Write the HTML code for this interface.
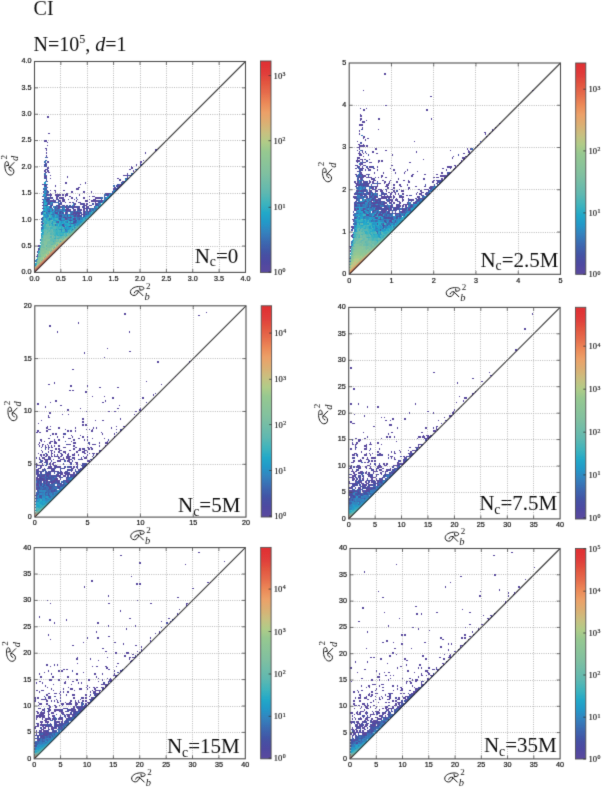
<!DOCTYPE html><html><head><meta charset="utf-8"><style>html,body{margin:0;padding:0;background:#fff;}svg{display:block}</style></head><body>
<svg width="602" height="787" viewBox="0 0 602 787">
<defs><filter id="bl" x="0" y="0" width="602" height="787" filterUnits="userSpaceOnUse"><feConvolveMatrix order="3" kernelMatrix="0.0113 0.0838 0.0113 0.0838 0.6196 0.0838 0.0113 0.0838 0.0113" edgeMode="none" preserveAlpha="false"/></filter><linearGradient id="cm" x1="0" y1="1" x2="0" y2="0"><stop offset="0.0" stop-color="#5b4a9f"/><stop offset="0.04" stop-color="#5048a0"/><stop offset="0.09" stop-color="#4452a4"/><stop offset="0.14" stop-color="#3c68b0"/><stop offset="0.19" stop-color="#3482be"/><stop offset="0.235" stop-color="#2498c8"/><stop offset="0.28" stop-color="#22a8c8"/><stop offset="0.33" stop-color="#40b4bc"/><stop offset="0.38" stop-color="#60b8b0"/><stop offset="0.47" stop-color="#80c0a0"/><stop offset="0.57" stop-color="#96c890"/><stop offset="0.614" stop-color="#b0cc88"/><stop offset="0.66" stop-color="#c8c080"/><stop offset="0.71" stop-color="#dcae72"/><stop offset="0.756" stop-color="#eca068"/><stop offset="0.8" stop-color="#ec8a58"/><stop offset="0.85" stop-color="#e66c4c"/><stop offset="0.9" stop-color="#e2543f"/><stop offset="0.945" stop-color="#e03c3a"/><stop offset="1.0" stop-color="#e02e32"/></linearGradient></defs>
<rect width="602" height="787" fill="#fff"/><g filter="url(#bl)">
<text x="33.6" y="14.6" font-family="Liberation Serif" font-size="20" fill="#111">CI</text>
<text x="33.6" y="50.6" font-family="Liberation Serif" font-size="20" fill="#111">N=10<tspan font-size="12" dy="-8">5</tspan><tspan dy="8">, </tspan><tspan font-style="italic">d</tspan>=1</text>
<path d="M60.50 61.50V272.40M34.50 246.50H245.50M87.50 61.50V272.40M34.50 219.50H245.50M113.50 61.50V272.40M34.50 193.50H245.50M140.50 61.50V272.40M34.50 166.50H245.50M166.50 61.50V272.40M34.50 140.50H245.50M192.50 61.50V272.40M34.50 114.50H245.50M219.50 61.50V272.40M34.50 87.50H245.50" stroke="#bcbcbc" stroke-width="1" stroke-dasharray="1 1.25" fill="none"/>
<defs><clipPath id="cq0"><polygon points="34.50,61.50 34.50,272.80 245.90,61.50"/></clipPath></defs><g clip-path="url(#cq0)"><g transform="translate(34.50,272.40) scale(1.5)" fill="none" stroke-width="1" shape-rendering="crispEdges"><path d="M0 -0.5h1M21 -22.5h1M21.5 -23.5h1M15 -24.5h1M23 -24.5h1M14 -26.5h1M17 -26.5h2M25 -26.5h1M4.5 -27.5h1M27.5 -27.5h1M18 -28.5h1M23 -28.5h1M24.5 -29.5h1M9.5 -31.5h1M22.5 -31.5h1M14 -32.5h1M18 -32.5h1M13.5 -33.5h1M24.5 -33.5h1M20 -34.5h1M8.5 -35.5h1M11.5 -35.5h1M32.5 -35.5h1M6 -36.5h1M10.5 -39.5h1M6.5 -43.5h1M6.5 -45.5h1" stroke="#2eaec6"/><path d="M1 -0.5h1M0.5 -3.5h1M2.5 -3.5h1M2.5 -5.5h1M3 -6.5h1M6.5 -7.5h1M6.5 -9.5h1M3 -10.5h1M14 -14.5h1M14.5 -15.5h1M5 -18.5h1M12.5 -19.5h1M14 -20.5h1M12 -22.5h1M7.5 -31.5h1" stroke="#6abaaa"/><path d="M0.5 -1.5h1M2 -2.5h1M1.5 -9.5h1M3 -16.5h1M13 -16.5h1M15 -22.5h1M13.5 -23.5h1M20.5 -23.5h1M16 -24.5h1M5.5 -25.5h1M13.5 -25.5h1M17.5 -25.5h1M24.5 -25.5h2M16.5 -27.5h1M25.5 -27.5h1M12 -28.5h1M6.5 -29.5h1M11.5 -29.5h1M14.5 -29.5h1M16.5 -29.5h1M12 -30.5h1M14 -30.5h1M20 -30.5h1M5.5 -31.5h1M9 -32.5h1M7 -34.5h1M10 -34.5h1M34 -36.5h1M37.5 -39.5h1" stroke="#42b6ba"/><path d="M1.5 -1.5h1M7 -10.5h1M15.5 -15.5h1M15 -20.5h1M5.5 -23.5h1M12 -24.5h1M7.5 -27.5h1" stroke="#6ebeaa"/><path d="M0 -2.5h1M11 -14.5h1M12.5 -15.5h1M16.5 -17.5h1M10.5 -21.5h1M23.5 -23.5h1M11.5 -25.5h1M19.5 -25.5h1M10 -26.5h1M22 -26.5h1M6 -28.5h2M9 -28.5h1M9.5 -29.5h1M11 -34.5h1" stroke="#62bab2"/><path d="M1 -2.5h1M10 -12.5h1M13.5 -15.5h1M15 -16.5h1M15 -18.5h1M4 -20.5h1M19 -20.5h1M21.5 -21.5h1M16 -22.5h1M16.5 -23.5h1M10.5 -25.5h1M12.5 -25.5h1M9.5 -27.5h1M8 -28.5h1M7.5 -29.5h1M25.5 -29.5h1M7 -30.5h1M11 -30.5h1M13 -30.5h1" stroke="#52b6b6"/><path d="M3 -2.5h1M3.5 -5.5h2M1 -6.5h1M2.5 -11.5h1M8 -16.5h1M6.5 -21.5h1M7 -22.5h1M8.5 -23.5h1" stroke="#7abea2"/><path d="M1.5 -3.5h1M4 -6.5h1M4.5 -7.5h1M8.5 -11.5h1M9 -12.5h1M11 -12.5h1M13.5 -13.5h1M7.5 -15.5h1M6 -16.5h1M8 -18.5h1M12 -18.5h1M4.5 -19.5h1M9.5 -19.5h3M18.5 -19.5h1M9 -20.5h2M5 -22.5h1M9 -22.5h1M9.5 -23.5h1M8.5 -25.5h2M6 -26.5h2M9 -26.5h1" stroke="#72bea6"/><path d="M3.5 -3.5h1M1 -4.5h1M9 -10.5h1M3 -14.5h1M3.5 -15.5h1M5 -16.5h1M16 -16.5h2M9.5 -17.5h1M10 -18.5h1M8.5 -19.5h1M13.5 -19.5h1M19.5 -19.5h1M5 -20.5h1M5.5 -21.5h1M10 -22.5h1M6 -24.5h3M10 -24.5h1M21.5 -25.5h1" stroke="#76bea6"/><path d="M0 -4.5h1M0.5 -7.5h1M3.5 -21.5h1M4 -24.5h1M20.5 -27.5h1M26.5 -27.5h1M17 -28.5h1M26.5 -29.5h1M26.5 -31.5h1M23 -32.5h1M27 -32.5h1M32 -32.5h1M23.5 -33.5h1M33.5 -33.5h1M18 -34.5h2M25 -34.5h1M29 -34.5h1M17.5 -35.5h1M22.5 -35.5h1M30.5 -35.5h2M12 -36.5h1M18 -36.5h1M27 -36.5h1M30 -36.5h2M37 -36.5h1M8.5 -37.5h1M12.5 -37.5h1M15.5 -37.5h1M18.5 -37.5h1M20.5 -37.5h1M33.5 -37.5h1M36.5 -37.5h2M6 -38.5h1M8 -38.5h1M19 -38.5h1M9.5 -39.5h1M12.5 -39.5h1M23.5 -39.5h1M10 -40.5h1M34 -40.5h1M8.5 -41.5h1M16.5 -41.5h2M19.5 -41.5h1M8 -42.5h1M11 -42.5h1M5.5 -43.5h1M7.5 -43.5h1M12.5 -43.5h1M25 -44.5h1M10.5 -45.5h1M25.5 -45.5h1M8 -46.5h1M5.5 -47.5h1M47 -48.5h1M7.5 -49.5h1M48 -50.5h1M7 -54.5h1M53 -54.5h2M55.5 -55.5h1M7 -60.5h1M61 -60.5h1" stroke="#3682be"/><path d="M2 -4.5h1M7.5 -9.5h1M11.5 -13.5h1M14 -16.5h1M7.5 -17.5h1M16.5 -19.5h1M11.5 -21.5h2M14 -22.5h1M19 -22.5h1M5 -24.5h1M12 -26.5h1M6.5 -27.5h1M8.5 -27.5h1M8.5 -31.5h1M13 -32.5h1" stroke="#62baae"/><path d="M3 -4.5h1M6 -8.5h1M13 -14.5h1M4 -18.5h1M17.5 -19.5h1M18 -20.5h1M10.5 -23.5h1M17.5 -23.5h1M14 -24.5h1M24 -24.5h1M22.5 -25.5h1M26 -26.5h1M8.5 -29.5h1M12.5 -29.5h2M27 -30.5h1M10 -32.5h1M12 -32.5h1M5.5 -33.5h1M6.5 -35.5h1M9.5 -37.5h1M38 -40.5h1" stroke="#56b6b6"/><path d="M4 -4.5h1M8 -8.5h1M11.5 -11.5h1M4.5 -17.5h1M8.5 -17.5h1M5.5 -19.5h1M14.5 -21.5h1M11.5 -23.5h1M9 -24.5h1" stroke="#7abea6"/><path d="M5 -4.5h1M6 -6.5h1M9 -8.5h1M3 -12.5h1M5 -12.5h1M4 -14.5h1M6.5 -15.5h1M6 -18.5h1M13 -18.5h1M7 -20.5h1M7.5 -21.5h3M18 -22.5h1" stroke="#82c29e"/><path d="M0.5 -5.5h1M17 -24.5h1M21 -24.5h1M23.5 -25.5h1M19 -26.5h1M21 -26.5h1M23 -26.5h1M24.5 -27.5h1M5 -28.5h1M26 -28.5h1M17.5 -29.5h1M21.5 -29.5h1M23.5 -29.5h1M16 -30.5h1M25 -30.5h1M21.5 -31.5h1M27.5 -31.5h1M30.5 -31.5h1M7 -32.5h1M21 -32.5h2M30 -32.5h1M16.5 -33.5h1M31 -34.5h1M35 -34.5h1M5.5 -35.5h1M12.5 -35.5h1M11 -36.5h1M9 -38.5h2M12 -40.5h1M6.5 -41.5h1M8.5 -43.5h1M7.5 -45.5h1M43.5 -45.5h1M48.5 -49.5h1M6 -50.5h1M50 -50.5h1M51.5 -51.5h1" stroke="#22aaca"/><path d="M1.5 -5.5h1M4.5 -9.5h1M6.5 -11.5h1M14 -18.5h1" stroke="#96ca92"/><path d="M5.5 -5.5h1M7 -6.5h1M7.5 -7.5h1M2 -8.5h1M6 -14.5h1M8 -14.5h2M4.5 -15.5h1M8.5 -15.5h2M7 -18.5h1M16.5 -21.5h1M6 -22.5h1" stroke="#86c29e"/><path d="M2 -6.5h1" stroke="#92c692"/><path d="M5 -6.5h1M7 -8.5h1M10 -10.5h2M3.5 -13.5h1M4 -16.5h1M6.5 -17.5h1M6.5 -19.5h1M6 -20.5h1" stroke="#82c2a2"/><path d="M1.5 -7.5h1M5 -8.5h1M9.5 -9.5h1M8 -10.5h1M3.5 -11.5h1M13 -12.5h1M12.5 -13.5h1M15 -14.5h1M9 -16.5h2M5.5 -17.5h1M10.5 -17.5h1M8 -20.5h1M8 -22.5h1M6.5 -23.5h2M19.5 -23.5h1" stroke="#7ebea2"/><path d="M2.5 -7.5h1M5 -10.5h1M10.5 -15.5h1" stroke="#92c696"/><path d="M3.5 -7.5h1" stroke="#b2ca86"/><path d="M5.5 -7.5h1M17.5 -17.5h1M17 -18.5h1M13 -20.5h1M21 -20.5h1M18.5 -21.5h1M11 -22.5h1M20 -24.5h1M7.5 -25.5h1M11 -28.5h1" stroke="#66baae"/><path d="M1 -8.5h1M17.5 -27.5h1M21 -28.5h2M19.5 -29.5h1M22 -30.5h1M31 -30.5h1M19.5 -31.5h1M23.5 -31.5h1M28.5 -31.5h1M31 -32.5h1M33 -32.5h1M17.5 -33.5h1M20.5 -33.5h1M28.5 -33.5h1M30.5 -33.5h1M5 -34.5h1M33 -34.5h1M10.5 -35.5h1M15.5 -35.5h1M19.5 -35.5h1M24.5 -35.5h1M27.5 -35.5h1M7 -36.5h1M14 -36.5h2M35 -36.5h1M11.5 -37.5h1M24.5 -37.5h1M34.5 -37.5h2M14 -38.5h1M18 -38.5h1M22 -38.5h1M36 -38.5h1M8.5 -39.5h1M11.5 -39.5h1M36.5 -39.5h1M8 -40.5h1M11 -40.5h1M14 -40.5h1M41 -40.5h1M37.5 -41.5h1M6 -42.5h1M9 -42.5h2M40.5 -43.5h1M6 -44.5h1M11 -46.5h1M45.5 -47.5h1M6 -48.5h1M47.5 -49.5h1M49 -50.5h1M51 -52.5h1M52.5 -53.5h1M7 -56.5h1M8 -58.5h1M60 -60.5h1" stroke="#2a8ec6"/><path d="M3 -8.5h1M3.5 -9.5h1M4.5 -11.5h2M7 -12.5h1M5.5 -13.5h1M7.5 -13.5h1M12.5 -17.5h1M14.5 -19.5h1M16 -20.5h1M17.5 -21.5h1" stroke="#8ec696"/><path d="M4 -8.5h1M10 -14.5h1M15.5 -19.5h1" stroke="#a2ca8e"/><path d="M2.5 -9.5h1M6.5 -13.5h1M5 -14.5h1M5.5 -15.5h1M7.5 -19.5h1" stroke="#86c29a"/><path d="M5.5 -9.5h1M9.5 -13.5h1" stroke="#bec686"/><path d="M8.5 -9.5h1M4 -10.5h1M6 -12.5h1M4.5 -13.5h1M7 -16.5h1M11 -16.5h1M11.5 -17.5h1" stroke="#8ac29a"/><path d="M1 -10.5h1M1.5 -13.5h1M2 -14.5h1M2.5 -17.5h1M19 -30.5h1M29.5 -31.5h1M5 -32.5h1M15.5 -33.5h1M20.5 -35.5h1M26.5 -35.5h1M35.5 -35.5h1M19 -36.5h1M22 -36.5h3M36 -36.5h1M26.5 -37.5h1M28.5 -37.5h1M4 -38.5h1M24 -38.5h2M29 -38.5h1M31 -38.5h1M33 -38.5h1M39 -38.5h1M14.5 -39.5h1M20.5 -39.5h1M25.5 -39.5h2M28.5 -39.5h2M32.5 -39.5h1M21 -40.5h1M26 -40.5h1M33 -40.5h1M35 -40.5h1M39 -40.5h1M11.5 -41.5h1M13.5 -41.5h1M21.5 -41.5h3M25.5 -41.5h2M30.5 -41.5h1M32.5 -41.5h1M36.5 -41.5h1M40.5 -41.5h1M5 -42.5h1M15 -42.5h1M21 -42.5h2M28 -42.5h2M32 -42.5h3M36 -42.5h1M43 -42.5h1M15.5 -43.5h2M20.5 -43.5h1M25.5 -43.5h2M29.5 -43.5h1M31.5 -43.5h1M34.5 -43.5h2M42.5 -43.5h1M5 -44.5h1M15 -44.5h2M18 -44.5h2M26 -44.5h1M32 -44.5h3M37 -44.5h1M44 -44.5h1M9.5 -45.5h1M17.5 -45.5h1M26.5 -45.5h1M30.5 -45.5h1M32.5 -45.5h1M34.5 -45.5h1M40.5 -45.5h1M5 -46.5h1M9 -46.5h1M20 -46.5h1M23 -46.5h1M25 -46.5h1M29 -46.5h2M36 -46.5h1M40 -46.5h1M42 -46.5h1M46 -46.5h1M10.5 -47.5h3M16.5 -47.5h1M18.5 -47.5h2M27.5 -47.5h1M33.5 -47.5h2M37.5 -47.5h5M44.5 -47.5h1M47.5 -47.5h1M8 -48.5h2M14 -48.5h1M19 -48.5h1M22 -48.5h1M26 -48.5h1M28 -48.5h1M36 -48.5h1M39 -48.5h2M44 -48.5h1M10.5 -49.5h1M14.5 -49.5h1M16.5 -49.5h3M24.5 -49.5h1M32.5 -49.5h1M40.5 -49.5h3M5 -50.5h1M14 -50.5h1M20 -50.5h1M23 -50.5h1M36 -50.5h1M38 -50.5h2M46 -50.5h1M7.5 -51.5h2M10.5 -51.5h1M13.5 -51.5h4M18.5 -51.5h1M20.5 -51.5h2M29.5 -51.5h1M48.5 -51.5h1M10 -52.5h1M21 -52.5h1M47 -52.5h3M5.5 -53.5h1M13.5 -53.5h1M24.5 -53.5h1M32.5 -53.5h1M37.5 -53.5h1M51.5 -53.5h1M8 -54.5h1M10 -54.5h1M13 -54.5h1M19 -54.5h1M27.5 -55.5h2M52.5 -55.5h1M8 -56.5h1M29 -56.5h1M53 -56.5h1M7.5 -57.5h1M13.5 -57.5h1M55.5 -57.5h2M5 -58.5h1M30 -58.5h1M57 -58.5h1M20.5 -59.5h1M33.5 -59.5h1M8 -60.5h1M58 -60.5h2M56.5 -61.5h1M61.5 -61.5h1M10 -62.5h1M55 -62.5h1M62 -62.5h1M6.5 -63.5h2M21.5 -63.5h1M6 -64.5h1M10 -64.5h1M59 -64.5h3M61.5 -65.5h1M7 -66.5h1M9 -66.5h1M66 -66.5h1M6.5 -67.5h1M8.5 -67.5h1M65.5 -67.5h1M67.5 -67.5h1M7 -68.5h1M63 -68.5h1M68 -68.5h2M8.5 -69.5h1M64.5 -69.5h1M69.5 -69.5h1M64 -70.5h1M7.5 -71.5h1M67.5 -71.5h1M71.5 -71.5h1M70 -72.5h1M8.5 -73.5h1M70.5 -73.5h1M72 -74.5h1M74 -74.5h2M8 -76.5h1M76 -76.5h1M7.5 -77.5h1M7.5 -79.5h1M73.5 -79.5h1M7.5 -81.5h1M80.5 -81.5h1M7 -82.5h1M82 -82.5h1M8 -84.5h1M8 -86.5h1M6.5 -87.5h2M9 -92.5h1M8.5 -103.5h1" stroke="#5a4a9e"/><path d="M2 -10.5h1M12 -14.5h1M15.5 -17.5h1M19 -18.5h1M20 -20.5h1M20.5 -21.5h1M22 -22.5h1M19 -24.5h1M25 -24.5h1M15.5 -25.5h1M20.5 -25.5h1M13 -26.5h1M5.5 -27.5h1M12.5 -27.5h1M15.5 -27.5h1M18.5 -27.5h1M10 -28.5h1M10.5 -31.5h1M15.5 -31.5h1M8 -32.5h1M8.5 -33.5h1M10.5 -33.5h1M5.5 -37.5h1M41.5 -43.5h1M49.5 -49.5h1" stroke="#4ab6ba"/><path d="M6 -10.5h1M8 -12.5h1" stroke="#aaca8a"/><path d="M1.5 -11.5h1M2.5 -15.5h1M20 -28.5h1M23 -30.5h1M28 -30.5h1M18.5 -31.5h1M24 -32.5h2M25.5 -33.5h2M23 -34.5h2M27 -34.5h1M4.5 -35.5h1M16.5 -35.5h1M25.5 -35.5h1M29.5 -35.5h1M33.5 -35.5h1M20 -36.5h1M16.5 -37.5h2M21.5 -37.5h1M29.5 -37.5h2M32.5 -37.5h1M20 -38.5h1M27 -38.5h1M32 -38.5h1M34 -38.5h1M37 -38.5h1M4.5 -39.5h1M13.5 -39.5h1M16.5 -39.5h1M18.5 -39.5h1M27.5 -39.5h1M30.5 -39.5h1M35.5 -39.5h1M38.5 -39.5h2M6 -40.5h1M9 -40.5h1M17 -40.5h1M23 -40.5h1M28 -40.5h1M32 -40.5h1M36 -40.5h1M20.5 -41.5h1M28.5 -41.5h2M34.5 -41.5h1M16 -42.5h1M18 -42.5h1M25 -42.5h1M35 -42.5h1M38 -42.5h1M41 -42.5h1M10.5 -43.5h1M13.5 -43.5h1M22.5 -43.5h3M27.5 -43.5h2M32.5 -43.5h1M39.5 -43.5h1M7 -44.5h2M10 -44.5h2M14 -44.5h1M21 -44.5h1M23 -44.5h1M36 -44.5h1M40 -44.5h3M45 -44.5h1M8.5 -45.5h1M11.5 -45.5h1M16.5 -45.5h1M31.5 -45.5h1M38.5 -45.5h1M41.5 -45.5h1M13 -46.5h1M17 -46.5h1M43 -46.5h2M7.5 -47.5h2M13.5 -47.5h1M15.5 -47.5h1M42.5 -47.5h2M5 -48.5h1M7 -48.5h1M12 -48.5h1M15 -48.5h1M18 -48.5h1M8.5 -49.5h1M11.5 -49.5h1M27.5 -49.5h1M43.5 -49.5h1M10 -50.5h1M15 -50.5h1M47.5 -51.5h1M8.5 -53.5h1M55 -54.5h1M7.5 -55.5h1M53.5 -55.5h2M55 -56.5h1M57 -56.5h1M6.5 -57.5h1M54.5 -57.5h1M57.5 -57.5h1M6 -58.5h2M55 -58.5h1M58 -58.5h2M57.5 -59.5h1M7.5 -61.5h1M7 -62.5h1M61 -62.5h1M61.5 -63.5h1M62 -64.5h4M67 -66.5h1M8 -68.5h1M6 -70.5h2M6.5 -71.5h1M70.5 -71.5h1M7 -72.5h1" stroke="#4252a6"/><path d="M7.5 -11.5h1" stroke="#c2c682"/><path d="M9.5 -11.5h1M10.5 -13.5h1M16 -18.5h1M18 -18.5h1M15.5 -21.5h1M19.5 -21.5h1M17 -22.5h1M20 -22.5h1M12.5 -23.5h1M14.5 -23.5h1M18.5 -23.5h1M11.5 -27.5h1M10 -30.5h1" stroke="#6abaae"/><path d="M10.5 -11.5h1M12 -12.5h1M9 -18.5h1" stroke="#7ec2a2"/><path d="M2 -12.5h1M4.5 -25.5h1M14 -28.5h1M27.5 -29.5h1M18 -30.5h1M11.5 -31.5h1M14.5 -31.5h1M16.5 -31.5h1M20.5 -31.5h1M25.5 -31.5h1M15 -32.5h1M17 -32.5h1M28 -32.5h1M18.5 -33.5h1M9 -34.5h1M12 -34.5h1M14 -34.5h1M16 -34.5h1M21 -34.5h1M7.5 -35.5h1M18.5 -35.5h1M13 -36.5h1M25 -36.5h1M5 -38.5h1M7 -38.5h1M5.5 -39.5h1M15.5 -39.5h1M19 -40.5h1M5.5 -41.5h1M7 -42.5h1M6 -46.5h1M6.5 -47.5h1M5.5 -51.5h1M52 -52.5h1M56 -56.5h1M6.5 -59.5h1" stroke="#22a2ca"/><path d="M4 -12.5h1M7 -14.5h1" stroke="#8ac69a"/><path d="M2.5 -13.5h1M3.5 -17.5h1M3.5 -19.5h1M13 -22.5h1M4.5 -23.5h1M18 -24.5h1M22 -24.5h1M14.5 -25.5h1M20 -26.5h1M24 -26.5h1M15.5 -29.5h1M15 -30.5h1M17 -30.5h1M30 -30.5h1M24.5 -31.5h1M16 -32.5h1M20 -32.5h1M6.5 -33.5h2M19.5 -33.5h1M22.5 -33.5h1M8 -34.5h1M15 -34.5h1M32 -34.5h1M10.5 -37.5h1M13.5 -37.5h1" stroke="#36aec2"/><path d="M8.5 -13.5h1" stroke="#96c692"/><path d="M11.5 -15.5h1" stroke="#b6ca86"/><path d="M12 -16.5h1" stroke="#9aca8e"/><path d="M13.5 -17.5h1" stroke="#b2ce8a"/><path d="M14.5 -17.5h1M12 -20.5h1M13 -24.5h1M16.5 -25.5h1M18.5 -25.5h1M8 -26.5h1M15 -26.5h2M13.5 -27.5h2M19.5 -27.5h1M22.5 -27.5h1M13 -28.5h1M15 -28.5h1M19 -28.5h1M24 -28.5h1M10.5 -29.5h1M18.5 -29.5h1M28.5 -29.5h2M6 -30.5h1M6.5 -31.5h1M12.5 -31.5h1M9.5 -33.5h1M12.5 -33.5h1M6 -34.5h1M13.5 -35.5h2M9 -36.5h2M6.5 -39.5h1" stroke="#3eb2be"/><path d="M11 -18.5h1M4.5 -21.5h1M13.5 -21.5h1M4 -22.5h1M23 -22.5h1M15.5 -23.5h1M22.5 -23.5h1M11 -26.5h1M10.5 -27.5h1M23.5 -27.5h1M6 -32.5h1" stroke="#5eb6b2"/><path d="M11 -20.5h1M11 -24.5h1M6.5 -25.5h1M8 -30.5h2" stroke="#6ebaaa"/><path d="M17 -20.5h1M5 -26.5h1M27 -26.5h1M21.5 -27.5h1M16 -28.5h1M28 -28.5h2M5.5 -29.5h1M20.5 -29.5h1M22.5 -29.5h1M5 -30.5h1M21 -30.5h1M24 -30.5h1M26 -30.5h1M29 -30.5h1M17.5 -31.5h1M11 -32.5h1M19 -32.5h1M29 -32.5h1M11.5 -33.5h1M29.5 -33.5h1M31.5 -33.5h2M13 -34.5h1M22 -34.5h1M28 -34.5h1M30 -34.5h1M8 -36.5h1M33 -36.5h1M6.5 -37.5h2M14.5 -37.5h1M22.5 -37.5h1M13 -38.5h1M38 -38.5h1M7 -40.5h1M7.5 -41.5h1M10.5 -41.5h1M12.5 -41.5h1M39.5 -41.5h1M19 -42.5h1M43 -44.5h1M7 -46.5h1M45 -46.5h1M51 -50.5h1M6.5 -51.5h1M49.5 -51.5h1M6.5 -53.5h1M6 -56.5h1M60.5 -61.5h1" stroke="#269aca"/><path d="M4 -28.5h1M25 -28.5h1M27 -28.5h1M4.5 -29.5h1M4.5 -31.5h1M13.5 -31.5h1M31.5 -31.5h1M26 -32.5h1M4.5 -33.5h1M14.5 -33.5h1M21.5 -33.5h1M27.5 -33.5h1M17 -34.5h1M26 -34.5h1M34 -34.5h1M9.5 -35.5h1M21.5 -35.5h1M23.5 -35.5h1M28.5 -35.5h1M34.5 -35.5h1M5 -36.5h1M16 -36.5h2M21 -36.5h1M26 -36.5h1M28 -36.5h2M32 -36.5h1M19.5 -37.5h1M23.5 -37.5h1M25.5 -37.5h1M27.5 -37.5h1M11 -38.5h2M15 -38.5h3M21 -38.5h1M23 -38.5h1M26 -38.5h1M28 -38.5h1M35 -38.5h1M7.5 -39.5h1M17.5 -39.5h1M21.5 -39.5h1M24.5 -39.5h1M33.5 -39.5h2M5 -40.5h1M13 -40.5h1M15 -40.5h2M18 -40.5h1M20 -40.5h1M22 -40.5h1M24 -40.5h2M27 -40.5h1M29 -40.5h2M37 -40.5h1M40 -40.5h1M9.5 -41.5h1M14.5 -41.5h2M18.5 -41.5h1M38.5 -41.5h1M13 -42.5h2M37 -42.5h1M39 -42.5h2M42 -42.5h1M9.5 -43.5h1M14.5 -43.5h1M17.5 -43.5h3M21.5 -43.5h1M5.5 -45.5h1M15.5 -45.5h1M42.5 -45.5h1M10 -46.5h1M12 -46.5h1M14 -46.5h2M9.5 -47.5h1M46.5 -47.5h1M46 -48.5h1M6.5 -49.5h1M9.5 -49.5h1M44.5 -49.5h1M46.5 -49.5h1M7 -50.5h1M9.5 -51.5h1M46.5 -51.5h1M50.5 -51.5h1M6 -52.5h3M50 -52.5h1M53 -52.5h1M7.5 -53.5h1M53.5 -53.5h1M6 -54.5h1M52 -54.5h1M5.5 -55.5h2M52.5 -57.5h1M56 -58.5h1M58.5 -59.5h2M6 -62.5h1M60 -62.5h1M63 -62.5h1M7 -64.5h1M6.5 -65.5h1M64.5 -65.5h2M67 -68.5h1M72 -72.5h1M6.5 -73.5h1M7 -74.5h1M7 -76.5h1" stroke="#3a6eb2"/></g></g>
<defs><linearGradient id="g0_0" gradientUnits="userSpaceOnUse" x1="34.50" y1="272.40" x2="245.50" y2="61.50"><stop offset="0.000" stop-color="#e02e32" stop-opacity="1.00"/><stop offset="0.025" stop-color="#e02e32" stop-opacity="1.00"/><stop offset="0.050" stop-color="#e02e32" stop-opacity="1.00"/><stop offset="0.075" stop-color="#e02e32" stop-opacity="1.00"/><stop offset="0.100" stop-color="#e03234" stop-opacity="1.00"/><stop offset="0.125" stop-color="#e03938" stop-opacity="1.00"/><stop offset="0.150" stop-color="#e46246" stop-opacity="1.00"/><stop offset="0.175" stop-color="#e7a46b" stop-opacity="1.00"/><stop offset="0.200" stop-color="#c3c382" stop-opacity="1.00"/><stop offset="0.225" stop-color="#93c792" stop-opacity="1.00"/><stop offset="0.250" stop-color="#86c29c" stop-opacity="1.00"/><stop offset="0.275" stop-color="#73bda6" stop-opacity="1.00"/><stop offset="0.300" stop-color="#61b8b0" stop-opacity="1.00"/><stop offset="0.325" stop-color="#3fb4bc" stop-opacity="1.00"/><stop offset="0.350" stop-color="#22a7c8" stop-opacity="0.95"/><stop offset="0.375" stop-color="#2794c6" stop-opacity="0.14"/><stop offset="0.400" stop-color="#367bba" stop-opacity="0.00"/><stop offset="0.425" stop-color="#3e62ad" stop-opacity="0.00"/><stop offset="0.450" stop-color="#484fa3" stop-opacity="0.00"/><stop offset="0.475" stop-color="#5549a0" stop-opacity="0.00"/><stop offset="0.500" stop-color="#5b4a9f" stop-opacity="0.00"/><stop offset="0.525" stop-color="#5b4a9f" stop-opacity="0.00"/><stop offset="0.550" stop-color="#5b4a9f" stop-opacity="0.00"/><stop offset="0.575" stop-color="#5b4a9f" stop-opacity="0.00"/><stop offset="0.600" stop-color="#5b4a9f" stop-opacity="0.00"/><stop offset="0.625" stop-color="#5b4a9f" stop-opacity="0.00"/><stop offset="0.650" stop-color="#5b4a9f" stop-opacity="0.00"/><stop offset="0.675" stop-color="#5b4a9f" stop-opacity="0.00"/><stop offset="0.700" stop-color="#5b4a9f" stop-opacity="0.00"/><stop offset="0.725" stop-color="#5b4a9f" stop-opacity="0.00"/><stop offset="0.750" stop-color="#5b4a9f" stop-opacity="0.00"/><stop offset="0.775" stop-color="#5b4a9f" stop-opacity="0.00"/><stop offset="0.800" stop-color="#5b4a9f" stop-opacity="0.00"/><stop offset="0.825" stop-color="#5b4a9f" stop-opacity="0.00"/><stop offset="0.850" stop-color="#5b4a9f" stop-opacity="0.00"/><stop offset="0.875" stop-color="#5b4a9f" stop-opacity="0.00"/><stop offset="0.900" stop-color="#5b4a9f" stop-opacity="0.00"/><stop offset="0.925" stop-color="#5b4a9f" stop-opacity="0.00"/><stop offset="0.950" stop-color="#5b4a9f" stop-opacity="0.00"/><stop offset="0.975" stop-color="#5b4a9f" stop-opacity="0.00"/><stop offset="1.000" stop-color="#5b4a9f" stop-opacity="0.00"/></linearGradient><linearGradient id="g0_1" gradientUnits="userSpaceOnUse" x1="34.50" y1="272.40" x2="245.50" y2="61.50"><stop offset="0.000" stop-color="#e03a39" stop-opacity="1.00"/><stop offset="0.025" stop-color="#e03c3a" stop-opacity="1.00"/><stop offset="0.050" stop-color="#e03e3a" stop-opacity="1.00"/><stop offset="0.075" stop-color="#e0413b" stop-opacity="1.00"/><stop offset="0.100" stop-color="#e14e3e" stop-opacity="1.00"/><stop offset="0.125" stop-color="#e35b43" stop-opacity="1.00"/><stop offset="0.150" stop-color="#ec8d5a" stop-opacity="1.00"/><stop offset="0.175" stop-color="#c7c080" stop-opacity="1.00"/><stop offset="0.200" stop-color="#95c891" stop-opacity="1.00"/><stop offset="0.225" stop-color="#81c09f" stop-opacity="1.00"/><stop offset="0.250" stop-color="#6ebba9" stop-opacity="1.00"/><stop offset="0.275" stop-color="#54b7b4" stop-opacity="1.00"/><stop offset="0.300" stop-color="#38b1bf" stop-opacity="1.00"/><stop offset="0.325" stop-color="#22a4c8" stop-opacity="0.85"/><stop offset="0.350" stop-color="#2992c5" stop-opacity="0.08"/><stop offset="0.375" stop-color="#377aba" stop-opacity="0.00"/><stop offset="0.400" stop-color="#3e62ad" stop-opacity="0.00"/><stop offset="0.425" stop-color="#474fa3" stop-opacity="0.00"/><stop offset="0.450" stop-color="#5449a0" stop-opacity="0.00"/><stop offset="0.475" stop-color="#5b4a9f" stop-opacity="0.00"/><stop offset="0.500" stop-color="#5b4a9f" stop-opacity="0.00"/><stop offset="0.525" stop-color="#5b4a9f" stop-opacity="0.00"/><stop offset="0.550" stop-color="#5b4a9f" stop-opacity="0.00"/><stop offset="0.575" stop-color="#5b4a9f" stop-opacity="0.00"/><stop offset="0.600" stop-color="#5b4a9f" stop-opacity="0.00"/><stop offset="0.625" stop-color="#5b4a9f" stop-opacity="0.00"/><stop offset="0.650" stop-color="#5b4a9f" stop-opacity="0.00"/><stop offset="0.675" stop-color="#5b4a9f" stop-opacity="0.00"/><stop offset="0.700" stop-color="#5b4a9f" stop-opacity="0.00"/><stop offset="0.725" stop-color="#5b4a9f" stop-opacity="0.00"/><stop offset="0.750" stop-color="#5b4a9f" stop-opacity="0.00"/><stop offset="0.775" stop-color="#5b4a9f" stop-opacity="0.00"/><stop offset="0.800" stop-color="#5b4a9f" stop-opacity="0.00"/><stop offset="0.825" stop-color="#5b4a9f" stop-opacity="0.00"/><stop offset="0.850" stop-color="#5b4a9f" stop-opacity="0.00"/><stop offset="0.875" stop-color="#5b4a9f" stop-opacity="0.00"/><stop offset="0.900" stop-color="#5b4a9f" stop-opacity="0.00"/><stop offset="0.925" stop-color="#5b4a9f" stop-opacity="0.00"/><stop offset="0.950" stop-color="#5b4a9f" stop-opacity="0.00"/><stop offset="0.975" stop-color="#5b4a9f" stop-opacity="0.00"/><stop offset="1.000" stop-color="#5b4a9f" stop-opacity="0.00"/></linearGradient><linearGradient id="g0_2" gradientUnits="userSpaceOnUse" x1="34.50" y1="272.40" x2="245.50" y2="61.50"><stop offset="0.000" stop-color="#e45e44" stop-opacity="1.00"/><stop offset="0.025" stop-color="#e46146" stop-opacity="1.00"/><stop offset="0.050" stop-color="#e56347" stop-opacity="1.00"/><stop offset="0.075" stop-color="#e56649" stop-opacity="1.00"/><stop offset="0.100" stop-color="#e7724f" stop-opacity="1.00"/><stop offset="0.125" stop-color="#ea8255" stop-opacity="1.00"/><stop offset="0.150" stop-color="#deac71" stop-opacity="1.00"/><stop offset="0.175" stop-color="#99c88f" stop-opacity="1.00"/><stop offset="0.200" stop-color="#83c19e" stop-opacity="1.00"/><stop offset="0.225" stop-color="#64b9ae" stop-opacity="1.00"/><stop offset="0.250" stop-color="#47b5b9" stop-opacity="1.00"/><stop offset="0.275" stop-color="#28aac6" stop-opacity="1.00"/><stop offset="0.300" stop-color="#239ec8" stop-opacity="0.55"/><stop offset="0.325" stop-color="#2d8cc3" stop-opacity="0.00"/><stop offset="0.350" stop-color="#3877b8" stop-opacity="0.00"/><stop offset="0.375" stop-color="#3f60ac" stop-opacity="0.00"/><stop offset="0.400" stop-color="#474fa3" stop-opacity="0.00"/><stop offset="0.425" stop-color="#5349a0" stop-opacity="0.00"/><stop offset="0.450" stop-color="#5b4a9f" stop-opacity="0.00"/><stop offset="0.475" stop-color="#5b4a9f" stop-opacity="0.00"/><stop offset="0.500" stop-color="#5b4a9f" stop-opacity="0.00"/><stop offset="0.525" stop-color="#5b4a9f" stop-opacity="0.00"/><stop offset="0.550" stop-color="#5b4a9f" stop-opacity="0.00"/><stop offset="0.575" stop-color="#5b4a9f" stop-opacity="0.00"/><stop offset="0.600" stop-color="#5b4a9f" stop-opacity="0.00"/><stop offset="0.625" stop-color="#5b4a9f" stop-opacity="0.00"/><stop offset="0.650" stop-color="#5b4a9f" stop-opacity="0.00"/><stop offset="0.675" stop-color="#5b4a9f" stop-opacity="0.00"/><stop offset="0.700" stop-color="#5b4a9f" stop-opacity="0.00"/><stop offset="0.725" stop-color="#5b4a9f" stop-opacity="0.00"/><stop offset="0.750" stop-color="#5b4a9f" stop-opacity="0.00"/><stop offset="0.775" stop-color="#5b4a9f" stop-opacity="0.00"/><stop offset="0.800" stop-color="#5b4a9f" stop-opacity="0.00"/><stop offset="0.825" stop-color="#5b4a9f" stop-opacity="0.00"/><stop offset="0.850" stop-color="#5b4a9f" stop-opacity="0.00"/><stop offset="0.875" stop-color="#5b4a9f" stop-opacity="0.00"/><stop offset="0.900" stop-color="#5b4a9f" stop-opacity="0.00"/><stop offset="0.925" stop-color="#5b4a9f" stop-opacity="0.00"/><stop offset="0.950" stop-color="#5b4a9f" stop-opacity="0.00"/><stop offset="0.975" stop-color="#5b4a9f" stop-opacity="0.00"/><stop offset="1.000" stop-color="#5b4a9f" stop-opacity="0.00"/></linearGradient><linearGradient id="g0_3" gradientUnits="userSpaceOnUse" x1="34.50" y1="272.40" x2="245.50" y2="61.50"><stop offset="0.000" stop-color="#eb8656" stop-opacity="1.00"/><stop offset="0.025" stop-color="#ec8958" stop-opacity="1.00"/><stop offset="0.050" stop-color="#ec8c59" stop-opacity="1.00"/><stop offset="0.075" stop-color="#ec8f5c" stop-opacity="1.00"/><stop offset="0.100" stop-color="#ec9b64" stop-opacity="1.00"/><stop offset="0.125" stop-color="#e7a56b" stop-opacity="1.00"/><stop offset="0.150" stop-color="#bdc584" stop-opacity="1.00"/><stop offset="0.175" stop-color="#85c29d" stop-opacity="1.00"/><stop offset="0.200" stop-color="#67baad" stop-opacity="1.00"/><stop offset="0.225" stop-color="#32afc1" stop-opacity="1.00"/><stop offset="0.250" stop-color="#23a2c8" stop-opacity="0.74"/><stop offset="0.275" stop-color="#2a8fc4" stop-opacity="0.00"/><stop offset="0.300" stop-color="#3580bd" stop-opacity="0.00"/><stop offset="0.325" stop-color="#3a6eb3" stop-opacity="0.00"/><stop offset="0.350" stop-color="#405daa" stop-opacity="0.00"/><stop offset="0.375" stop-color="#494ea2" stop-opacity="0.00"/><stop offset="0.400" stop-color="#5449a0" stop-opacity="0.00"/><stop offset="0.425" stop-color="#5b4a9f" stop-opacity="0.00"/><stop offset="0.450" stop-color="#5b4a9f" stop-opacity="0.00"/><stop offset="0.475" stop-color="#5b4a9f" stop-opacity="0.00"/><stop offset="0.500" stop-color="#5b4a9f" stop-opacity="0.00"/><stop offset="0.525" stop-color="#5b4a9f" stop-opacity="0.00"/><stop offset="0.550" stop-color="#5b4a9f" stop-opacity="0.00"/><stop offset="0.575" stop-color="#5b4a9f" stop-opacity="0.00"/><stop offset="0.600" stop-color="#5b4a9f" stop-opacity="0.00"/><stop offset="0.625" stop-color="#5b4a9f" stop-opacity="0.00"/><stop offset="0.650" stop-color="#5b4a9f" stop-opacity="0.00"/><stop offset="0.675" stop-color="#5b4a9f" stop-opacity="0.00"/><stop offset="0.700" stop-color="#5b4a9f" stop-opacity="0.00"/><stop offset="0.725" stop-color="#5b4a9f" stop-opacity="0.00"/><stop offset="0.750" stop-color="#5b4a9f" stop-opacity="0.00"/><stop offset="0.775" stop-color="#5b4a9f" stop-opacity="0.00"/><stop offset="0.800" stop-color="#5b4a9f" stop-opacity="0.00"/><stop offset="0.825" stop-color="#5b4a9f" stop-opacity="0.00"/><stop offset="0.850" stop-color="#5b4a9f" stop-opacity="0.00"/><stop offset="0.875" stop-color="#5b4a9f" stop-opacity="0.00"/><stop offset="0.900" stop-color="#5b4a9f" stop-opacity="0.00"/><stop offset="0.925" stop-color="#5b4a9f" stop-opacity="0.00"/><stop offset="0.950" stop-color="#5b4a9f" stop-opacity="0.00"/><stop offset="0.975" stop-color="#5b4a9f" stop-opacity="0.00"/><stop offset="1.000" stop-color="#5b4a9f" stop-opacity="0.00"/></linearGradient><linearGradient id="g0_4" gradientUnits="userSpaceOnUse" x1="34.50" y1="272.40" x2="245.50" y2="61.50"><stop offset="0.000" stop-color="#e4a76d" stop-opacity="1.00"/><stop offset="0.025" stop-color="#e3a86e" stop-opacity="1.00"/><stop offset="0.050" stop-color="#e1aa6f" stop-opacity="1.00"/><stop offset="0.075" stop-color="#dfac70" stop-opacity="1.00"/><stop offset="0.100" stop-color="#d6b476" stop-opacity="1.00"/><stop offset="0.125" stop-color="#cbbd7e" stop-opacity="1.00"/><stop offset="0.150" stop-color="#94c791" stop-opacity="1.00"/><stop offset="0.175" stop-color="#6abaab" stop-opacity="1.00"/><stop offset="0.200" stop-color="#37b0c0" stop-opacity="1.00"/><stop offset="0.225" stop-color="#2892c5" stop-opacity="0.11"/><stop offset="0.250" stop-color="#3580bd" stop-opacity="0.00"/><stop offset="0.275" stop-color="#3b6ab1" stop-opacity="0.00"/><stop offset="0.300" stop-color="#3f60ac" stop-opacity="0.00"/><stop offset="0.325" stop-color="#4453a5" stop-opacity="0.00"/><stop offset="0.350" stop-color="#4b4ca2" stop-opacity="0.00"/><stop offset="0.375" stop-color="#56499f" stop-opacity="0.00"/><stop offset="0.400" stop-color="#5b4a9f" stop-opacity="0.00"/><stop offset="0.425" stop-color="#5b4a9f" stop-opacity="0.00"/><stop offset="0.450" stop-color="#5b4a9f" stop-opacity="0.00"/><stop offset="0.475" stop-color="#5b4a9f" stop-opacity="0.00"/><stop offset="0.500" stop-color="#5b4a9f" stop-opacity="0.00"/><stop offset="0.525" stop-color="#5b4a9f" stop-opacity="0.00"/><stop offset="0.550" stop-color="#5b4a9f" stop-opacity="0.00"/><stop offset="0.575" stop-color="#5b4a9f" stop-opacity="0.00"/><stop offset="0.600" stop-color="#5b4a9f" stop-opacity="0.00"/><stop offset="0.625" stop-color="#5b4a9f" stop-opacity="0.00"/><stop offset="0.650" stop-color="#5b4a9f" stop-opacity="0.00"/><stop offset="0.675" stop-color="#5b4a9f" stop-opacity="0.00"/><stop offset="0.700" stop-color="#5b4a9f" stop-opacity="0.00"/><stop offset="0.725" stop-color="#5b4a9f" stop-opacity="0.00"/><stop offset="0.750" stop-color="#5b4a9f" stop-opacity="0.00"/><stop offset="0.775" stop-color="#5b4a9f" stop-opacity="0.00"/><stop offset="0.800" stop-color="#5b4a9f" stop-opacity="0.00"/><stop offset="0.825" stop-color="#5b4a9f" stop-opacity="0.00"/><stop offset="0.850" stop-color="#5b4a9f" stop-opacity="0.00"/><stop offset="0.875" stop-color="#5b4a9f" stop-opacity="0.00"/><stop offset="0.900" stop-color="#5b4a9f" stop-opacity="0.00"/><stop offset="0.925" stop-color="#5b4a9f" stop-opacity="0.00"/><stop offset="0.950" stop-color="#5b4a9f" stop-opacity="0.00"/><stop offset="0.975" stop-color="#5b4a9f" stop-opacity="0.00"/><stop offset="1.000" stop-color="#5b4a9f" stop-opacity="0.00"/></linearGradient><clipPath id="cp0"><rect x="34.50" y="61.50" width="211.00" height="210.90"/></clipPath></defs><g clip-path="url(#cp0)" fill="none"><path d="M34.50 272.40L245.50 61.50" stroke="url(#g0_0)" stroke-width="0.75"/><path d="M34.01 271.91L245.01 61.01" stroke="url(#g0_1)" stroke-width="0.75"/><path d="M33.51 271.41L244.51 60.51" stroke="url(#g0_2)" stroke-width="0.75"/><path d="M33.02 270.92L244.02 60.02" stroke="url(#g0_3)" stroke-width="0.75"/><path d="M32.52 270.42L243.52 59.52" stroke="url(#g0_4)" stroke-width="0.75"/></g>
<path d="M34.50 272.40L245.50 61.50" stroke="#1a1a1a" stroke-opacity="0.85" stroke-width="1.1" fill="none"/>
<path d="M60.88 272.40v-3.5M60.88 61.50v3.5M34.50 246.04h3.5M245.50 246.04h-3.5M87.25 272.40v-3.5M87.25 61.50v3.5M34.50 219.67h3.5M245.50 219.67h-3.5M113.62 272.40v-3.5M113.62 61.50v3.5M34.50 193.31h3.5M245.50 193.31h-3.5M140.00 272.40v-3.5M140.00 61.50v3.5M34.50 166.95h3.5M245.50 166.95h-3.5M166.38 272.40v-3.5M166.38 61.50v3.5M34.50 140.59h3.5M245.50 140.59h-3.5M192.75 272.40v-3.5M192.75 61.50v3.5M34.50 114.22h3.5M245.50 114.22h-3.5M219.12 272.40v-3.5M219.12 61.50v3.5M34.50 87.86h3.5M245.50 87.86h-3.5" stroke="#505050" stroke-width="0.8" fill="none"/>
<rect x="34.50" y="61.50" width="211.00" height="210.90" fill="none" stroke="#505050" stroke-width="1.1"/>
<text x="34.50" y="280.60" font-family="Liberation Sans" font-size="7.2" fill="#111" stroke="#111" stroke-width="0.2" text-anchor="middle">0.0</text>
<text x="31.50" y="274.30" font-family="Liberation Sans" font-size="7.2" fill="#111" stroke="#111" stroke-width="0.2" text-anchor="end">0.0</text>
<text x="60.88" y="280.60" font-family="Liberation Sans" font-size="7.2" fill="#111" stroke="#111" stroke-width="0.2" text-anchor="middle">0.5</text>
<text x="31.50" y="247.94" font-family="Liberation Sans" font-size="7.2" fill="#111" stroke="#111" stroke-width="0.2" text-anchor="end">0.5</text>
<text x="87.25" y="280.60" font-family="Liberation Sans" font-size="7.2" fill="#111" stroke="#111" stroke-width="0.2" text-anchor="middle">1.0</text>
<text x="31.50" y="221.57" font-family="Liberation Sans" font-size="7.2" fill="#111" stroke="#111" stroke-width="0.2" text-anchor="end">1.0</text>
<text x="113.62" y="280.60" font-family="Liberation Sans" font-size="7.2" fill="#111" stroke="#111" stroke-width="0.2" text-anchor="middle">1.5</text>
<text x="31.50" y="195.21" font-family="Liberation Sans" font-size="7.2" fill="#111" stroke="#111" stroke-width="0.2" text-anchor="end">1.5</text>
<text x="140.00" y="280.60" font-family="Liberation Sans" font-size="7.2" fill="#111" stroke="#111" stroke-width="0.2" text-anchor="middle">2.0</text>
<text x="31.50" y="168.85" font-family="Liberation Sans" font-size="7.2" fill="#111" stroke="#111" stroke-width="0.2" text-anchor="end">2.0</text>
<text x="166.38" y="280.60" font-family="Liberation Sans" font-size="7.2" fill="#111" stroke="#111" stroke-width="0.2" text-anchor="middle">2.5</text>
<text x="31.50" y="142.49" font-family="Liberation Sans" font-size="7.2" fill="#111" stroke="#111" stroke-width="0.2" text-anchor="end">2.5</text>
<text x="192.75" y="280.60" font-family="Liberation Sans" font-size="7.2" fill="#111" stroke="#111" stroke-width="0.2" text-anchor="middle">3.0</text>
<text x="31.50" y="116.12" font-family="Liberation Sans" font-size="7.2" fill="#111" stroke="#111" stroke-width="0.2" text-anchor="end">3.0</text>
<text x="219.12" y="280.60" font-family="Liberation Sans" font-size="7.2" fill="#111" stroke="#111" stroke-width="0.2" text-anchor="middle">3.5</text>
<text x="31.50" y="89.76" font-family="Liberation Sans" font-size="7.2" fill="#111" stroke="#111" stroke-width="0.2" text-anchor="end">3.5</text>
<text x="245.50" y="280.60" font-family="Liberation Sans" font-size="7.2" fill="#111" stroke="#111" stroke-width="0.2" text-anchor="middle">4.0</text>
<text x="31.50" y="63.40" font-family="Liberation Sans" font-size="7.2" fill="#111" stroke="#111" stroke-width="0.2" text-anchor="end">4.0</text>
<rect x="260.50" y="61.00" width="10.50" height="211.40" fill="url(#cm)" stroke="#505050" stroke-width="0.9"/>
<text x="273.60" y="78.60" font-family="Liberation Serif" font-size="8.6" fill="#111" stroke="#111" stroke-width="0.15">10<tspan font-size="5.8" dx="0.4" dy="-2.7">3</tspan></text>
<text x="273.60" y="143.70" font-family="Liberation Serif" font-size="8.6" fill="#111" stroke="#111" stroke-width="0.15">10<tspan font-size="5.8" dx="0.4" dy="-2.7">2</tspan></text>
<text x="273.60" y="210.30" font-family="Liberation Serif" font-size="8.6" fill="#111" stroke="#111" stroke-width="0.15">10<tspan font-size="5.8" dx="0.4" dy="-2.7">1</tspan></text>
<text x="273.60" y="275.00" font-family="Liberation Serif" font-size="8.6" fill="#111" stroke="#111" stroke-width="0.15">10<tspan font-size="5.8" dx="0.4" dy="-2.7">0</tspan></text>
<path d="M271.00 75.60h-2.5M271.00 140.70h-2.5M271.00 207.30h-2.5M271.00 272.00h-2.5" stroke="#333" stroke-width="0.8" fill="none"/>
<text x="194.70" y="262.90" font-family="Liberation Serif" font-size="21" fill="#111">N<tspan font-size="13.7" dy="3.5">c</tspan><tspan dy="-3.5">=0</tspan></text>
<g transform="translate(129.50,286.20)"><path d="M9.0 5.0C8.5 7.0 6.5 9.4 4.5 9.3C2.0 9.2 0.6 7.4 0.9 5.3C1.3 2.8 4.5 0.6 9.0 0.3C12.0 0.1 14.6 0.6 14.4 2.3C14.2 3.4 12.8 3.9 11.2 3.9M10.2 1.6L10.6 4.1M8.6 4.6L13.5 9.5M4.8 6.6C5.3 5.0 6.8 4.0 8.6 4.6" stroke="#1a1a1a" stroke-width="1.0" fill="none" stroke-linecap="round"/><text x="16.4" y="2.4" font-family="Liberation Serif" font-size="9" fill="#222">2</text><text x="15.0" y="13.4" font-family="Liberation Serif" font-style="italic" font-size="10.5" fill="#222">b</text></g>
<g transform="translate(4.60,175.95) rotate(-90)"><path d="M9.0 5.0C8.5 7.0 6.5 9.4 4.5 9.3C2.0 9.2 0.6 7.4 0.9 5.3C1.3 2.8 4.5 0.6 9.0 0.3C12.0 0.1 14.6 0.6 14.4 2.3C14.2 3.4 12.8 3.9 11.2 3.9M10.2 1.6L10.6 4.1M8.6 4.6L13.5 9.5M4.8 6.6C5.3 5.0 6.8 4.0 8.6 4.6" stroke="#1a1a1a" stroke-width="1.0" fill="none" stroke-linecap="round"/><text x="16.4" y="2.0" font-family="Liberation Serif" font-size="9" fill="#222">2</text><text x="15.0" y="13.4" font-family="Liberation Serif" font-style="italic" font-size="10.5" fill="#222">d</text></g>
<path d="M391.50 63.00V274.30M349.20 232.50H560.50M433.50 63.00V274.30M349.20 189.50H560.50M475.50 63.00V274.30M349.20 147.50H560.50M518.50 63.00V274.30M349.20 105.50H560.50" stroke="#bcbcbc" stroke-width="1" stroke-dasharray="1 1.25" fill="none"/>
<defs><clipPath id="cq1"><polygon points="349.20,63.00 349.20,274.70 560.90,63.00"/></clipPath></defs><g clip-path="url(#cq1)"><g transform="translate(349.20,274.30) scale(1.5)" fill="none" stroke-width="1" shape-rendering="crispEdges"><path d="M0 -0.5h1M7 -8.5h3M1.5 -9.5h1M7 -10.5h1M3 -12.5h1M7 -12.5h1M3.5 -13.5h1M6.5 -13.5h1M5 -14.5h2" stroke="#92c692"/><path d="M1 -0.5h1M2 -2.5h1M4 -4.5h2M4.5 -7.5h1M4 -10.5h3" stroke="#aaca8a"/><path d="M0.5 -1.5h1M0.5 -3.5h1M3 -8.5h1" stroke="#b6ca86"/><path d="M1.5 -1.5h1" stroke="#aeca8a"/><path d="M0 -2.5h1M2.5 -3.5h1" stroke="#b2ce8a"/><path d="M1 -2.5h1M2.5 -5.5h1" stroke="#bec682"/><path d="M3 -2.5h1M3 -4.5h1M3.5 -5.5h1M4.5 -9.5h1" stroke="#b2ca86"/><path d="M1.5 -3.5h1M2 -4.5h1M2 -6.5h1" stroke="#c2c282"/><path d="M3.5 -3.5h1M4 -6.5h1" stroke="#aece8a"/><path d="M0 -4.5h1M8.5 -9.5h2M8 -10.5h3M8.5 -11.5h1M11 -12.5h1M2.5 -13.5h1M7.5 -13.5h2M7 -14.5h1M10 -14.5h1M4.5 -15.5h3M6 -16.5h1" stroke="#8ec696"/><path d="M1 -4.5h1M3 -6.5h1M5.5 -9.5h1" stroke="#bac686"/><path d="M0.5 -5.5h1M4.5 -5.5h2M5 -6.5h1M3 -10.5h1M4.5 -11.5h1" stroke="#a2ca8e"/><path d="M1.5 -5.5h1" stroke="#cac282"/><path d="M0 -6.5h1M19 -20.5h1M3.5 -21.5h1M4 -22.5h1M13.5 -25.5h1M4.5 -27.5h1M5.5 -29.5h1M6 -30.5h1" stroke="#62bab2"/><path d="M1 -6.5h1M1.5 -7.5h1M2 -8.5h1M2.5 -9.5h1M7.5 -11.5h1" stroke="#a6ca8a"/><path d="M6 -6.5h1M5.5 -7.5h1M3.5 -11.5h1M5.5 -11.5h1" stroke="#9eca8e"/><path d="M7 -6.5h1M6 -8.5h1M6.5 -11.5h1M5 -12.5h1" stroke="#9aca8e"/><path d="M0.5 -7.5h1M1.5 -11.5h1M9.5 -11.5h3M9 -12.5h1M8.5 -15.5h1M4 -16.5h1M8 -16.5h1M4.5 -17.5h4M7 -18.5h1" stroke="#8ac29a"/><path d="M2.5 -7.5h1M4 -8.5h1" stroke="#bec686"/><path d="M3.5 -7.5h1" stroke="#cabe82"/><path d="M6.5 -7.5h2M4 -12.5h1M6 -12.5h1M8 -12.5h1" stroke="#96ca92"/><path d="M0 -8.5h1M1.5 -21.5h1M25 -26.5h1M18 -30.5h1M23.5 -31.5h2M30.5 -31.5h2M24 -32.5h1M32 -32.5h1M4.5 -33.5h1M21.5 -33.5h1M24.5 -33.5h1M29.5 -33.5h1M4 -34.5h1M27 -34.5h1M34 -34.5h1M3.5 -35.5h1M15.5 -35.5h1M18.5 -35.5h1M24.5 -35.5h1M34.5 -35.5h1M3 -36.5h1M19 -36.5h1M22 -36.5h3M26 -36.5h1M31 -36.5h1M6.5 -37.5h1M9.5 -37.5h1M29.5 -37.5h2M10 -38.5h1M19 -38.5h1M25 -38.5h1M29 -38.5h1M37 -38.5h1M3.5 -39.5h1M13.5 -39.5h2M25.5 -39.5h1M32.5 -39.5h1M35.5 -39.5h1M7 -40.5h1M11 -40.5h1M15 -40.5h1M23 -40.5h1M29 -40.5h1M34 -40.5h1M36 -40.5h1M12.5 -41.5h1M16.5 -41.5h2M19.5 -41.5h1M11 -42.5h1M15 -42.5h1M18 -42.5h2M4.5 -43.5h1M8.5 -43.5h1M11.5 -43.5h1M13.5 -43.5h3M13 -44.5h1M17 -44.5h1M29 -44.5h1M39 -44.5h1M42 -44.5h1M9.5 -45.5h1M11.5 -45.5h1M20.5 -45.5h2M39.5 -45.5h1M10 -46.5h1M25 -46.5h1M40 -46.5h1M42 -46.5h1M13.5 -47.5h1M39.5 -47.5h1M6 -48.5h1M9 -48.5h1M6.5 -49.5h1M47.5 -49.5h1M5.5 -51.5h2M8.5 -51.5h1M5 -52.5h1M18 -52.5h1M16.5 -53.5h2M8 -54.5h1M55 -54.5h1M6 -56.5h1M8 -56.5h1M55 -56.5h1M57 -56.5h1M6.5 -57.5h1M13.5 -57.5h1M61 -60.5h1M61.5 -61.5h1M6 -62.5h1M5 -64.5h1M65.5 -65.5h1M6.5 -67.5h1M7 -82.5h1M8 -92.5h1" stroke="#367aba"/><path d="M1 -8.5h1M7.5 -9.5h1M4 -14.5h1" stroke="#92c696"/><path d="M5 -8.5h1" stroke="#a6ca8e"/><path d="M0.5 -9.5h1M1.5 -13.5h1M1.5 -15.5h1M2 -18.5h1M15 -18.5h1M18 -18.5h1M14.5 -19.5h1M18.5 -19.5h1M15 -20.5h1M17.5 -21.5h1M12 -22.5h1M9.5 -23.5h1M19.5 -23.5h1M5.5 -25.5h1M9 -26.5h1M13 -26.5h1M8.5 -27.5h1M7.5 -29.5h1" stroke="#66baae"/><path d="M3.5 -9.5h1" stroke="#b2ca8a"/><path d="M6.5 -9.5h1M2 -10.5h1M2.5 -11.5h1M4.5 -13.5h2M9.5 -13.5h1" stroke="#96c692"/><path d="M0 -10.5h1M0.5 -15.5h1M0.5 -17.5h1M0 -18.5h2M1.5 -25.5h1M2 -26.5h1M1.5 -31.5h2M23 -32.5h1M22.5 -33.5h1M2.5 -35.5h1M26.5 -35.5h2M2 -36.5h1M29 -36.5h1M18.5 -37.5h1M25.5 -37.5h2M16 -38.5h1M23 -38.5h1M32 -38.5h1M2.5 -39.5h1M11.5 -39.5h1M19.5 -39.5h3M38.5 -39.5h1M18 -40.5h1M25 -40.5h1M30 -40.5h4M22.5 -41.5h2M34.5 -41.5h2M3 -42.5h2M16 -42.5h1M22 -42.5h3M27 -42.5h1M30 -42.5h1M35 -42.5h1M37 -42.5h1M39 -42.5h1M42 -42.5h1M3.5 -43.5h1M9.5 -43.5h1M17.5 -43.5h1M25.5 -43.5h1M27.5 -43.5h1M30.5 -43.5h1M32.5 -43.5h1M35.5 -43.5h1M39.5 -43.5h1M3 -44.5h1M20 -44.5h2M23 -44.5h1M25 -44.5h1M27 -44.5h1M30 -44.5h2M33 -44.5h1M38 -44.5h1M44 -44.5h1M14.5 -45.5h1M17.5 -45.5h1M24.5 -45.5h1M27.5 -45.5h2M31.5 -45.5h1M33.5 -45.5h1M35.5 -45.5h1M37.5 -45.5h1M41.5 -45.5h1M3 -46.5h2M7 -46.5h1M19 -46.5h1M21 -46.5h1M23 -46.5h1M33 -46.5h1M36 -46.5h4M8.5 -47.5h1M12.5 -47.5h1M15.5 -47.5h1M17.5 -47.5h1M20.5 -47.5h1M23.5 -47.5h2M27.5 -47.5h1M29.5 -47.5h1M33.5 -47.5h1M38.5 -47.5h1M43.5 -47.5h1M4 -48.5h1M11 -48.5h1M13 -48.5h2M21 -48.5h1M26 -48.5h1M28 -48.5h1M33 -48.5h1M35 -48.5h1M39 -48.5h1M10.5 -49.5h1M14.5 -49.5h1M17.5 -49.5h2M24.5 -49.5h1M26.5 -49.5h3M30.5 -49.5h2M35.5 -49.5h1M40.5 -49.5h3M45.5 -49.5h1M3 -50.5h1M7 -50.5h1M11 -50.5h1M13 -50.5h1M17 -50.5h1M20 -50.5h4M26 -50.5h1M31 -50.5h1M35 -50.5h1M39 -50.5h1M44 -50.5h1M46 -50.5h3M2.5 -51.5h2M11.5 -51.5h1M14.5 -51.5h1M16.5 -51.5h2M21.5 -51.5h5M27.5 -51.5h1M29.5 -51.5h1M33.5 -51.5h3M45.5 -51.5h1M7 -52.5h2M10 -52.5h2M13 -52.5h1M15 -52.5h1M17 -52.5h1M21 -52.5h1M27 -52.5h1M29 -52.5h1M33 -52.5h1M38 -52.5h1M48 -52.5h1M51 -52.5h1M3.5 -53.5h1M12.5 -53.5h2M18.5 -53.5h1M22.5 -53.5h1M24.5 -53.5h1M27.5 -53.5h1M30.5 -53.5h1M32.5 -53.5h1M35.5 -53.5h1M44.5 -53.5h1M46.5 -53.5h2M50.5 -53.5h1M53.5 -53.5h1M5 -54.5h1M13 -54.5h1M26 -54.5h1M28 -54.5h1M30 -54.5h1M45 -54.5h1M48 -54.5h2M51 -54.5h1M5.5 -55.5h1M7.5 -55.5h1M10.5 -55.5h1M13.5 -55.5h1M17.5 -55.5h2M20.5 -55.5h2M24.5 -55.5h1M29.5 -55.5h1M34.5 -55.5h2M47.5 -55.5h1M52.5 -55.5h1M9 -56.5h1M13 -56.5h1M15 -56.5h1M17 -56.5h1M19 -56.5h3M28 -56.5h1M33 -56.5h1M39 -56.5h1M46 -56.5h1M50 -56.5h3M15.5 -57.5h1M17.5 -57.5h1M25.5 -57.5h1M29.5 -57.5h1M39.5 -57.5h1M53.5 -57.5h2M57.5 -57.5h1M4 -58.5h1M11 -58.5h1M14 -58.5h2M17 -58.5h2M24 -58.5h2M34 -58.5h1M44 -58.5h1M50 -58.5h1M54 -58.5h2M4.5 -59.5h3M9.5 -59.5h2M12.5 -59.5h1M18.5 -59.5h1M24.5 -59.5h2M29.5 -59.5h1M33.5 -59.5h1M38.5 -59.5h1M4 -60.5h2M7 -60.5h1M9 -60.5h1M11 -60.5h2M15 -60.5h1M20 -60.5h1M23 -60.5h1M26 -60.5h1M58 -60.5h1M3.5 -61.5h1M5.5 -61.5h1M9.5 -61.5h1M13.5 -61.5h1M15.5 -61.5h1M23.5 -61.5h1M26.5 -61.5h1M31.5 -61.5h1M39.5 -61.5h1M55.5 -61.5h1M58.5 -61.5h1M9 -62.5h1M13 -62.5h1M16 -62.5h2M22 -62.5h1M27 -62.5h1M36 -62.5h1M39 -62.5h1M56 -62.5h1M58 -62.5h1M61 -62.5h1M63 -62.5h1M7.5 -63.5h1M14.5 -63.5h2M32.5 -63.5h1M49.5 -63.5h1M61.5 -63.5h1M6 -64.5h4M11 -64.5h4M17 -64.5h1M19 -64.5h1M21 -64.5h1M24 -64.5h1M56 -64.5h1M58 -64.5h2M63 -64.5h1M65 -64.5h1M4.5 -65.5h1M8.5 -65.5h3M21.5 -65.5h1M41.5 -65.5h1M60.5 -65.5h5M4 -66.5h1M8 -66.5h1M11 -66.5h1M13 -66.5h1M42 -66.5h1M50 -66.5h1M58 -66.5h1M65 -66.5h2M7.5 -67.5h1M16.5 -67.5h1M22.5 -67.5h1M30.5 -67.5h1M36.5 -67.5h1M61.5 -67.5h1M67.5 -67.5h1M5 -68.5h1M37 -68.5h1M45 -68.5h1M69 -68.5h1M6.5 -69.5h1M8.5 -69.5h1M10.5 -69.5h1M13.5 -69.5h1M18.5 -69.5h1M29.5 -69.5h1M38.5 -69.5h1M64.5 -69.5h1M4 -70.5h1M7 -70.5h2M12 -70.5h1M16 -70.5h1M27 -70.5h1M62 -70.5h1M67 -70.5h1M70 -70.5h1M6.5 -71.5h1M8.5 -71.5h1M13.5 -71.5h2M18.5 -71.5h1M65.5 -71.5h3M70.5 -71.5h1M4 -72.5h2M7 -72.5h1M10 -72.5h1M28 -72.5h1M70 -72.5h1M72 -72.5h2M7.5 -73.5h2M7 -74.5h1M9 -74.5h2M13 -74.5h2M19 -74.5h1M40 -74.5h1M74 -74.5h1M4.5 -75.5h3M8.5 -75.5h1M19.5 -75.5h1M21.5 -75.5h1M74.5 -75.5h1M5 -76.5h1M7 -76.5h2M10 -76.5h1M13 -76.5h1M49 -76.5h1M76 -76.5h1M5.5 -77.5h2M68.5 -77.5h1M75.5 -77.5h2M9 -78.5h1M69 -78.5h1M77 -78.5h2M6.5 -79.5h2M28.5 -79.5h1M6 -80.5h2M9 -80.5h1M11 -80.5h1M18 -80.5h1M76 -80.5h1M81 -80.5h1M6.5 -81.5h1M8.5 -81.5h1M15.5 -81.5h1M44.5 -81.5h1M79.5 -81.5h1M5 -82.5h1M24 -82.5h1M67 -82.5h1M79 -82.5h1M6.5 -83.5h1M17.5 -83.5h1M78.5 -83.5h1M80.5 -83.5h1M5 -84.5h2M6.5 -85.5h4M11.5 -85.5h1M85.5 -85.5h1M6 -86.5h1M9 -86.5h1M5 -88.5h1M43 -88.5h1M10.5 -89.5h1M9 -90.5h1M12 -90.5h1M9.5 -91.5h1M91.5 -91.5h1M6.5 -93.5h1M90.5 -93.5h1M93.5 -93.5h1M90 -94.5h1M6.5 -95.5h1M95.5 -95.5h1M19 -96.5h1M95 -96.5h1M8.5 -97.5h1M97.5 -97.5h1M6.5 -99.5h3M100 -100.5h1M8.5 -101.5h2M7 -102.5h1M11 -102.5h1M7.5 -103.5h1M19.5 -103.5h1M54.5 -103.5h1M7.5 -105.5h1M7 -106.5h1M9.5 -109.5h1M51.5 -109.5h1M7 -110.5h1M11 -110.5h1M24 -112.5h1M54 -118.5h1M9 -122.5h1M122 -122.5h1M23.5 -133.5h1" stroke="#5a4a9e"/><path d="M1 -10.5h1M15 -16.5h1M12 -18.5h1M15.5 -19.5h1M7 -20.5h1M4.5 -21.5h1" stroke="#7ec2a2"/><path d="M11 -10.5h1M2 -12.5h1M8 -14.5h2M3.5 -15.5h1M7.5 -15.5h1M9.5 -15.5h1M5 -16.5h1M7 -16.5h1M12 -16.5h1M8.5 -17.5h1" stroke="#8ac69a"/><path d="M0.5 -11.5h1M16 -26.5h1M26 -26.5h1M26.5 -27.5h1M14 -28.5h1M23 -28.5h1M4.5 -29.5h1M15.5 -29.5h1M25.5 -29.5h1M7 -30.5h1M10 -30.5h1M4.5 -31.5h1M16.5 -31.5h1M18 -32.5h1M29 -32.5h1M9.5 -33.5h1M11.5 -33.5h1M19.5 -33.5h1M10 -34.5h1M14 -34.5h1M19 -34.5h1M37.5 -39.5h1M6.5 -43.5h1M7 -48.5h1" stroke="#22aaca"/><path d="M1 -12.5h1M11 -16.5h1M5 -20.5h1M6.5 -21.5h1M10 -24.5h1M9.5 -25.5h1" stroke="#72bea6"/><path d="M10 -12.5h1M4 -18.5h1M8 -18.5h1" stroke="#86c29a"/><path d="M12 -12.5h2M12.5 -13.5h1M2 -14.5h1M15 -14.5h1M10.5 -15.5h1M15.5 -15.5h1M10 -16.5h1M3.5 -17.5h1M9.5 -17.5h1M5 -18.5h2" stroke="#86c29e"/><path d="M0.5 -13.5h1M1 -16.5h1M1.5 -19.5h1M20 -24.5h1M22 -24.5h1M25 -24.5h1M19.5 -25.5h1M27.5 -27.5h1M22 -28.5h1M29 -28.5h1M16.5 -29.5h1M27.5 -29.5h1M3 -30.5h1M20 -30.5h1M29 -30.5h3M13.5 -31.5h1M15.5 -31.5h1M26.5 -31.5h1M4 -32.5h1M15 -32.5h1M30 -32.5h1M17.5 -33.5h1M28.5 -33.5h1M7 -34.5h1M9 -34.5h1M11 -34.5h1M16 -34.5h1M22 -34.5h1M9 -36.5h1M16 -36.5h2M37 -36.5h1M5.5 -37.5h1M19.5 -37.5h1M37.5 -37.5h1M8 -38.5h1M15.5 -39.5h1M22.5 -39.5h1M9 -40.5h1M12 -40.5h1M8.5 -41.5h1M6 -42.5h2M10 -42.5h1M14 -42.5h1M41 -42.5h1M12.5 -43.5h1M41.5 -43.5h1M6 -44.5h1M8 -44.5h1M44 -46.5h1M56.5 -57.5h1" stroke="#229eca"/><path d="M10.5 -13.5h2M11 -14.5h1M2.5 -15.5h1M12.5 -15.5h1M14.5 -15.5h1M3 -16.5h1M9 -16.5h1M2.5 -17.5h1M13.5 -17.5h1M9 -18.5h2M3.5 -19.5h3M8.5 -19.5h1M7.5 -23.5h1" stroke="#82c29e"/><path d="M13.5 -13.5h1M14 -14.5h1M12.5 -17.5h1M7.5 -19.5h1M4 -20.5h1M6 -20.5h1M5.5 -21.5h1M13.5 -21.5h1" stroke="#7abea2"/><path d="M1 -14.5h1M3 -24.5h1M22.5 -25.5h1M14 -26.5h1M19.5 -27.5h1M15 -28.5h1M20 -28.5h1M28 -28.5h1M24.5 -29.5h1M16 -30.5h1M26 -30.5h2M7 -32.5h1M16 -32.5h1M21 -32.5h1M28 -32.5h1M10.5 -33.5h1M20.5 -33.5h1M30.5 -33.5h1M5 -34.5h1M13 -34.5h1M15 -34.5h1M20 -34.5h2M7 -36.5h1M13 -36.5h1M18 -38.5h1M10.5 -39.5h1M38 -40.5h1M42.5 -43.5h1M47 -46.5h1M49 -48.5h1" stroke="#2aaac6"/><path d="M3 -14.5h1M11.5 -15.5h1" stroke="#8ec69a"/><path d="M12 -14.5h1" stroke="#82c2a2"/><path d="M13 -14.5h1M13.5 -15.5h1M11.5 -17.5h1M17.5 -17.5h1M13 -18.5h2M17 -18.5h1M19 -18.5h1M19.5 -19.5h1M8 -20.5h1M9.5 -21.5h1M7 -22.5h1M10 -22.5h1M6.5 -23.5h1M9 -24.5h1" stroke="#76bea6"/><path d="M2 -16.5h1M13 -16.5h1M15.5 -17.5h1M3 -18.5h1M10.5 -19.5h1M12.5 -19.5h1M13 -20.5h1M16 -20.5h1M20 -20.5h2M7.5 -21.5h1M5 -22.5h1M9 -22.5h1M3.5 -23.5h2M7 -24.5h2M10.5 -25.5h1M6 -28.5h2" stroke="#6ebaaa"/><path d="M14 -16.5h1M11 -18.5h1M13.5 -19.5h1M12.5 -21.5h1M8.5 -23.5h1M10.5 -23.5h2M5 -24.5h1M6.5 -27.5h1" stroke="#72beaa"/><path d="M16 -16.5h1M14.5 -17.5h1M11.5 -21.5h1M14.5 -21.5h1M3 -22.5h1M13 -22.5h1M8.5 -25.5h1M10 -26.5h1M5.5 -27.5h1" stroke="#6abaaa"/><path d="M17 -16.5h1M14 -20.5h1M7.5 -25.5h1" stroke="#7abea6"/><path d="M1.5 -17.5h1M16 -18.5h1M2.5 -19.5h1M16.5 -19.5h1M10.5 -21.5h1M8 -22.5h1M8 -30.5h1M8.5 -33.5h1" stroke="#5eb6b2"/><path d="M10.5 -17.5h1M6.5 -19.5h1M9 -20.5h1M8.5 -21.5h1M6 -22.5h1" stroke="#7ebea2"/><path d="M16.5 -17.5h1M11.5 -19.5h1M3 -20.5h1M11 -20.5h1M17 -20.5h1M19.5 -21.5h1M21.5 -21.5h1M14 -22.5h1M13.5 -23.5h1M4.5 -25.5h1M11.5 -25.5h1M6 -26.5h1M23 -26.5h1M9.5 -27.5h1" stroke="#62baae"/><path d="M9.5 -19.5h1M10 -20.5h1M15.5 -21.5h1M5.5 -23.5h1M7 -26.5h1M7.5 -27.5h1" stroke="#6ebeaa"/><path d="M17.5 -19.5h1M18 -20.5h1M2.5 -21.5h1M12.5 -23.5h1M14.5 -23.5h1M16.5 -23.5h1M11 -24.5h1M12.5 -25.5h1M22 -26.5h1M14.5 -27.5h1M21.5 -27.5h1M10.5 -29.5h2M7.5 -33.5h1" stroke="#56b6b2"/><path d="M1 -20.5h1M2 -24.5h1M1.5 -29.5h1M20.5 -29.5h1M2 -30.5h1M22.5 -31.5h1M29.5 -31.5h1M22 -32.5h1M25 -32.5h1M27 -32.5h1M18.5 -33.5h1M24 -34.5h1M28 -34.5h1M23.5 -35.5h1M30.5 -35.5h1M20 -36.5h1M28 -36.5h1M3.5 -37.5h1M17.5 -37.5h1M20.5 -37.5h1M23.5 -37.5h2M27.5 -37.5h2M31.5 -37.5h1M22 -38.5h1M31 -38.5h1M33 -38.5h2M12.5 -39.5h1M17.5 -39.5h1M24.5 -39.5h1M30.5 -39.5h1M33.5 -39.5h1M36.5 -39.5h1M5 -40.5h1M13 -40.5h1M20 -40.5h1M22 -40.5h1M26 -40.5h3M37 -40.5h1M41 -40.5h1M2.5 -41.5h1M9.5 -41.5h1M15.5 -41.5h1M18.5 -41.5h1M20.5 -41.5h2M25.5 -41.5h2M28.5 -41.5h1M30.5 -41.5h1M36.5 -41.5h1M40.5 -41.5h2M8 -42.5h2M12 -42.5h1M17 -42.5h1M21 -42.5h1M26 -42.5h1M29 -42.5h1M33 -42.5h1M36 -42.5h1M40 -42.5h1M5.5 -43.5h1M18.5 -43.5h7M29.5 -43.5h1M31.5 -43.5h1M36.5 -43.5h2M43.5 -43.5h1M12 -44.5h1M14 -44.5h1M18 -44.5h2M24 -44.5h1M28 -44.5h1M32 -44.5h1M40 -44.5h2M3.5 -45.5h2M7.5 -45.5h1M12.5 -45.5h1M15.5 -45.5h2M18.5 -45.5h2M23.5 -45.5h1M32.5 -45.5h1M40.5 -45.5h1M16 -46.5h1M22 -46.5h1M31 -46.5h2M41 -46.5h1M3.5 -47.5h1M5.5 -47.5h3M9.5 -47.5h1M14.5 -47.5h1M16.5 -47.5h1M18.5 -47.5h2M22.5 -47.5h1M42.5 -47.5h1M44.5 -47.5h1M10 -48.5h1M17 -48.5h2M20 -48.5h1M22 -48.5h1M25 -48.5h1M32 -48.5h1M44 -48.5h2M4.5 -49.5h1M15.5 -49.5h1M19.5 -49.5h2M39.5 -49.5h1M46.5 -49.5h1M48.5 -49.5h1M4 -50.5h2M15 -50.5h2M19 -50.5h1M24 -50.5h1M29 -50.5h1M49 -50.5h1M4.5 -51.5h1M9.5 -51.5h1M13.5 -51.5h1M18.5 -51.5h1M26.5 -51.5h1M46.5 -51.5h1M23 -52.5h1M25 -52.5h1M40 -52.5h2M49 -52.5h1M4.5 -53.5h4M9.5 -53.5h2M15.5 -53.5h1M21.5 -53.5h1M23.5 -53.5h1M51.5 -53.5h1M9 -54.5h1M11 -54.5h2M14 -54.5h2M17 -54.5h1M21 -54.5h2M52 -54.5h1M4.5 -55.5h1M8.5 -55.5h2M14.5 -55.5h1M31.5 -55.5h1M55.5 -55.5h1M10 -56.5h1M16 -56.5h1M24 -56.5h1M54 -56.5h1M56 -56.5h1M10.5 -57.5h1M14.5 -57.5h1M9 -58.5h1M12 -58.5h2M56 -58.5h1M7.5 -59.5h2M11.5 -59.5h1M50.5 -59.5h1M56.5 -59.5h1M10 -60.5h1M13 -60.5h1M16 -60.5h2M19 -60.5h1M60 -60.5h1M7.5 -61.5h1M10.5 -61.5h2M18.5 -61.5h1M59.5 -61.5h2M5 -62.5h1M59 -62.5h2M5.5 -63.5h1M16.5 -63.5h1M63.5 -63.5h1M6.5 -65.5h1M12.5 -65.5h1M7 -66.5h1M12 -66.5h1M67 -66.5h1M65.5 -67.5h2M6 -68.5h2M7.5 -69.5h1M12.5 -69.5h1M69.5 -69.5h1M9 -70.5h1M5.5 -71.5h1M11.5 -71.5h1M15.5 -71.5h1M9 -72.5h1M73.5 -73.5h1M5 -74.5h1M11.5 -75.5h1M12.5 -79.5h1M72.5 -79.5h1M79.5 -79.5h1M80 -80.5h1M10.5 -81.5h1M8 -82.5h1M84 -84.5h1M7.5 -87.5h1M87 -88.5h1M8 -96.5h1" stroke="#4652a6"/><path d="M2 -20.5h1M20 -22.5h1M21.5 -23.5h1M12 -24.5h2M15 -24.5h1M17 -24.5h1M19 -24.5h1M3.5 -25.5h1M15.5 -25.5h1M20.5 -25.5h1M15.5 -27.5h1M25.5 -27.5h1M13 -28.5h1M21 -28.5h1M12.5 -29.5h1M14.5 -29.5h1M12 -30.5h1M5.5 -31.5h1M11.5 -31.5h1M5 -32.5h1M11 -32.5h1M6.5 -35.5h1M10 -36.5h1M6 -38.5h1M9.5 -39.5h1" stroke="#3eb2be"/><path d="M12 -20.5h1M16.5 -21.5h1M11 -22.5h1M9 -28.5h1" stroke="#6abaae"/><path d="M18.5 -21.5h1M2.5 -23.5h1M22.5 -23.5h1M24 -24.5h1M2.5 -25.5h1M16.5 -25.5h1M18.5 -25.5h1M24.5 -25.5h1M17 -26.5h2M10.5 -27.5h1M23.5 -27.5h2M11 -28.5h1M16 -28.5h1M26 -28.5h1M6.5 -29.5h1M28.5 -29.5h1M4 -30.5h1M28 -30.5h1M10.5 -31.5h1M12.5 -31.5h1M9 -32.5h1M14 -32.5h1M19 -32.5h1M14.5 -33.5h1M23.5 -33.5h1M5.5 -35.5h1M8.5 -35.5h1M10.5 -35.5h1M34 -36.5h1M35.5 -37.5h1" stroke="#32aec2"/><path d="M20.5 -21.5h1M16 -22.5h2M19 -22.5h1M21 -22.5h1M4 -24.5h1M14 -24.5h1M21 -24.5h1M5 -26.5h1M15 -26.5h1M25 -28.5h1M9.5 -29.5h1M26.5 -29.5h1M12 -32.5h1" stroke="#52b6b6"/><path d="M2 -22.5h1M20 -26.5h2M2.5 -27.5h1M4 -28.5h1M19 -28.5h1M27 -28.5h1M22.5 -29.5h1M13 -30.5h2M19 -30.5h1M25 -30.5h1M18.5 -31.5h2M27.5 -31.5h1M8 -32.5h1M12.5 -33.5h1M6 -34.5h1M18 -34.5h1M25 -34.5h1M9.5 -35.5h1M11.5 -35.5h1M19.5 -35.5h1M28.5 -35.5h1M32.5 -35.5h1M14 -36.5h1M7.5 -37.5h2M13.5 -37.5h1M21.5 -37.5h1M34.5 -37.5h1M20 -38.5h1M36 -38.5h1M5.5 -39.5h1M8.5 -39.5h1M18.5 -39.5h1M17 -40.5h1M6.5 -41.5h2M5 -42.5h1M7 -44.5h1M43 -44.5h1M48 -48.5h1M7 -56.5h1" stroke="#22a2ca"/><path d="M15 -22.5h1M22 -22.5h1M15.5 -23.5h1M20.5 -23.5h1M23 -24.5h1M21.5 -25.5h1M16.5 -27.5h1M17 -28.5h1M9 -30.5h1M6.5 -31.5h1M14.5 -31.5h1M6 -32.5h1M10 -32.5h1M5.5 -33.5h1M13.5 -33.5h1M46 -46.5h1" stroke="#42b6ba"/><path d="M18 -22.5h1M23 -22.5h1M16 -24.5h1M18 -24.5h1M14.5 -25.5h1M17.5 -25.5h1M23.5 -25.5h1M3 -26.5h1M27 -26.5h1M11.5 -27.5h1M13.5 -27.5h1M22.5 -27.5h1M10 -28.5h1M24 -28.5h1M13.5 -29.5h1M23 -30.5h1M7.5 -31.5h2M13 -32.5h1M7.5 -35.5h1M12.5 -35.5h1M4 -36.5h2M39 -40.5h1" stroke="#36b2c2"/><path d="M17.5 -23.5h2M6 -24.5h1M6.5 -25.5h1M8 -26.5h1M11 -26.5h2M3.5 -27.5h1M12.5 -27.5h1M17.5 -27.5h1M5 -28.5h1M8 -28.5h1M12 -28.5h1M8.5 -29.5h1M11 -30.5h1M8 -36.5h1" stroke="#4eb6b6"/><path d="M23.5 -23.5h1M4 -26.5h1M24 -26.5h1M5 -30.5h1M15 -30.5h1M9.5 -31.5h1M28.5 -31.5h1M12 -34.5h1" stroke="#4ab6ba"/><path d="M25.5 -25.5h1M18.5 -29.5h2M21.5 -29.5h1M23.5 -29.5h1M21 -30.5h1M21.5 -31.5h1M25.5 -31.5h1M3 -32.5h1M26 -32.5h1M33 -32.5h1M6.5 -33.5h1M15.5 -33.5h2M32.5 -33.5h1M8 -34.5h1M17 -34.5h1M23 -34.5h1M32 -34.5h1M4.5 -35.5h1M13.5 -35.5h1M35.5 -35.5h1M6 -36.5h1M11 -36.5h2M30 -36.5h1M33 -36.5h1M10.5 -37.5h1M14.5 -37.5h2M32.5 -37.5h1M7 -38.5h1M30 -38.5h1M39 -38.5h1M4.5 -39.5h1M7.5 -39.5h1M8 -40.5h1M16 -40.5h1M11.5 -41.5h1M16.5 -43.5h1M4 -44.5h1M44.5 -45.5h1M18 -46.5h1M43 -46.5h1M47.5 -47.5h1M8 -48.5h1M12 -48.5h1M9.5 -49.5h1M9 -50.5h1M51 -50.5h1M51.5 -51.5h1M7 -54.5h1M7 -58.5h1M57 -58.5h1" stroke="#2696c6"/><path d="M19 -26.5h1M20.5 -27.5h1M3.5 -29.5h1M17.5 -29.5h1M29.5 -29.5h1M17 -30.5h1M24 -30.5h1M3.5 -31.5h1M17.5 -31.5h1M20.5 -31.5h1M17 -32.5h1M20 -32.5h1M31 -32.5h1M27.5 -33.5h1M31.5 -33.5h1M3 -34.5h1M29 -34.5h1M31 -34.5h1M33 -34.5h1M16.5 -35.5h1M20.5 -35.5h3M25.5 -35.5h1M29.5 -35.5h1M31.5 -35.5h1M33.5 -35.5h1M18 -36.5h1M25 -36.5h1M32 -36.5h1M35 -36.5h1M11.5 -37.5h2M16.5 -37.5h1M4 -38.5h1M9 -38.5h1M11 -38.5h2M15 -38.5h1M17 -38.5h1M21 -38.5h1M27 -38.5h1M6.5 -39.5h1M28.5 -39.5h1M34.5 -39.5h1M6 -40.5h1M14 -40.5h1M19 -40.5h1M21 -40.5h1M40 -40.5h1M4.5 -41.5h2M10.5 -41.5h1M13.5 -41.5h1M24.5 -41.5h1M38.5 -41.5h2M13 -42.5h1M7.5 -43.5h1M38.5 -43.5h1M5 -44.5h1M9 -44.5h2M15 -44.5h1M6.5 -45.5h1M10.5 -45.5h1M13.5 -45.5h1M26.5 -45.5h1M42.5 -45.5h2M45.5 -45.5h1M5 -46.5h2M9 -46.5h1M11 -46.5h1M10.5 -47.5h2M45.5 -47.5h1M16 -48.5h1M11.5 -49.5h1M13.5 -49.5h1M49.5 -49.5h1M14 -50.5h1M50 -50.5h1M10.5 -51.5h1M50.5 -51.5h1M6 -52.5h1M52 -52.5h1M14.5 -53.5h1M6 -54.5h1M53 -54.5h1M54.5 -55.5h1M7.5 -57.5h1M9.5 -57.5h1M6.5 -61.5h1M7 -62.5h1M6.5 -73.5h1" stroke="#2e8ac2"/><path d="M18.5 -27.5h1M3 -28.5h1M18 -28.5h1M22 -30.5h1M2.5 -33.5h2M25.5 -33.5h2M33.5 -33.5h1M26 -34.5h1M30 -34.5h1M14.5 -35.5h1M17.5 -35.5h1M15 -36.5h1M21 -36.5h1M27 -36.5h1M4.5 -37.5h1M22.5 -37.5h1M33.5 -37.5h1M36.5 -37.5h1M3 -38.5h1M5 -38.5h1M13 -38.5h2M24 -38.5h1M26 -38.5h1M28 -38.5h1M38 -38.5h1M16.5 -39.5h1M23.5 -39.5h1M26.5 -39.5h2M31.5 -39.5h1M39.5 -39.5h1M3 -40.5h2M10 -40.5h1M24 -40.5h1M35 -40.5h1M33.5 -41.5h1M37.5 -41.5h1M28 -42.5h1M31 -42.5h1M38 -42.5h1M43 -42.5h1M10.5 -43.5h1M26.5 -43.5h1M33.5 -43.5h2M40.5 -43.5h1M11 -44.5h1M16 -44.5h1M26 -44.5h1M35 -44.5h1M37 -44.5h1M45 -44.5h1M5.5 -45.5h1M8.5 -45.5h1M22.5 -45.5h1M25.5 -45.5h1M8 -46.5h1M12 -46.5h4M17 -46.5h1M20 -46.5h1M28 -46.5h1M45 -46.5h1M4.5 -47.5h1M21.5 -47.5h1M26.5 -47.5h1M40.5 -47.5h1M46.5 -47.5h1M19 -48.5h1M23 -48.5h1M41 -48.5h1M46 -48.5h2M5.5 -49.5h1M8.5 -49.5h1M12.5 -49.5h1M16.5 -49.5h1M25.5 -49.5h1M44.5 -49.5h1M6 -50.5h1M8 -50.5h1M12 -50.5h1M7.5 -51.5h1M15.5 -51.5h1M48.5 -51.5h2M14 -52.5h1M16 -52.5h1M20 -52.5h1M34 -52.5h1M53 -52.5h1M8.5 -53.5h1M11.5 -53.5h1M52.5 -53.5h1M4 -54.5h1M6.5 -55.5h1M11.5 -55.5h1M53.5 -55.5h1M5 -56.5h1M11 -56.5h1M4.5 -57.5h2M8.5 -57.5h1M55.5 -57.5h1M6 -58.5h1M8 -58.5h1M10 -58.5h1M16 -58.5h1M58 -58.5h2M14.5 -59.5h1M58.5 -59.5h2M6 -60.5h1M8 -60.5h1M18 -60.5h1M8 -62.5h1M62 -62.5h1M8.5 -63.5h1M64 -64.5h1M5.5 -65.5h1M7.5 -65.5h1M6 -66.5h1M6 -70.5h1M8 -74.5h1M81.5 -83.5h1" stroke="#3e6ab2"/></g></g>
<defs><linearGradient id="g1_0" gradientUnits="userSpaceOnUse" x1="349.20" y1="274.30" x2="560.50" y2="63.00"><stop offset="0.000" stop-color="#e02e32" stop-opacity="1.00"/><stop offset="0.025" stop-color="#e02e32" stop-opacity="1.00"/><stop offset="0.050" stop-color="#e02f32" stop-opacity="1.00"/><stop offset="0.075" stop-color="#e03f3b" stop-opacity="1.00"/><stop offset="0.100" stop-color="#e66d4c" stop-opacity="1.00"/><stop offset="0.125" stop-color="#e9a36a" stop-opacity="1.00"/><stop offset="0.150" stop-color="#c0c483" stop-opacity="1.00"/><stop offset="0.175" stop-color="#97c890" stop-opacity="1.00"/><stop offset="0.200" stop-color="#86c29b" stop-opacity="1.00"/><stop offset="0.225" stop-color="#78bea4" stop-opacity="1.00"/><stop offset="0.250" stop-color="#66b9ad" stop-opacity="1.00"/><stop offset="0.275" stop-color="#4ab5b8" stop-opacity="1.00"/><stop offset="0.300" stop-color="#2babc5" stop-opacity="1.00"/><stop offset="0.325" stop-color="#23a0c8" stop-opacity="0.91"/><stop offset="0.350" stop-color="#2991c5" stop-opacity="0.28"/><stop offset="0.375" stop-color="#357fbd" stop-opacity="0.00"/><stop offset="0.400" stop-color="#3b6cb2" stop-opacity="0.00"/><stop offset="0.425" stop-color="#405ca9" stop-opacity="0.00"/><stop offset="0.450" stop-color="#474fa3" stop-opacity="0.00"/><stop offset="0.475" stop-color="#5048a0" stop-opacity="0.00"/><stop offset="0.500" stop-color="#5a4a9f" stop-opacity="0.00"/><stop offset="0.525" stop-color="#5b4a9f" stop-opacity="0.00"/><stop offset="0.550" stop-color="#5b4a9f" stop-opacity="0.00"/><stop offset="0.575" stop-color="#5b4a9f" stop-opacity="0.00"/><stop offset="0.600" stop-color="#5b4a9f" stop-opacity="0.00"/><stop offset="0.625" stop-color="#5b4a9f" stop-opacity="0.00"/><stop offset="0.650" stop-color="#5b4a9f" stop-opacity="0.00"/><stop offset="0.675" stop-color="#5b4a9f" stop-opacity="0.00"/><stop offset="0.700" stop-color="#5b4a9f" stop-opacity="0.00"/><stop offset="0.725" stop-color="#5b4a9f" stop-opacity="0.00"/><stop offset="0.750" stop-color="#5b4a9f" stop-opacity="0.00"/><stop offset="0.775" stop-color="#5b4a9f" stop-opacity="0.00"/><stop offset="0.800" stop-color="#5b4a9f" stop-opacity="0.00"/><stop offset="0.825" stop-color="#5b4a9f" stop-opacity="0.00"/><stop offset="0.850" stop-color="#5b4a9f" stop-opacity="0.00"/><stop offset="0.875" stop-color="#5b4a9f" stop-opacity="0.00"/><stop offset="0.900" stop-color="#5b4a9f" stop-opacity="0.00"/><stop offset="0.925" stop-color="#5b4a9f" stop-opacity="0.00"/><stop offset="0.950" stop-color="#5b4a9f" stop-opacity="0.00"/><stop offset="0.975" stop-color="#5b4a9f" stop-opacity="0.00"/><stop offset="1.000" stop-color="#5b4a9f" stop-opacity="0.00"/></linearGradient><linearGradient id="g1_1" gradientUnits="userSpaceOnUse" x1="349.20" y1="274.30" x2="560.50" y2="63.00"><stop offset="0.000" stop-color="#e1443c" stop-opacity="1.00"/><stop offset="0.025" stop-color="#e14b3d" stop-opacity="1.00"/><stop offset="0.050" stop-color="#e2513e" stop-opacity="1.00"/><stop offset="0.075" stop-color="#e66c4c" stop-opacity="1.00"/><stop offset="0.100" stop-color="#ec9c65" stop-opacity="1.00"/><stop offset="0.125" stop-color="#cbbd7e" stop-opacity="1.00"/><stop offset="0.150" stop-color="#97c890" stop-opacity="1.00"/><stop offset="0.175" stop-color="#87c39b" stop-opacity="1.00"/><stop offset="0.200" stop-color="#73bda6" stop-opacity="1.00"/><stop offset="0.225" stop-color="#62b9af" stop-opacity="1.00"/><stop offset="0.250" stop-color="#46b5ba" stop-opacity="1.00"/><stop offset="0.275" stop-color="#29abc5" stop-opacity="1.00"/><stop offset="0.300" stop-color="#249bc8" stop-opacity="0.66"/><stop offset="0.325" stop-color="#2d8bc2" stop-opacity="0.08"/><stop offset="0.350" stop-color="#367aba" stop-opacity="0.00"/><stop offset="0.375" stop-color="#3c69b0" stop-opacity="0.00"/><stop offset="0.400" stop-color="#415aa8" stop-opacity="0.00"/><stop offset="0.425" stop-color="#494ea2" stop-opacity="0.00"/><stop offset="0.450" stop-color="#5148a0" stop-opacity="0.00"/><stop offset="0.475" stop-color="#5b4a9f" stop-opacity="0.00"/><stop offset="0.500" stop-color="#5b4a9f" stop-opacity="0.00"/><stop offset="0.525" stop-color="#5b4a9f" stop-opacity="0.00"/><stop offset="0.550" stop-color="#5b4a9f" stop-opacity="0.00"/><stop offset="0.575" stop-color="#5b4a9f" stop-opacity="0.00"/><stop offset="0.600" stop-color="#5b4a9f" stop-opacity="0.00"/><stop offset="0.625" stop-color="#5b4a9f" stop-opacity="0.00"/><stop offset="0.650" stop-color="#5b4a9f" stop-opacity="0.00"/><stop offset="0.675" stop-color="#5b4a9f" stop-opacity="0.00"/><stop offset="0.700" stop-color="#5b4a9f" stop-opacity="0.00"/><stop offset="0.725" stop-color="#5b4a9f" stop-opacity="0.00"/><stop offset="0.750" stop-color="#5b4a9f" stop-opacity="0.00"/><stop offset="0.775" stop-color="#5b4a9f" stop-opacity="0.00"/><stop offset="0.800" stop-color="#5b4a9f" stop-opacity="0.00"/><stop offset="0.825" stop-color="#5b4a9f" stop-opacity="0.00"/><stop offset="0.850" stop-color="#5b4a9f" stop-opacity="0.00"/><stop offset="0.875" stop-color="#5b4a9f" stop-opacity="0.00"/><stop offset="0.900" stop-color="#5b4a9f" stop-opacity="0.00"/><stop offset="0.925" stop-color="#5b4a9f" stop-opacity="0.00"/><stop offset="0.950" stop-color="#5b4a9f" stop-opacity="0.00"/><stop offset="0.975" stop-color="#5b4a9f" stop-opacity="0.00"/><stop offset="1.000" stop-color="#5b4a9f" stop-opacity="0.00"/></linearGradient><linearGradient id="g1_2" gradientUnits="userSpaceOnUse" x1="349.20" y1="274.30" x2="560.50" y2="63.00"><stop offset="0.000" stop-color="#e8744f" stop-opacity="1.00"/><stop offset="0.025" stop-color="#e97c52" stop-opacity="1.00"/><stop offset="0.050" stop-color="#eb8355" stop-opacity="1.00"/><stop offset="0.075" stop-color="#ec9e67" stop-opacity="1.00"/><stop offset="0.100" stop-color="#cfba7b" stop-opacity="1.00"/><stop offset="0.125" stop-color="#a1ca8d" stop-opacity="1.00"/><stop offset="0.150" stop-color="#86c29b" stop-opacity="1.00"/><stop offset="0.175" stop-color="#74bda6" stop-opacity="1.00"/><stop offset="0.200" stop-color="#5ab7b2" stop-opacity="1.00"/><stop offset="0.225" stop-color="#3eb3bd" stop-opacity="1.00"/><stop offset="0.250" stop-color="#23a9c7" stop-opacity="1.00"/><stop offset="0.275" stop-color="#2499c8" stop-opacity="0.57"/><stop offset="0.300" stop-color="#3383be" stop-opacity="0.00"/><stop offset="0.325" stop-color="#3973b6" stop-opacity="0.00"/><stop offset="0.350" stop-color="#3e64ae" stop-opacity="0.00"/><stop offset="0.375" stop-color="#4356a6" stop-opacity="0.00"/><stop offset="0.400" stop-color="#4a4da2" stop-opacity="0.00"/><stop offset="0.425" stop-color="#5348a0" stop-opacity="0.00"/><stop offset="0.450" stop-color="#5b4a9f" stop-opacity="0.00"/><stop offset="0.475" stop-color="#5b4a9f" stop-opacity="0.00"/><stop offset="0.500" stop-color="#5b4a9f" stop-opacity="0.00"/><stop offset="0.525" stop-color="#5b4a9f" stop-opacity="0.00"/><stop offset="0.550" stop-color="#5b4a9f" stop-opacity="0.00"/><stop offset="0.575" stop-color="#5b4a9f" stop-opacity="0.00"/><stop offset="0.600" stop-color="#5b4a9f" stop-opacity="0.00"/><stop offset="0.625" stop-color="#5b4a9f" stop-opacity="0.00"/><stop offset="0.650" stop-color="#5b4a9f" stop-opacity="0.00"/><stop offset="0.675" stop-color="#5b4a9f" stop-opacity="0.00"/><stop offset="0.700" stop-color="#5b4a9f" stop-opacity="0.00"/><stop offset="0.725" stop-color="#5b4a9f" stop-opacity="0.00"/><stop offset="0.750" stop-color="#5b4a9f" stop-opacity="0.00"/><stop offset="0.775" stop-color="#5b4a9f" stop-opacity="0.00"/><stop offset="0.800" stop-color="#5b4a9f" stop-opacity="0.00"/><stop offset="0.825" stop-color="#5b4a9f" stop-opacity="0.00"/><stop offset="0.850" stop-color="#5b4a9f" stop-opacity="0.00"/><stop offset="0.875" stop-color="#5b4a9f" stop-opacity="0.00"/><stop offset="0.900" stop-color="#5b4a9f" stop-opacity="0.00"/><stop offset="0.925" stop-color="#5b4a9f" stop-opacity="0.00"/><stop offset="0.950" stop-color="#5b4a9f" stop-opacity="0.00"/><stop offset="0.975" stop-color="#5b4a9f" stop-opacity="0.00"/><stop offset="1.000" stop-color="#5b4a9f" stop-opacity="0.00"/></linearGradient><linearGradient id="g1_3" gradientUnits="userSpaceOnUse" x1="349.20" y1="274.30" x2="560.50" y2="63.00"><stop offset="0.000" stop-color="#e8a46b" stop-opacity="1.00"/><stop offset="0.025" stop-color="#e3a86d" stop-opacity="1.00"/><stop offset="0.050" stop-color="#dfab70" stop-opacity="1.00"/><stop offset="0.075" stop-color="#ccbd7d" stop-opacity="1.00"/><stop offset="0.100" stop-color="#a3ca8c" stop-opacity="1.00"/><stop offset="0.125" stop-color="#89c39a" stop-opacity="1.00"/><stop offset="0.150" stop-color="#70bca8" stop-opacity="1.00"/><stop offset="0.175" stop-color="#57b7b3" stop-opacity="1.00"/><stop offset="0.200" stop-color="#32aec2" stop-opacity="1.00"/><stop offset="0.225" stop-color="#23a3c8" stop-opacity="1.00"/><stop offset="0.250" stop-color="#2793c6" stop-opacity="0.36"/><stop offset="0.275" stop-color="#357fbc" stop-opacity="0.00"/><stop offset="0.300" stop-color="#3c68b0" stop-opacity="0.00"/><stop offset="0.325" stop-color="#405ca9" stop-opacity="0.00"/><stop offset="0.350" stop-color="#4551a4" stop-opacity="0.00"/><stop offset="0.375" stop-color="#4c4ba1" stop-opacity="0.00"/><stop offset="0.400" stop-color="#5449a0" stop-opacity="0.00"/><stop offset="0.425" stop-color="#5b4a9f" stop-opacity="0.00"/><stop offset="0.450" stop-color="#5b4a9f" stop-opacity="0.00"/><stop offset="0.475" stop-color="#5b4a9f" stop-opacity="0.00"/><stop offset="0.500" stop-color="#5b4a9f" stop-opacity="0.00"/><stop offset="0.525" stop-color="#5b4a9f" stop-opacity="0.00"/><stop offset="0.550" stop-color="#5b4a9f" stop-opacity="0.00"/><stop offset="0.575" stop-color="#5b4a9f" stop-opacity="0.00"/><stop offset="0.600" stop-color="#5b4a9f" stop-opacity="0.00"/><stop offset="0.625" stop-color="#5b4a9f" stop-opacity="0.00"/><stop offset="0.650" stop-color="#5b4a9f" stop-opacity="0.00"/><stop offset="0.675" stop-color="#5b4a9f" stop-opacity="0.00"/><stop offset="0.700" stop-color="#5b4a9f" stop-opacity="0.00"/><stop offset="0.725" stop-color="#5b4a9f" stop-opacity="0.00"/><stop offset="0.750" stop-color="#5b4a9f" stop-opacity="0.00"/><stop offset="0.775" stop-color="#5b4a9f" stop-opacity="0.00"/><stop offset="0.800" stop-color="#5b4a9f" stop-opacity="0.00"/><stop offset="0.825" stop-color="#5b4a9f" stop-opacity="0.00"/><stop offset="0.850" stop-color="#5b4a9f" stop-opacity="0.00"/><stop offset="0.875" stop-color="#5b4a9f" stop-opacity="0.00"/><stop offset="0.900" stop-color="#5b4a9f" stop-opacity="0.00"/><stop offset="0.925" stop-color="#5b4a9f" stop-opacity="0.00"/><stop offset="0.950" stop-color="#5b4a9f" stop-opacity="0.00"/><stop offset="0.975" stop-color="#5b4a9f" stop-opacity="0.00"/><stop offset="1.000" stop-color="#5b4a9f" stop-opacity="0.00"/></linearGradient><linearGradient id="g1_4" gradientUnits="userSpaceOnUse" x1="349.20" y1="274.30" x2="560.50" y2="63.00"><stop offset="0.000" stop-color="#c3c382" stop-opacity="1.00"/><stop offset="0.025" stop-color="#bdc684" stop-opacity="1.00"/><stop offset="0.050" stop-color="#b6c986" stop-opacity="1.00"/><stop offset="0.075" stop-color="#9cc98e" stop-opacity="1.00"/><stop offset="0.100" stop-color="#88c39a" stop-opacity="1.00"/><stop offset="0.125" stop-color="#72bda7" stop-opacity="1.00"/><stop offset="0.150" stop-color="#4eb6b7" stop-opacity="1.00"/><stop offset="0.175" stop-color="#2dacc4" stop-opacity="1.00"/><stop offset="0.200" stop-color="#249bc8" stop-opacity="0.66"/><stop offset="0.225" stop-color="#2e8ac2" stop-opacity="0.03"/><stop offset="0.250" stop-color="#3777b8" stop-opacity="0.00"/><stop offset="0.275" stop-color="#3e63ae" stop-opacity="0.00"/><stop offset="0.300" stop-color="#4452a4" stop-opacity="0.00"/><stop offset="0.325" stop-color="#4a4da2" stop-opacity="0.00"/><stop offset="0.350" stop-color="#5048a0" stop-opacity="0.00"/><stop offset="0.375" stop-color="#58499f" stop-opacity="0.00"/><stop offset="0.400" stop-color="#5b4a9f" stop-opacity="0.00"/><stop offset="0.425" stop-color="#5b4a9f" stop-opacity="0.00"/><stop offset="0.450" stop-color="#5b4a9f" stop-opacity="0.00"/><stop offset="0.475" stop-color="#5b4a9f" stop-opacity="0.00"/><stop offset="0.500" stop-color="#5b4a9f" stop-opacity="0.00"/><stop offset="0.525" stop-color="#5b4a9f" stop-opacity="0.00"/><stop offset="0.550" stop-color="#5b4a9f" stop-opacity="0.00"/><stop offset="0.575" stop-color="#5b4a9f" stop-opacity="0.00"/><stop offset="0.600" stop-color="#5b4a9f" stop-opacity="0.00"/><stop offset="0.625" stop-color="#5b4a9f" stop-opacity="0.00"/><stop offset="0.650" stop-color="#5b4a9f" stop-opacity="0.00"/><stop offset="0.675" stop-color="#5b4a9f" stop-opacity="0.00"/><stop offset="0.700" stop-color="#5b4a9f" stop-opacity="0.00"/><stop offset="0.725" stop-color="#5b4a9f" stop-opacity="0.00"/><stop offset="0.750" stop-color="#5b4a9f" stop-opacity="0.00"/><stop offset="0.775" stop-color="#5b4a9f" stop-opacity="0.00"/><stop offset="0.800" stop-color="#5b4a9f" stop-opacity="0.00"/><stop offset="0.825" stop-color="#5b4a9f" stop-opacity="0.00"/><stop offset="0.850" stop-color="#5b4a9f" stop-opacity="0.00"/><stop offset="0.875" stop-color="#5b4a9f" stop-opacity="0.00"/><stop offset="0.900" stop-color="#5b4a9f" stop-opacity="0.00"/><stop offset="0.925" stop-color="#5b4a9f" stop-opacity="0.00"/><stop offset="0.950" stop-color="#5b4a9f" stop-opacity="0.00"/><stop offset="0.975" stop-color="#5b4a9f" stop-opacity="0.00"/><stop offset="1.000" stop-color="#5b4a9f" stop-opacity="0.00"/></linearGradient><clipPath id="cp1"><rect x="349.20" y="63.00" width="211.30" height="211.30"/></clipPath></defs><g clip-path="url(#cp1)" fill="none"><path d="M349.20 274.30L560.50 63.00" stroke="url(#g1_0)" stroke-width="0.75"/><path d="M348.71 273.81L560.01 62.51" stroke="url(#g1_1)" stroke-width="0.75"/><path d="M348.21 273.31L559.51 62.01" stroke="url(#g1_2)" stroke-width="0.75"/><path d="M347.72 272.82L559.02 61.52" stroke="url(#g1_3)" stroke-width="0.75"/><path d="M347.22 272.32L558.52 61.02" stroke="url(#g1_4)" stroke-width="0.75"/></g>
<path d="M349.20 274.30L560.50 63.00" stroke="#1a1a1a" stroke-opacity="0.85" stroke-width="1.1" fill="none"/>
<path d="M391.46 274.30v-3.5M391.46 63.00v3.5M349.20 232.04h3.5M560.50 232.04h-3.5M433.72 274.30v-3.5M433.72 63.00v3.5M349.20 189.78h3.5M560.50 189.78h-3.5M475.98 274.30v-3.5M475.98 63.00v3.5M349.20 147.52h3.5M560.50 147.52h-3.5M518.24 274.30v-3.5M518.24 63.00v3.5M349.20 105.26h3.5M560.50 105.26h-3.5" stroke="#505050" stroke-width="0.8" fill="none"/>
<rect x="349.20" y="63.00" width="211.30" height="211.30" fill="none" stroke="#505050" stroke-width="1.1"/>
<text x="349.20" y="282.50" font-family="Liberation Sans" font-size="7.2" fill="#111" stroke="#111" stroke-width="0.2" text-anchor="middle">0</text>
<text x="346.20" y="276.20" font-family="Liberation Sans" font-size="7.2" fill="#111" stroke="#111" stroke-width="0.2" text-anchor="end">0</text>
<text x="391.46" y="282.50" font-family="Liberation Sans" font-size="7.2" fill="#111" stroke="#111" stroke-width="0.2" text-anchor="middle">1</text>
<text x="346.20" y="233.94" font-family="Liberation Sans" font-size="7.2" fill="#111" stroke="#111" stroke-width="0.2" text-anchor="end">1</text>
<text x="433.72" y="282.50" font-family="Liberation Sans" font-size="7.2" fill="#111" stroke="#111" stroke-width="0.2" text-anchor="middle">2</text>
<text x="346.20" y="191.68" font-family="Liberation Sans" font-size="7.2" fill="#111" stroke="#111" stroke-width="0.2" text-anchor="end">2</text>
<text x="475.98" y="282.50" font-family="Liberation Sans" font-size="7.2" fill="#111" stroke="#111" stroke-width="0.2" text-anchor="middle">3</text>
<text x="346.20" y="149.42" font-family="Liberation Sans" font-size="7.2" fill="#111" stroke="#111" stroke-width="0.2" text-anchor="end">3</text>
<text x="518.24" y="282.50" font-family="Liberation Sans" font-size="7.2" fill="#111" stroke="#111" stroke-width="0.2" text-anchor="middle">4</text>
<text x="346.20" y="107.16" font-family="Liberation Sans" font-size="7.2" fill="#111" stroke="#111" stroke-width="0.2" text-anchor="end">4</text>
<text x="560.50" y="282.50" font-family="Liberation Sans" font-size="7.2" fill="#111" stroke="#111" stroke-width="0.2" text-anchor="middle">5</text>
<text x="346.20" y="64.90" font-family="Liberation Sans" font-size="7.2" fill="#111" stroke="#111" stroke-width="0.2" text-anchor="end">5</text>
<rect x="575.70" y="63.00" width="10.10" height="211.30" fill="url(#cm)" stroke="#505050" stroke-width="0.9"/>
<text x="588.40" y="92.20" font-family="Liberation Serif" font-size="8.6" fill="#111" stroke="#111" stroke-width="0.15">10<tspan font-size="5.8" dx="0.4" dy="-2.7">3</tspan></text>
<text x="588.40" y="153.90" font-family="Liberation Serif" font-size="8.6" fill="#111" stroke="#111" stroke-width="0.15">10<tspan font-size="5.8" dx="0.4" dy="-2.7">2</tspan></text>
<text x="588.40" y="215.90" font-family="Liberation Serif" font-size="8.6" fill="#111" stroke="#111" stroke-width="0.15">10<tspan font-size="5.8" dx="0.4" dy="-2.7">1</tspan></text>
<text x="588.40" y="277.30" font-family="Liberation Serif" font-size="8.6" fill="#111" stroke="#111" stroke-width="0.15">10<tspan font-size="5.8" dx="0.4" dy="-2.7">0</tspan></text>
<path d="M585.80 89.20h-2.5M585.80 150.90h-2.5M585.80 212.90h-2.5M585.80 274.30h-2.5" stroke="#333" stroke-width="0.8" fill="none"/>
<text x="480.40" y="266.50" font-family="Liberation Serif" font-size="21" fill="#111">N<tspan font-size="13.7" dy="3.5">c</tspan><tspan dy="-3.5">=2.5M</tspan></text>
<g transform="translate(445.35,287.30)"><path d="M9.0 5.0C8.5 7.0 6.5 9.4 4.5 9.3C2.0 9.2 0.6 7.4 0.9 5.3C1.3 2.8 4.5 0.6 9.0 0.3C12.0 0.1 14.6 0.6 14.4 2.3C14.2 3.4 12.8 3.9 11.2 3.9M10.2 1.6L10.6 4.1M8.6 4.6L13.5 9.5M4.8 6.6C5.3 5.0 6.8 4.0 8.6 4.6" stroke="#1a1a1a" stroke-width="1.0" fill="none" stroke-linecap="round"/><text x="16.4" y="2.4" font-family="Liberation Serif" font-size="9" fill="#222">2</text><text x="15.0" y="13.4" font-family="Liberation Serif" font-style="italic" font-size="10.5" fill="#222">b</text></g>
<g transform="translate(322.30,182.65) rotate(-90)"><path d="M9.0 5.0C8.5 7.0 6.5 9.4 4.5 9.3C2.0 9.2 0.6 7.4 0.9 5.3C1.3 2.8 4.5 0.6 9.0 0.3C12.0 0.1 14.6 0.6 14.4 2.3C14.2 3.4 12.8 3.9 11.2 3.9M10.2 1.6L10.6 4.1M8.6 4.6L13.5 9.5M4.8 6.6C5.3 5.0 6.8 4.0 8.6 4.6" stroke="#1a1a1a" stroke-width="1.0" fill="none" stroke-linecap="round"/><text x="16.4" y="2.0" font-family="Liberation Serif" font-size="9" fill="#222">2</text><text x="15.0" y="13.4" font-family="Liberation Serif" font-style="italic" font-size="10.5" fill="#222">d</text></g>
<path d="M87.50 305.80V517.10M34.80 464.50H246.00M140.50 305.80V517.10M34.80 411.50H246.00M193.50 305.80V517.10M34.80 358.50H246.00" stroke="#bcbcbc" stroke-width="1" stroke-dasharray="1 1.25" fill="none"/>
<defs><clipPath id="cq2"><polygon points="34.80,305.80 34.80,517.50 246.40,305.80"/></clipPath></defs><g clip-path="url(#cq2)"><g transform="translate(34.80,517.10) scale(1.5)" fill="none" stroke-width="1" shape-rendering="crispEdges"><path d="M0 -0.5h1" stroke="#6abaaa"/><path d="M1 -0.5h1M0.5 -1.5h1" stroke="#66baae"/><path d="M1.5 -1.5h1" stroke="#62bab2"/><path d="M0 -2.5h1M3.5 -5.5h1" stroke="#46b6ba"/><path d="M1 -2.5h1" stroke="#5ebab2"/><path d="M2 -2.5h1" stroke="#52b6b6"/><path d="M3 -2.5h1" stroke="#5ab6b2"/><path d="M0.5 -3.5h1M2 -4.5h1" stroke="#4eb6ba"/><path d="M1.5 -3.5h1" stroke="#4ab6ba"/><path d="M2.5 -3.5h1" stroke="#42b6ba"/><path d="M3.5 -3.5h1M0.5 -5.5h1M1 -6.5h1" stroke="#3ab2be"/><path d="M0 -4.5h2M5.5 -5.5h1" stroke="#32aec2"/><path d="M3 -4.5h1M2.5 -5.5h1" stroke="#42b6be"/><path d="M4 -4.5h1M3.5 -7.5h2" stroke="#36b2c2"/><path d="M5 -4.5h1" stroke="#2aaac6"/><path d="M1.5 -5.5h1" stroke="#56b6b6"/><path d="M4.5 -5.5h1" stroke="#3eb2be"/><path d="M0 -6.5h1M0 -8.5h1M6 -8.5h1M8.5 -9.5h2M0 -12.5h1M12 -12.5h1M5 -14.5h1M4.5 -15.5h1M7.5 -15.5h1M9.5 -15.5h1M10 -16.5h1M22.5 -23.5h1M25.5 -25.5h1M30 -30.5h1" stroke="#367ebe"/><path d="M2 -6.5h1M5 -6.5h1M0.5 -7.5h2M6.5 -7.5h1M1 -8.5h1M7 -8.5h1M2.5 -9.5h1M5 -10.5h1" stroke="#22a6ca"/><path d="M3 -6.5h1M3 -8.5h1M1.5 -9.5h1" stroke="#2eaec2"/><path d="M4 -6.5h1M2.5 -7.5h1M5.5 -7.5h1M4 -8.5h1M5.5 -9.5h1M3 -10.5h1" stroke="#26aac6"/><path d="M6 -6.5h2M3.5 -9.5h1M4 -10.5h1M6 -10.5h2" stroke="#22a2ca"/><path d="M7.5 -7.5h1M5 -8.5h1M9 -8.5h1M0.5 -9.5h1M4.5 -9.5h1M5.5 -11.5h1M5 -12.5h2M2 -14.5h1" stroke="#269aca"/><path d="M2 -8.5h1M3.5 -11.5h1" stroke="#2eaec6"/><path d="M8 -8.5h1M1 -10.5h1M4.5 -11.5h1M6.5 -11.5h1M10.5 -11.5h1M2 -12.5h1M8 -12.5h1M5.5 -13.5h1M12.5 -15.5h1M3.5 -17.5h1M5.5 -17.5h1M20 -22.5h1M24 -24.5h1M23.5 -25.5h1" stroke="#2e8ac2"/><path d="M6.5 -9.5h1M2.5 -11.5h1M6 -14.5h1M15.5 -17.5h1M20.5 -21.5h1M23 -22.5h1M26 -26.5h1" stroke="#2696c6"/><path d="M7.5 -9.5h1M0 -10.5h1M12.5 -13.5h2M7 -14.5h2M11.5 -15.5h1M4 -16.5h1M12 -16.5h1M16 -16.5h1M7.5 -17.5h1M9.5 -17.5h1M4 -18.5h1M14 -18.5h1M3.5 -19.5h1M7.5 -19.5h2M3 -20.5h1M12 -20.5h1M15.5 -21.5h1M19.5 -21.5h1M5 -22.5h1M12 -22.5h1M14 -22.5h1M6.5 -23.5h1M17.5 -23.5h1M19.5 -23.5h1M25 -24.5h1M6.5 -25.5h1M22.5 -25.5h1M25 -26.5h1M26 -28.5h1" stroke="#3a6eb2"/><path d="M2 -10.5h1M8 -10.5h1M7.5 -11.5h1M13 -12.5h1M1.5 -13.5h1M6.5 -13.5h1M8.5 -13.5h1M10.5 -13.5h1M11 -14.5h1M2.5 -15.5h1M5.5 -15.5h1M14 -16.5h1M2.5 -17.5h1M4.5 -17.5h1M6.5 -17.5h1M14.5 -17.5h1M17.5 -19.5h1M19 -20.5h1M21 -20.5h1M4.5 -21.5h1M21 -22.5h1" stroke="#3286be"/><path d="M9 -10.5h1M0.5 -11.5h1M1 -12.5h1M4 -12.5h1M11 -12.5h1M9.5 -13.5h1M1 -14.5h1M12 -14.5h4M1.5 -15.5h1M6.5 -15.5h1M14.5 -15.5h1M3 -16.5h1M9 -16.5h1M11 -16.5h1M15 -16.5h1M8.5 -17.5h1M13.5 -17.5h1M17.5 -17.5h1M2 -18.5h2M7 -18.5h1M11 -18.5h1M5.5 -19.5h1M11.5 -19.5h1M14.5 -19.5h1M1 -20.5h1M8 -20.5h1M14 -20.5h1M9.5 -21.5h4M8 -22.5h1M13 -22.5h1M19 -22.5h1M2.5 -23.5h1M8.5 -23.5h1M10 -24.5h1M11.5 -25.5h1M21.5 -25.5h1M24.5 -25.5h1M5 -26.5h2M8 -26.5h1M22 -26.5h1M24 -26.5h1M9.5 -27.5h1M3 -28.5h1M5 -28.5h1M29 -28.5h1M6.5 -29.5h1M2 -30.5h1M28 -30.5h1M30.5 -31.5h1M35.5 -35.5h1M6 -36.5h1" stroke="#3e66ae"/><path d="M10 -10.5h1M8.5 -11.5h2M11.5 -11.5h1M7 -12.5h1M1 -16.5h1M5 -16.5h1M8 -16.5h1M8 -18.5h1M12 -18.5h1M16 -18.5h1M4.5 -19.5h1M12.5 -19.5h2M16.5 -19.5h1M4 -20.5h1M6 -20.5h2M2.5 -21.5h1M6.5 -21.5h1M0.5 -23.5h1M13 -26.5h1M6.5 -27.5h1M27.5 -27.5h1M28.5 -29.5h1M33.5 -33.5h1" stroke="#3676ba"/><path d="M11 -10.5h1M0.5 -13.5h1M2.5 -13.5h2M3 -14.5h2M9 -14.5h1M8.5 -15.5h1M2 -16.5h1M7 -16.5h1M1.5 -17.5h1M11.5 -17.5h1M5 -18.5h2M9 -18.5h2M19 -18.5h1M1.5 -19.5h1M6.5 -19.5h1M10.5 -19.5h1M10 -20.5h2M13 -20.5h1M17 -20.5h2M5.5 -21.5h1M17.5 -21.5h1M2 -22.5h2M9 -22.5h1M15 -22.5h1M13.5 -23.5h1M1 -24.5h1M4 -24.5h1M11 -24.5h1M19 -24.5h1M23 -24.5h1M8.5 -25.5h2M12.5 -25.5h1M7 -26.5h1M10 -26.5h2M14 -26.5h1M17 -26.5h1M23 -26.5h1M3.5 -27.5h1M11.5 -27.5h1M13.5 -27.5h1M12.5 -29.5h1M14.5 -29.5h1M27.5 -29.5h1M29.5 -29.5h1M4 -30.5h2M7 -30.5h1M14 -30.5h1M29 -30.5h1M5.5 -31.5h1M23.5 -31.5h1M26.5 -31.5h1M8 -32.5h1M13 -32.5h1M17 -32.5h1M21.5 -33.5h1M7 -34.5h1M32 -34.5h1M7.5 -35.5h1M3.5 -37.5h1M19.5 -37.5h1M38.5 -39.5h1M7 -42.5h1M6.5 -45.5h1M49.5 -49.5h1M20 -50.5h1" stroke="#425aa6"/><path d="M1.5 -11.5h1M9 -12.5h1M7.5 -13.5h1M23.5 -23.5h1" stroke="#229eca"/><path d="M3 -12.5h1M4.5 -13.5h1M10 -14.5h1M3.5 -15.5h1M10.5 -15.5h1M6 -16.5h1M13 -16.5h1" stroke="#2a8ec6"/><path d="M10 -12.5h1M0.5 -15.5h1M13.5 -15.5h1M10.5 -17.5h1M12.5 -17.5h1M13 -18.5h1M17 -18.5h1M2.5 -19.5h1M15.5 -19.5h1M5 -20.5h1M20 -20.5h1M0.5 -21.5h1M3.5 -21.5h1M7.5 -21.5h2M14.5 -21.5h1M18.5 -21.5h1M21.5 -21.5h1M4 -22.5h1M16 -22.5h2M1.5 -23.5h1M3.5 -23.5h1M5.5 -23.5h1M10.5 -23.5h1M15.5 -23.5h1M18.5 -23.5h1M2 -24.5h2M14 -24.5h1M21 -24.5h2M3.5 -25.5h2M7.5 -25.5h1M3 -26.5h1M9 -26.5h1M12 -26.5h1M18 -26.5h1M21 -26.5h1M1.5 -27.5h1M7.5 -27.5h1M16.5 -27.5h1M21.5 -27.5h1M23.5 -27.5h1M25.5 -27.5h2M6 -28.5h1M0.5 -29.5h1M3.5 -29.5h1M7.5 -29.5h3M15.5 -29.5h2M21.5 -29.5h1M1 -30.5h1M9 -30.5h2M12 -30.5h1M17 -30.5h1M20 -30.5h2M27 -30.5h1M31 -30.5h1M6.5 -31.5h1M11.5 -31.5h1M16.5 -31.5h1M21.5 -31.5h1M29.5 -31.5h1M31.5 -31.5h1M3 -32.5h1M10 -32.5h1M18 -32.5h2M30 -32.5h1M0.5 -33.5h1M13.5 -33.5h1M19.5 -33.5h1M23.5 -33.5h1M27.5 -33.5h1M31.5 -33.5h2M4 -34.5h1M31 -34.5h1M33 -34.5h2M18.5 -35.5h1M23.5 -35.5h1M31.5 -35.5h3M4 -36.5h1M8 -36.5h1M36 -36.5h2M10.5 -37.5h1M24.5 -37.5h1M9 -38.5h1M29 -38.5h1M37 -38.5h1M8.5 -39.5h1M24.5 -39.5h1M30.5 -39.5h1M14 -40.5h1M32 -40.5h1M38.5 -41.5h1M41.5 -41.5h1M17 -42.5h1M42.5 -43.5h2M32.5 -45.5h1M4 -46.5h1M9 -46.5h1M21 -48.5h1M35.5 -49.5h1M48.5 -51.5h1M10 -54.5h1M19.5 -55.5h1M55.5 -55.5h1M54 -56.5h1M57.5 -57.5h1M57 -58.5h1" stroke="#4a4ea2"/><path d="M11.5 -13.5h1M0 -14.5h1M15.5 -15.5h1M16.5 -17.5h1M1 -18.5h1M18 -18.5h1M0.5 -19.5h1M9.5 -19.5h1M18.5 -19.5h2M2 -20.5h1M9 -20.5h1M15 -20.5h2M1.5 -21.5h1M16.5 -21.5h1M1 -22.5h1M6 -22.5h2M11 -22.5h1M22 -22.5h1M7.5 -23.5h1M9.5 -23.5h1M11.5 -23.5h2M14.5 -23.5h1M20.5 -23.5h2M5 -24.5h4M12 -24.5h2M15 -24.5h2M20 -24.5h1M0.5 -25.5h3M5.5 -25.5h1M10.5 -25.5h1M13.5 -25.5h2M16.5 -25.5h1M20.5 -25.5h1M1 -26.5h1M4 -26.5h1M16 -26.5h1M2.5 -27.5h1M4.5 -27.5h2M8.5 -27.5h1M10.5 -27.5h1M12.5 -27.5h1M14.5 -27.5h2M18.5 -27.5h2M24.5 -27.5h1M1 -28.5h2M4 -28.5h1M7 -28.5h4M14 -28.5h2M17 -28.5h2M20 -28.5h6M27 -28.5h1M1.5 -29.5h1M17.5 -29.5h1M19.5 -29.5h2M22.5 -29.5h1M25.5 -29.5h1M3 -30.5h1M11 -30.5h1M13 -30.5h1M15 -30.5h1M24 -30.5h1M0.5 -31.5h2M4.5 -31.5h1M10.5 -31.5h1M12.5 -31.5h1M22.5 -31.5h1M24.5 -31.5h1M28.5 -31.5h1M2 -32.5h1M6 -32.5h1M9 -32.5h1M11 -32.5h2M24 -32.5h2M28 -32.5h1M31 -32.5h2M3.5 -33.5h1M8.5 -33.5h3M12.5 -33.5h1M14.5 -33.5h3M22.5 -33.5h1M25.5 -33.5h1M1 -34.5h3M5 -34.5h1M10 -34.5h1M12 -34.5h3M28 -34.5h1M35 -34.5h1M0.5 -35.5h1M4.5 -35.5h1M9.5 -35.5h1M11.5 -35.5h1M27.5 -35.5h1M3 -36.5h1M7 -36.5h1M10 -36.5h1M12 -36.5h2M23 -36.5h2M27 -36.5h2M4.5 -37.5h1M6.5 -37.5h2M14.5 -37.5h3M21.5 -37.5h2M34.5 -37.5h2M37.5 -37.5h1M3 -38.5h1M6 -38.5h3M10 -38.5h1M12 -38.5h1M17 -38.5h3M22 -38.5h3M26 -38.5h1M30 -38.5h2M0.5 -39.5h1M2.5 -39.5h1M4.5 -39.5h2M9.5 -39.5h1M15.5 -39.5h1M18.5 -39.5h1M20.5 -39.5h3M25.5 -39.5h1M32.5 -39.5h2M39.5 -39.5h1M4 -40.5h1M7 -40.5h1M9 -40.5h1M11 -40.5h1M13 -40.5h1M15 -40.5h1M17 -40.5h1M21 -40.5h3M34 -40.5h1M38 -40.5h1M40 -40.5h2M3.5 -41.5h1M5.5 -41.5h1M7.5 -41.5h1M10.5 -41.5h1M12.5 -41.5h1M14.5 -41.5h1M17.5 -41.5h1M21.5 -41.5h1M24.5 -41.5h2M28.5 -41.5h1M34.5 -41.5h1M40.5 -41.5h1M2 -42.5h1M11 -42.5h1M20 -42.5h1M22 -42.5h1M26 -42.5h1M33 -42.5h1M36 -42.5h1M38 -42.5h2M41 -42.5h1M4.5 -43.5h1M8.5 -43.5h1M10.5 -43.5h1M12.5 -43.5h1M15.5 -43.5h1M18.5 -43.5h2M27.5 -43.5h1M31.5 -43.5h2M34.5 -43.5h1M4 -44.5h1M10 -44.5h2M16 -44.5h2M23 -44.5h1M29 -44.5h2M33 -44.5h2M43 -44.5h2M8.5 -45.5h1M13.5 -45.5h1M15.5 -45.5h1M25.5 -45.5h1M29.5 -45.5h1M31.5 -45.5h1M35.5 -45.5h1M37.5 -45.5h1M45.5 -45.5h1M7 -46.5h1M11 -46.5h1M19 -46.5h2M27 -46.5h1M35 -46.5h1M37 -46.5h1M46 -46.5h2M2.5 -47.5h1M4.5 -47.5h1M6.5 -47.5h1M8.5 -47.5h1M10.5 -47.5h1M12.5 -47.5h1M15.5 -47.5h1M25.5 -47.5h1M42.5 -47.5h1M46.5 -47.5h1M2 -48.5h1M5 -48.5h1M8 -48.5h1M22 -48.5h2M36 -48.5h1M38 -48.5h3M2.5 -49.5h1M9.5 -49.5h1M12.5 -49.5h2M25.5 -49.5h2M42.5 -49.5h1M46.5 -49.5h2M4 -50.5h1M6 -50.5h1M10 -50.5h2M13 -50.5h1M24 -50.5h1M48 -50.5h1M51 -50.5h1M3.5 -51.5h1M12.5 -51.5h1M15.5 -51.5h1M25.5 -51.5h1M32.5 -51.5h1M34.5 -51.5h1M9 -52.5h1M22 -52.5h2M29 -52.5h1M38 -52.5h1M46 -52.5h1M52 -52.5h1M14.5 -53.5h1M18.5 -53.5h1M24.5 -53.5h1M31.5 -53.5h1M34.5 -53.5h1M52.5 -53.5h1M24 -54.5h1M30 -54.5h1M11.5 -55.5h1M13.5 -55.5h1M18.5 -55.5h1M44.5 -55.5h1M52.5 -55.5h1M1 -56.5h1M3 -56.5h1M44 -56.5h1M1.5 -57.5h1M7.5 -57.5h1M21.5 -57.5h1M23.5 -57.5h1M26.5 -57.5h1M37.5 -57.5h1M56.5 -57.5h1M9 -58.5h2M20 -58.5h1M34 -58.5h1M36 -58.5h1M38 -58.5h1M54 -58.5h1M7.5 -59.5h1M15.5 -59.5h1M26.5 -59.5h1M38.5 -59.5h1M40.5 -59.5h1M50.5 -59.5h1M8 -60.5h1M10 -60.5h1M54 -60.5h1M59 -60.5h1M31.5 -61.5h1M33.5 -61.5h1M2 -62.5h1M31.5 -63.5h1M4 -64.5h1M40 -64.5h1M45 -64.5h1M31.5 -65.5h1M56.5 -65.5h1M9 -66.5h1M66 -66.5h1M8.5 -67.5h1M67.5 -67.5h1M18 -68.5h1M22 -68.5h1M66 -68.5h1M9.5 -69.5h1M34 -70.5h1M49 -70.5h1M53 -70.5h1M67 -70.5h1M21.5 -71.5h1M69.5 -71.5h1M30 -72.5h1M55 -72.5h1M70 -72.5h1M6.5 -73.5h1M17 -74.5h1M56 -74.5h1M1.5 -75.5h1M10 -76.5h1M45 -76.5h1M74 -76.5h1M13.5 -77.5h1M46.5 -77.5h1M51.5 -79.5h1M71.5 -79.5h1M38 -80.5h1M46 -80.5h1M78.5 -81.5h1M80 -82.5h1M33.5 -83.5h1M23 -84.5h1M25 -84.5h1M43 -86.5h1M55 -86.5h1M23.5 -87.5h1M34.5 -87.5h1M9 -88.5h1M84 -88.5h1M12.5 -89.5h1M89.5 -89.5h1M74 -90.5h1M93.5 -93.5h1M25 -98.5h1M81.5 -103.5h1M102.5 -103.5h1M46 -106.5h1M32.5 -109.5h1M63 -110.5h1M48 -112.5h1M14.5 -123.5h1M62.5 -123.5h1M9.5 -127.5h1M28.5 -129.5h1M109 -134.5h1M59.5 -135.5h1M114 -136.5h1" stroke="#5a4a9e"/></g></g>
<defs><linearGradient id="g2_0" gradientUnits="userSpaceOnUse" x1="34.80" y1="517.10" x2="246.00" y2="305.80"><stop offset="0.000" stop-color="#e02e32" stop-opacity="1.00"/><stop offset="0.025" stop-color="#a1ca8d" stop-opacity="1.00"/><stop offset="0.050" stop-color="#7fc0a0" stop-opacity="1.00"/><stop offset="0.075" stop-color="#65b9ad" stop-opacity="1.00"/><stop offset="0.100" stop-color="#44b4bb" stop-opacity="1.00"/><stop offset="0.125" stop-color="#22a7c8" stop-opacity="1.00"/><stop offset="0.150" stop-color="#2a90c4" stop-opacity="1.00"/><stop offset="0.175" stop-color="#3779b9" stop-opacity="0.46"/><stop offset="0.200" stop-color="#3e62ad" stop-opacity="0.00"/><stop offset="0.225" stop-color="#4750a3" stop-opacity="0.00"/><stop offset="0.250" stop-color="#5248a0" stop-opacity="0.00"/><stop offset="0.275" stop-color="#5b4a9f" stop-opacity="0.00"/><stop offset="0.300" stop-color="#5b4a9f" stop-opacity="0.00"/><stop offset="0.325" stop-color="#5b4a9f" stop-opacity="0.00"/><stop offset="0.350" stop-color="#5b4a9f" stop-opacity="0.00"/><stop offset="0.375" stop-color="#5b4a9f" stop-opacity="0.00"/><stop offset="0.400" stop-color="#5b4a9f" stop-opacity="0.00"/><stop offset="0.425" stop-color="#5b4a9f" stop-opacity="0.00"/><stop offset="0.450" stop-color="#5b4a9f" stop-opacity="0.00"/><stop offset="0.475" stop-color="#5b4a9f" stop-opacity="0.00"/><stop offset="0.500" stop-color="#5b4a9f" stop-opacity="0.00"/><stop offset="0.525" stop-color="#5b4a9f" stop-opacity="0.00"/><stop offset="0.550" stop-color="#5b4a9f" stop-opacity="0.00"/><stop offset="0.575" stop-color="#5b4a9f" stop-opacity="0.00"/><stop offset="0.600" stop-color="#5b4a9f" stop-opacity="0.00"/><stop offset="0.625" stop-color="#5b4a9f" stop-opacity="0.00"/><stop offset="0.650" stop-color="#5b4a9f" stop-opacity="0.00"/><stop offset="0.675" stop-color="#5b4a9f" stop-opacity="0.00"/><stop offset="0.700" stop-color="#5b4a9f" stop-opacity="0.00"/><stop offset="0.725" stop-color="#5b4a9f" stop-opacity="0.00"/><stop offset="0.750" stop-color="#5b4a9f" stop-opacity="0.00"/><stop offset="0.775" stop-color="#5b4a9f" stop-opacity="0.00"/><stop offset="0.800" stop-color="#5b4a9f" stop-opacity="0.00"/><stop offset="0.825" stop-color="#5b4a9f" stop-opacity="0.00"/><stop offset="0.850" stop-color="#5b4a9f" stop-opacity="0.00"/><stop offset="0.875" stop-color="#5b4a9f" stop-opacity="0.00"/><stop offset="0.900" stop-color="#5b4a9f" stop-opacity="0.00"/><stop offset="0.925" stop-color="#5b4a9f" stop-opacity="0.00"/><stop offset="0.950" stop-color="#5b4a9f" stop-opacity="0.00"/><stop offset="0.975" stop-color="#5b4a9f" stop-opacity="0.00"/><stop offset="1.000" stop-color="#5b4a9f" stop-opacity="0.00"/></linearGradient><linearGradient id="g2_1" gradientUnits="userSpaceOnUse" x1="34.80" y1="517.10" x2="246.00" y2="305.80"><stop offset="0.000" stop-color="#e1473c" stop-opacity="1.00"/><stop offset="0.025" stop-color="#8bc498" stop-opacity="1.00"/><stop offset="0.050" stop-color="#6cbbaa" stop-opacity="1.00"/><stop offset="0.075" stop-color="#49b5b9" stop-opacity="1.00"/><stop offset="0.100" stop-color="#27aac6" stop-opacity="1.00"/><stop offset="0.125" stop-color="#2597c7" stop-opacity="1.00"/><stop offset="0.150" stop-color="#367aba" stop-opacity="0.53"/><stop offset="0.175" stop-color="#3e64ae" stop-opacity="0.00"/><stop offset="0.200" stop-color="#4551a4" stop-opacity="0.00"/><stop offset="0.225" stop-color="#5048a0" stop-opacity="0.00"/><stop offset="0.250" stop-color="#5b4a9f" stop-opacity="0.00"/><stop offset="0.275" stop-color="#5b4a9f" stop-opacity="0.00"/><stop offset="0.300" stop-color="#5b4a9f" stop-opacity="0.00"/><stop offset="0.325" stop-color="#5b4a9f" stop-opacity="0.00"/><stop offset="0.350" stop-color="#5b4a9f" stop-opacity="0.00"/><stop offset="0.375" stop-color="#5b4a9f" stop-opacity="0.00"/><stop offset="0.400" stop-color="#5b4a9f" stop-opacity="0.00"/><stop offset="0.425" stop-color="#5b4a9f" stop-opacity="0.00"/><stop offset="0.450" stop-color="#5b4a9f" stop-opacity="0.00"/><stop offset="0.475" stop-color="#5b4a9f" stop-opacity="0.00"/><stop offset="0.500" stop-color="#5b4a9f" stop-opacity="0.00"/><stop offset="0.525" stop-color="#5b4a9f" stop-opacity="0.00"/><stop offset="0.550" stop-color="#5b4a9f" stop-opacity="0.00"/><stop offset="0.575" stop-color="#5b4a9f" stop-opacity="0.00"/><stop offset="0.600" stop-color="#5b4a9f" stop-opacity="0.00"/><stop offset="0.625" stop-color="#5b4a9f" stop-opacity="0.00"/><stop offset="0.650" stop-color="#5b4a9f" stop-opacity="0.00"/><stop offset="0.675" stop-color="#5b4a9f" stop-opacity="0.00"/><stop offset="0.700" stop-color="#5b4a9f" stop-opacity="0.00"/><stop offset="0.725" stop-color="#5b4a9f" stop-opacity="0.00"/><stop offset="0.750" stop-color="#5b4a9f" stop-opacity="0.00"/><stop offset="0.775" stop-color="#5b4a9f" stop-opacity="0.00"/><stop offset="0.800" stop-color="#5b4a9f" stop-opacity="0.00"/><stop offset="0.825" stop-color="#5b4a9f" stop-opacity="0.00"/><stop offset="0.850" stop-color="#5b4a9f" stop-opacity="0.00"/><stop offset="0.875" stop-color="#5b4a9f" stop-opacity="0.00"/><stop offset="0.900" stop-color="#5b4a9f" stop-opacity="0.00"/><stop offset="0.925" stop-color="#5b4a9f" stop-opacity="0.00"/><stop offset="0.950" stop-color="#5b4a9f" stop-opacity="0.00"/><stop offset="0.975" stop-color="#5b4a9f" stop-opacity="0.00"/><stop offset="1.000" stop-color="#5b4a9f" stop-opacity="0.00"/></linearGradient><linearGradient id="g2_2" gradientUnits="userSpaceOnUse" x1="34.80" y1="517.10" x2="246.00" y2="305.80"><stop offset="0.000" stop-color="#e66d4c" stop-opacity="1.00"/><stop offset="0.025" stop-color="#7abea3" stop-opacity="1.00"/><stop offset="0.050" stop-color="#52b6b5" stop-opacity="1.00"/><stop offset="0.075" stop-color="#2babc5" stop-opacity="1.00"/><stop offset="0.100" stop-color="#249ac8" stop-opacity="1.00"/><stop offset="0.125" stop-color="#3580bd" stop-opacity="0.79"/><stop offset="0.150" stop-color="#3d64ae" stop-opacity="0.00"/><stop offset="0.175" stop-color="#4552a4" stop-opacity="0.00"/><stop offset="0.200" stop-color="#4f49a0" stop-opacity="0.00"/><stop offset="0.225" stop-color="#5b4a9f" stop-opacity="0.00"/><stop offset="0.250" stop-color="#5b4a9f" stop-opacity="0.00"/><stop offset="0.275" stop-color="#5b4a9f" stop-opacity="0.00"/><stop offset="0.300" stop-color="#5b4a9f" stop-opacity="0.00"/><stop offset="0.325" stop-color="#5b4a9f" stop-opacity="0.00"/><stop offset="0.350" stop-color="#5b4a9f" stop-opacity="0.00"/><stop offset="0.375" stop-color="#5b4a9f" stop-opacity="0.00"/><stop offset="0.400" stop-color="#5b4a9f" stop-opacity="0.00"/><stop offset="0.425" stop-color="#5b4a9f" stop-opacity="0.00"/><stop offset="0.450" stop-color="#5b4a9f" stop-opacity="0.00"/><stop offset="0.475" stop-color="#5b4a9f" stop-opacity="0.00"/><stop offset="0.500" stop-color="#5b4a9f" stop-opacity="0.00"/><stop offset="0.525" stop-color="#5b4a9f" stop-opacity="0.00"/><stop offset="0.550" stop-color="#5b4a9f" stop-opacity="0.00"/><stop offset="0.575" stop-color="#5b4a9f" stop-opacity="0.00"/><stop offset="0.600" stop-color="#5b4a9f" stop-opacity="0.00"/><stop offset="0.625" stop-color="#5b4a9f" stop-opacity="0.00"/><stop offset="0.650" stop-color="#5b4a9f" stop-opacity="0.00"/><stop offset="0.675" stop-color="#5b4a9f" stop-opacity="0.00"/><stop offset="0.700" stop-color="#5b4a9f" stop-opacity="0.00"/><stop offset="0.725" stop-color="#5b4a9f" stop-opacity="0.00"/><stop offset="0.750" stop-color="#5b4a9f" stop-opacity="0.00"/><stop offset="0.775" stop-color="#5b4a9f" stop-opacity="0.00"/><stop offset="0.800" stop-color="#5b4a9f" stop-opacity="0.00"/><stop offset="0.825" stop-color="#5b4a9f" stop-opacity="0.00"/><stop offset="0.850" stop-color="#5b4a9f" stop-opacity="0.00"/><stop offset="0.875" stop-color="#5b4a9f" stop-opacity="0.00"/><stop offset="0.900" stop-color="#5b4a9f" stop-opacity="0.00"/><stop offset="0.925" stop-color="#5b4a9f" stop-opacity="0.00"/><stop offset="0.950" stop-color="#5b4a9f" stop-opacity="0.00"/><stop offset="0.975" stop-color="#5b4a9f" stop-opacity="0.00"/><stop offset="1.000" stop-color="#5b4a9f" stop-opacity="0.00"/></linearGradient><linearGradient id="g2_3" gradientUnits="userSpaceOnUse" x1="34.80" y1="517.10" x2="246.00" y2="305.80"><stop offset="0.000" stop-color="#ec9862" stop-opacity="1.00"/><stop offset="0.025" stop-color="#62b8af" stop-opacity="1.00"/><stop offset="0.050" stop-color="#2fadc3" stop-opacity="1.00"/><stop offset="0.075" stop-color="#249bc8" stop-opacity="1.00"/><stop offset="0.100" stop-color="#3384bf" stop-opacity="0.94"/><stop offset="0.125" stop-color="#3c69b0" stop-opacity="0.00"/><stop offset="0.150" stop-color="#4452a4" stop-opacity="0.00"/><stop offset="0.175" stop-color="#4f49a0" stop-opacity="0.00"/><stop offset="0.200" stop-color="#5a4a9f" stop-opacity="0.00"/><stop offset="0.225" stop-color="#5b4a9f" stop-opacity="0.00"/><stop offset="0.250" stop-color="#5b4a9f" stop-opacity="0.00"/><stop offset="0.275" stop-color="#5b4a9f" stop-opacity="0.00"/><stop offset="0.300" stop-color="#5b4a9f" stop-opacity="0.00"/><stop offset="0.325" stop-color="#5b4a9f" stop-opacity="0.00"/><stop offset="0.350" stop-color="#5b4a9f" stop-opacity="0.00"/><stop offset="0.375" stop-color="#5b4a9f" stop-opacity="0.00"/><stop offset="0.400" stop-color="#5b4a9f" stop-opacity="0.00"/><stop offset="0.425" stop-color="#5b4a9f" stop-opacity="0.00"/><stop offset="0.450" stop-color="#5b4a9f" stop-opacity="0.00"/><stop offset="0.475" stop-color="#5b4a9f" stop-opacity="0.00"/><stop offset="0.500" stop-color="#5b4a9f" stop-opacity="0.00"/><stop offset="0.525" stop-color="#5b4a9f" stop-opacity="0.00"/><stop offset="0.550" stop-color="#5b4a9f" stop-opacity="0.00"/><stop offset="0.575" stop-color="#5b4a9f" stop-opacity="0.00"/><stop offset="0.600" stop-color="#5b4a9f" stop-opacity="0.00"/><stop offset="0.625" stop-color="#5b4a9f" stop-opacity="0.00"/><stop offset="0.650" stop-color="#5b4a9f" stop-opacity="0.00"/><stop offset="0.675" stop-color="#5b4a9f" stop-opacity="0.00"/><stop offset="0.700" stop-color="#5b4a9f" stop-opacity="0.00"/><stop offset="0.725" stop-color="#5b4a9f" stop-opacity="0.00"/><stop offset="0.750" stop-color="#5b4a9f" stop-opacity="0.00"/><stop offset="0.775" stop-color="#5b4a9f" stop-opacity="0.00"/><stop offset="0.800" stop-color="#5b4a9f" stop-opacity="0.00"/><stop offset="0.825" stop-color="#5b4a9f" stop-opacity="0.00"/><stop offset="0.850" stop-color="#5b4a9f" stop-opacity="0.00"/><stop offset="0.875" stop-color="#5b4a9f" stop-opacity="0.00"/><stop offset="0.900" stop-color="#5b4a9f" stop-opacity="0.00"/><stop offset="0.925" stop-color="#5b4a9f" stop-opacity="0.00"/><stop offset="0.950" stop-color="#5b4a9f" stop-opacity="0.00"/><stop offset="0.975" stop-color="#5b4a9f" stop-opacity="0.00"/><stop offset="1.000" stop-color="#5b4a9f" stop-opacity="0.00"/></linearGradient><linearGradient id="g2_4" gradientUnits="userSpaceOnUse" x1="34.80" y1="517.10" x2="246.00" y2="305.80"><stop offset="0.000" stop-color="#d6b376" stop-opacity="1.00"/><stop offset="0.025" stop-color="#38b1bf" stop-opacity="1.00"/><stop offset="0.050" stop-color="#239cc8" stop-opacity="1.00"/><stop offset="0.075" stop-color="#3284bf" stop-opacity="0.97"/><stop offset="0.100" stop-color="#3b6bb2" stop-opacity="0.00"/><stop offset="0.125" stop-color="#4354a5" stop-opacity="0.00"/><stop offset="0.150" stop-color="#4f49a0" stop-opacity="0.00"/><stop offset="0.175" stop-color="#5a4a9f" stop-opacity="0.00"/><stop offset="0.200" stop-color="#5b4a9f" stop-opacity="0.00"/><stop offset="0.225" stop-color="#5b4a9f" stop-opacity="0.00"/><stop offset="0.250" stop-color="#5b4a9f" stop-opacity="0.00"/><stop offset="0.275" stop-color="#5b4a9f" stop-opacity="0.00"/><stop offset="0.300" stop-color="#5b4a9f" stop-opacity="0.00"/><stop offset="0.325" stop-color="#5b4a9f" stop-opacity="0.00"/><stop offset="0.350" stop-color="#5b4a9f" stop-opacity="0.00"/><stop offset="0.375" stop-color="#5b4a9f" stop-opacity="0.00"/><stop offset="0.400" stop-color="#5b4a9f" stop-opacity="0.00"/><stop offset="0.425" stop-color="#5b4a9f" stop-opacity="0.00"/><stop offset="0.450" stop-color="#5b4a9f" stop-opacity="0.00"/><stop offset="0.475" stop-color="#5b4a9f" stop-opacity="0.00"/><stop offset="0.500" stop-color="#5b4a9f" stop-opacity="0.00"/><stop offset="0.525" stop-color="#5b4a9f" stop-opacity="0.00"/><stop offset="0.550" stop-color="#5b4a9f" stop-opacity="0.00"/><stop offset="0.575" stop-color="#5b4a9f" stop-opacity="0.00"/><stop offset="0.600" stop-color="#5b4a9f" stop-opacity="0.00"/><stop offset="0.625" stop-color="#5b4a9f" stop-opacity="0.00"/><stop offset="0.650" stop-color="#5b4a9f" stop-opacity="0.00"/><stop offset="0.675" stop-color="#5b4a9f" stop-opacity="0.00"/><stop offset="0.700" stop-color="#5b4a9f" stop-opacity="0.00"/><stop offset="0.725" stop-color="#5b4a9f" stop-opacity="0.00"/><stop offset="0.750" stop-color="#5b4a9f" stop-opacity="0.00"/><stop offset="0.775" stop-color="#5b4a9f" stop-opacity="0.00"/><stop offset="0.800" stop-color="#5b4a9f" stop-opacity="0.00"/><stop offset="0.825" stop-color="#5b4a9f" stop-opacity="0.00"/><stop offset="0.850" stop-color="#5b4a9f" stop-opacity="0.00"/><stop offset="0.875" stop-color="#5b4a9f" stop-opacity="0.00"/><stop offset="0.900" stop-color="#5b4a9f" stop-opacity="0.00"/><stop offset="0.925" stop-color="#5b4a9f" stop-opacity="0.00"/><stop offset="0.950" stop-color="#5b4a9f" stop-opacity="0.00"/><stop offset="0.975" stop-color="#5b4a9f" stop-opacity="0.00"/><stop offset="1.000" stop-color="#5b4a9f" stop-opacity="0.00"/></linearGradient><clipPath id="cp2"><rect x="34.80" y="305.80" width="211.20" height="211.30"/></clipPath></defs><g clip-path="url(#cp2)" fill="none"><path d="M34.80 517.10L246.00 305.80" stroke="url(#g2_0)" stroke-width="0.75"/><path d="M34.31 516.61L245.51 305.31" stroke="url(#g2_1)" stroke-width="0.75"/><path d="M33.81 516.11L245.01 304.81" stroke="url(#g2_2)" stroke-width="0.75"/><path d="M33.32 515.62L244.52 304.32" stroke="url(#g2_3)" stroke-width="0.75"/><path d="M32.82 515.12L244.02 303.82" stroke="url(#g2_4)" stroke-width="0.75"/></g>
<path d="M34.80 517.10L246.00 305.80" stroke="#1a1a1a" stroke-opacity="0.85" stroke-width="1.1" fill="none"/>
<path d="M87.60 517.10v-3.5M87.60 305.80v3.5M34.80 464.28h3.5M246.00 464.28h-3.5M140.40 517.10v-3.5M140.40 305.80v3.5M34.80 411.45h3.5M246.00 411.45h-3.5M193.20 517.10v-3.5M193.20 305.80v3.5M34.80 358.62h3.5M246.00 358.62h-3.5" stroke="#505050" stroke-width="0.8" fill="none"/>
<rect x="34.80" y="305.80" width="211.20" height="211.30" fill="none" stroke="#505050" stroke-width="1.1"/>
<text x="34.80" y="525.30" font-family="Liberation Sans" font-size="7.2" fill="#111" stroke="#111" stroke-width="0.2" text-anchor="middle">0</text>
<text x="31.80" y="519.00" font-family="Liberation Sans" font-size="7.2" fill="#111" stroke="#111" stroke-width="0.2" text-anchor="end">0</text>
<text x="87.60" y="525.30" font-family="Liberation Sans" font-size="7.2" fill="#111" stroke="#111" stroke-width="0.2" text-anchor="middle">5</text>
<text x="31.80" y="466.18" font-family="Liberation Sans" font-size="7.2" fill="#111" stroke="#111" stroke-width="0.2" text-anchor="end">5</text>
<text x="140.40" y="525.30" font-family="Liberation Sans" font-size="7.2" fill="#111" stroke="#111" stroke-width="0.2" text-anchor="middle">10</text>
<text x="31.80" y="413.35" font-family="Liberation Sans" font-size="7.2" fill="#111" stroke="#111" stroke-width="0.2" text-anchor="end">10</text>
<text x="193.20" y="525.30" font-family="Liberation Sans" font-size="7.2" fill="#111" stroke="#111" stroke-width="0.2" text-anchor="middle">15</text>
<text x="31.80" y="360.52" font-family="Liberation Sans" font-size="7.2" fill="#111" stroke="#111" stroke-width="0.2" text-anchor="end">15</text>
<text x="246.00" y="525.30" font-family="Liberation Sans" font-size="7.2" fill="#111" stroke="#111" stroke-width="0.2" text-anchor="middle">20</text>
<text x="31.80" y="307.70" font-family="Liberation Sans" font-size="7.2" fill="#111" stroke="#111" stroke-width="0.2" text-anchor="end">20</text>
<rect x="261.20" y="305.80" width="10.40" height="211.20" fill="url(#cm)" stroke="#505050" stroke-width="0.9"/>
<text x="274.20" y="336.10" font-family="Liberation Serif" font-size="8.6" fill="#111" stroke="#111" stroke-width="0.15">10<tspan font-size="5.8" dx="0.4" dy="-2.7">4</tspan></text>
<text x="274.20" y="382.30" font-family="Liberation Serif" font-size="8.6" fill="#111" stroke="#111" stroke-width="0.15">10<tspan font-size="5.8" dx="0.4" dy="-2.7">3</tspan></text>
<text x="274.20" y="427.60" font-family="Liberation Serif" font-size="8.6" fill="#111" stroke="#111" stroke-width="0.15">10<tspan font-size="5.8" dx="0.4" dy="-2.7">2</tspan></text>
<text x="274.20" y="473.50" font-family="Liberation Serif" font-size="8.6" fill="#111" stroke="#111" stroke-width="0.15">10<tspan font-size="5.8" dx="0.4" dy="-2.7">1</tspan></text>
<text x="274.20" y="519.00" font-family="Liberation Serif" font-size="8.6" fill="#111" stroke="#111" stroke-width="0.15">10<tspan font-size="5.8" dx="0.4" dy="-2.7">0</tspan></text>
<path d="M271.60 333.10h-2.5M271.60 379.30h-2.5M271.60 424.60h-2.5M271.60 470.50h-2.5M271.60 516.00h-2.5" stroke="#333" stroke-width="0.8" fill="none"/>
<text x="178.10" y="512.10" font-family="Liberation Serif" font-size="21" fill="#111">N<tspan font-size="13.7" dy="3.5">c</tspan><tspan dy="-3.5">=5M</tspan></text>
<g transform="translate(129.90,530.40)"><path d="M9.0 5.0C8.5 7.0 6.5 9.4 4.5 9.3C2.0 9.2 0.6 7.4 0.9 5.3C1.3 2.8 4.5 0.6 9.0 0.3C12.0 0.1 14.6 0.6 14.4 2.3C14.2 3.4 12.8 3.9 11.2 3.9M10.2 1.6L10.6 4.1M8.6 4.6L13.5 9.5M4.8 6.6C5.3 5.0 6.8 4.0 8.6 4.6" stroke="#1a1a1a" stroke-width="1.0" fill="none" stroke-linecap="round"/><text x="16.4" y="2.4" font-family="Liberation Serif" font-size="9" fill="#222">2</text><text x="15.0" y="13.4" font-family="Liberation Serif" font-style="italic" font-size="10.5" fill="#222">b</text></g>
<g transform="translate(7.70,421.55) rotate(-90)"><path d="M9.0 5.0C8.5 7.0 6.5 9.4 4.5 9.3C2.0 9.2 0.6 7.4 0.9 5.3C1.3 2.8 4.5 0.6 9.0 0.3C12.0 0.1 14.6 0.6 14.4 2.3C14.2 3.4 12.8 3.9 11.2 3.9M10.2 1.6L10.6 4.1M8.6 4.6L13.5 9.5M4.8 6.6C5.3 5.0 6.8 4.0 8.6 4.6" stroke="#1a1a1a" stroke-width="1.0" fill="none" stroke-linecap="round"/><text x="16.4" y="2.0" font-family="Liberation Serif" font-size="9" fill="#222">2</text><text x="15.0" y="13.4" font-family="Liberation Serif" font-style="italic" font-size="10.5" fill="#222">d</text></g>
<path d="M375.50 307.40V518.90M348.70 492.50H560.10M401.50 307.40V518.90M348.70 466.50H560.10M427.50 307.40V518.90M348.70 439.50H560.10M454.50 307.40V518.90M348.70 413.50H560.10M480.50 307.40V518.90M348.70 386.50H560.10M507.50 307.40V518.90M348.70 360.50H560.10M533.50 307.40V518.90M348.70 333.50H560.10" stroke="#bcbcbc" stroke-width="1" stroke-dasharray="1 1.25" fill="none"/>
<defs><clipPath id="cq3"><polygon points="348.70,307.40 348.70,519.30 560.50,307.40"/></clipPath></defs><g clip-path="url(#cq3)"><g transform="translate(348.70,518.90) scale(1.5)" fill="none" stroke-width="1" shape-rendering="crispEdges"><path d="M0 -0.5h1" stroke="#62bab2"/><path d="M1 -0.5h1" stroke="#5eb6b2"/><path d="M0.5 -1.5h2M1.5 -5.5h1" stroke="#52b6b6"/><path d="M0 -2.5h1" stroke="#4ab6ba"/><path d="M1 -2.5h1" stroke="#46b6ba"/><path d="M2 -2.5h1" stroke="#56b6b6"/><path d="M3 -2.5h1M1.5 -3.5h1" stroke="#36b2c2"/><path d="M0.5 -3.5h1" stroke="#2eaec2"/><path d="M2.5 -3.5h1" stroke="#2aaac6"/><path d="M3.5 -3.5h1" stroke="#3eb2be"/><path d="M0 -4.5h1M4 -4.5h1M0.5 -5.5h1" stroke="#32aec2"/><path d="M1 -4.5h1M2.5 -5.5h1" stroke="#22aaca"/><path d="M2 -4.5h1" stroke="#42b6be"/><path d="M3 -4.5h1" stroke="#26aac6"/><path d="M5 -4.5h1" stroke="#2aaec6"/><path d="M3.5 -5.5h1" stroke="#36aec2"/><path d="M4.5 -5.5h1M3.5 -7.5h2" stroke="#22a6ca"/><path d="M5.5 -5.5h1M5 -6.5h1M2.5 -7.5h1M6.5 -7.5h1M4 -8.5h2M14.5 -17.5h1" stroke="#2696c6"/><path d="M0 -6.5h1M7 -6.5h1M2.5 -9.5h1M8 -10.5h1M5 -14.5h1" stroke="#2a92c6"/><path d="M1 -6.5h1M9 -8.5h1M1.5 -9.5h1M3.5 -9.5h2M2 -10.5h1M11 -10.5h1M4 -12.5h1M8 -14.5h1M10.5 -15.5h1M18 -20.5h1M23 -24.5h1" stroke="#2e8ac2"/><path d="M2 -6.5h1M7.5 -7.5h1M6 -10.5h1" stroke="#269eca"/><path d="M3 -6.5h1M5.5 -9.5h1" stroke="#269aca"/><path d="M4 -6.5h1" stroke="#22a2ca"/><path d="M6 -6.5h1M3 -8.5h1" stroke="#229eca"/><path d="M0.5 -7.5h1" stroke="#2696ca"/><path d="M1.5 -7.5h1M5.5 -7.5h1M2 -8.5h1M7.5 -11.5h1M9 -12.5h1" stroke="#2e8ec2"/><path d="M0 -8.5h1M7 -8.5h1M8.5 -9.5h1M10 -10.5h1M2.5 -11.5h1M6 -12.5h2M13 -12.5h1M6.5 -13.5h1M9 -14.5h1M11 -14.5h1M11.5 -15.5h1M15 -18.5h1M28.5 -29.5h1" stroke="#367ebe"/><path d="M1 -8.5h1M6 -8.5h1M8 -8.5h1M3 -10.5h3M1.5 -11.5h1M8 -12.5h1M4.5 -13.5h1M3 -16.5h1M19.5 -21.5h1M28 -28.5h1M29.5 -29.5h1" stroke="#3286be"/><path d="M0.5 -9.5h1M7 -10.5h1M9 -10.5h1M6.5 -11.5h1M8.5 -11.5h1M1 -12.5h1M2.5 -13.5h1M8.5 -13.5h1M4.5 -15.5h1M17 -18.5h2M21 -22.5h1M19.5 -23.5h1M25 -26.5h1M26.5 -27.5h1M30 -30.5h1M31 -32.5h1M35 -34.5h1M38 -38.5h1" stroke="#3e6ab2"/><path d="M6.5 -9.5h1M0 -10.5h1M2 -12.5h1M1 -14.5h1M6 -14.5h2M7.5 -15.5h2M2 -16.5h1M5 -16.5h1M7 -16.5h1M11 -16.5h2M14 -16.5h1M5.5 -17.5h1M10.5 -17.5h2M16.5 -17.5h1M3 -18.5h1M5 -18.5h1M6.5 -19.5h1M18.5 -19.5h1M2 -20.5h1M4 -20.5h1M10 -20.5h1M14 -20.5h1M19 -20.5h1M8.5 -21.5h1M12.5 -21.5h1M21.5 -21.5h1M7 -22.5h1M6.5 -23.5h1M21.5 -23.5h1M12.5 -25.5h1M15.5 -25.5h1M20 -26.5h1M22 -26.5h1M24 -26.5h1M25.5 -27.5h1M23 -28.5h1M19.5 -29.5h1M9 -30.5h1M27 -30.5h1M33 -32.5h1M32.5 -33.5h1M5.5 -35.5h1M37.5 -37.5h1M39.5 -41.5h2M41.5 -43.5h1M45 -46.5h1M49 -48.5h1M54 -54.5h2" stroke="#4256a6"/><path d="M7.5 -9.5h1M1 -10.5h1M3.5 -11.5h1M10.5 -11.5h1M2 -14.5h1M4 -14.5h1M15 -14.5h1M3.5 -15.5h1M9 -16.5h1M16 -16.5h1M7.5 -17.5h1M7 -18.5h1M10 -18.5h1M2.5 -19.5h1M8.5 -19.5h1M15.5 -19.5h1M7.5 -21.5h1M16.5 -21.5h1M18.5 -21.5h1M16 -22.5h1M20 -22.5h1M5 -24.5h1M20 -24.5h1M22 -24.5h1M8.5 -25.5h1M22.5 -25.5h2M23.5 -27.5h1M27 -28.5h1M29 -28.5h1M8.5 -29.5h1M26.5 -29.5h1M28.5 -31.5h1M33 -34.5h1M35.5 -35.5h1M8.5 -37.5h1M38.5 -39.5h2M45.5 -45.5h1" stroke="#3e62ae"/><path d="M9.5 -9.5h1M4.5 -11.5h1M11.5 -11.5h1M5 -12.5h1M11 -12.5h1M3.5 -13.5h1M5.5 -13.5h1M11.5 -13.5h1M10 -14.5h1M6.5 -15.5h1M3.5 -17.5h2M12.5 -17.5h1M14 -18.5h1M20 -20.5h1M17.5 -21.5h1M25 -28.5h2M31.5 -31.5h1M34 -34.5h1" stroke="#367aba"/><path d="M0.5 -11.5h1M5.5 -11.5h1M3 -12.5h1M12 -12.5h1M1.5 -13.5h1M7.5 -13.5h1M9.5 -13.5h1M12.5 -13.5h1M12 -14.5h1M9.5 -15.5h1M12.5 -15.5h1M13 -16.5h1M15.5 -17.5h1M16 -18.5h1M5.5 -19.5h1M16.5 -19.5h1M20.5 -23.5h1M24.5 -25.5h1M27.5 -27.5h1" stroke="#3a72b6"/><path d="M9.5 -11.5h1M0 -12.5h1M0.5 -13.5h1M10.5 -13.5h1M13.5 -13.5h1M3 -14.5h1M13 -14.5h1M0.5 -15.5h3M5.5 -15.5h1M1 -16.5h1M6 -16.5h1M10 -16.5h1M15 -16.5h1M1.5 -17.5h2M6.5 -17.5h1M9.5 -17.5h1M13.5 -17.5h1M17.5 -17.5h1M13 -18.5h1M19 -18.5h1M3.5 -19.5h1M14.5 -19.5h1M19.5 -19.5h1M0 -20.5h1M9 -20.5h1M11 -20.5h2M15 -20.5h3M2.5 -21.5h1M20.5 -21.5h1M2 -22.5h4M10 -22.5h1M13 -22.5h1M15 -22.5h1M17 -22.5h1M23 -22.5h1M1.5 -23.5h1M3.5 -23.5h1M9.5 -23.5h1M17.5 -23.5h2M22.5 -23.5h1M6 -24.5h1M13 -24.5h1M16 -24.5h2M21 -24.5h1M24 -24.5h1M2.5 -25.5h1M6.5 -25.5h2M5 -26.5h1M7 -26.5h1M12 -26.5h1M4.5 -27.5h1M7.5 -27.5h1M4 -28.5h1M6 -28.5h2M9 -28.5h1M14 -28.5h2M18 -28.5h1M24 -28.5h1M0.5 -29.5h1M12.5 -29.5h1M14.5 -29.5h2M24.5 -29.5h2M24 -30.5h1M29 -30.5h1M31 -30.5h1M25.5 -31.5h1M29.5 -31.5h1M5 -32.5h1M15 -32.5h1M18 -32.5h1M26 -32.5h1M29 -32.5h2M6.5 -33.5h1M11.5 -33.5h1M18.5 -33.5h1M30.5 -33.5h2M33.5 -33.5h1M3 -34.5h1M29 -34.5h1M1.5 -35.5h1M20.5 -35.5h1M32.5 -35.5h2M17 -36.5h1M34 -36.5h1M36 -36.5h1M13 -38.5h1M33 -38.5h1M37 -38.5h1M36.5 -39.5h2M3 -40.5h1M26 -40.5h1M38 -40.5h1M34.5 -41.5h1M5 -42.5h1M19 -42.5h1M22 -42.5h1M41 -42.5h1M39.5 -43.5h1M42.5 -43.5h1M14 -46.5h1M4.5 -47.5h1M45.5 -47.5h1M48.5 -49.5h1M2 -52.5h1M51 -52.5h1M55.5 -55.5h1" stroke="#4a4ea2"/><path d="M10 -12.5h1M14 -14.5h1M14.5 -15.5h2M0 -16.5h1M4 -16.5h1M8 -16.5h1M0.5 -17.5h1M0 -18.5h3M4 -18.5h1M6 -18.5h1M9 -18.5h1M11 -18.5h2M7.5 -19.5h1M11.5 -19.5h3M17.5 -19.5h1M1 -20.5h1M6 -20.5h2M13 -20.5h1M1.5 -21.5h1M3.5 -21.5h1M9.5 -21.5h2M13.5 -21.5h1M9 -22.5h1M11 -22.5h1M14 -22.5h1M19 -22.5h1M0.5 -23.5h1M2.5 -23.5h1M4.5 -23.5h2M8.5 -23.5h1M11.5 -23.5h2M16.5 -23.5h1M0 -24.5h1M4 -24.5h1M7 -24.5h2M11 -24.5h1M15 -24.5h1M19 -24.5h1M25 -24.5h1M4.5 -25.5h1M9.5 -25.5h1M11.5 -25.5h1M13.5 -25.5h2M16.5 -25.5h1M18.5 -25.5h4M2 -26.5h2M9 -26.5h1M15 -26.5h1M18 -26.5h1M21 -26.5h1M27 -26.5h1M0.5 -27.5h3M6.5 -27.5h1M9.5 -27.5h1M14.5 -27.5h4M22.5 -27.5h1M2 -28.5h2M13 -28.5h1M1.5 -29.5h1M3.5 -29.5h2M13.5 -29.5h1M18.5 -29.5h1M21.5 -29.5h1M23.5 -29.5h1M27.5 -29.5h1M3 -30.5h1M6 -30.5h3M11 -30.5h1M13 -30.5h1M16 -30.5h1M21 -30.5h1M28 -30.5h1M1.5 -31.5h2M4.5 -31.5h1M7.5 -31.5h2M11.5 -31.5h1M16.5 -31.5h3M22.5 -31.5h1M24.5 -31.5h1M30.5 -31.5h1M2 -32.5h1M6 -32.5h1M16 -32.5h1M20 -32.5h2M25 -32.5h1M27 -32.5h1M32 -32.5h1M0.5 -33.5h2M7.5 -33.5h1M13.5 -33.5h2M19.5 -33.5h1M22.5 -33.5h1M27.5 -33.5h1M1 -34.5h1M5 -34.5h3M11 -34.5h1M14 -34.5h1M19 -34.5h3M32 -34.5h1M6.5 -35.5h1M12.5 -35.5h2M17.5 -35.5h1M19.5 -35.5h1M23.5 -35.5h2M29.5 -35.5h3M14 -36.5h1M20 -36.5h1M23 -36.5h1M25 -36.5h1M32 -36.5h2M35 -36.5h1M37 -36.5h1M1.5 -37.5h2M10.5 -37.5h1M12.5 -37.5h1M32.5 -37.5h1M36.5 -37.5h1M3 -38.5h1M6 -38.5h3M15 -38.5h1M17 -38.5h1M34 -38.5h1M36 -38.5h1M39 -38.5h1M7.5 -39.5h1M11.5 -39.5h2M30.5 -39.5h1M2 -40.5h1M9 -40.5h1M12 -40.5h1M15 -40.5h3M28 -40.5h1M30 -40.5h1M37 -40.5h1M41 -40.5h1M5.5 -41.5h1M27.5 -41.5h2M36.5 -41.5h1M38.5 -41.5h1M41.5 -41.5h1M2 -42.5h2M10 -42.5h2M14 -42.5h1M20 -42.5h2M26 -42.5h1M40 -42.5h1M42 -42.5h2M3.5 -43.5h2M11.5 -43.5h1M13.5 -43.5h1M15.5 -43.5h1M20.5 -43.5h1M30.5 -43.5h1M40.5 -43.5h1M43.5 -43.5h1M8 -44.5h1M19 -44.5h1M28 -44.5h1M30 -44.5h1M34 -44.5h1M41 -44.5h1M44 -44.5h1M13.5 -45.5h1M33.5 -45.5h1M39.5 -45.5h1M42.5 -45.5h3M1 -46.5h1M4 -46.5h1M10 -46.5h2M20 -46.5h1M47 -46.5h1M11.5 -47.5h1M40.5 -47.5h1M44.5 -47.5h1M46.5 -47.5h2M4 -48.5h1M10 -48.5h2M46 -48.5h1M48 -48.5h1M2.5 -49.5h1M4.5 -49.5h1M11.5 -49.5h1M13.5 -49.5h2M21.5 -49.5h1M46.5 -49.5h2M49.5 -49.5h1M2 -50.5h1M5 -50.5h1M14 -50.5h1M19 -50.5h1M51 -50.5h1M6.5 -51.5h1M31.5 -51.5h1M51.5 -51.5h1M6 -52.5h2M53 -52.5h1M4.5 -53.5h1M10.5 -53.5h1M21.5 -53.5h1M45.5 -53.5h1M50.5 -53.5h3M12 -54.5h1M25 -54.5h1M27 -54.5h1M30 -54.5h1M46 -54.5h2M49 -54.5h2M52 -54.5h2M49.5 -55.5h1M51.5 -55.5h2M54.5 -55.5h1M26 -56.5h1M9.5 -57.5h1M28.5 -57.5h1M48.5 -57.5h1M56 -58.5h2M59 -58.5h1M58.5 -59.5h2M32 -60.5h1M51 -60.5h1M56 -60.5h1M58 -60.5h1M16.5 -61.5h1M58.5 -61.5h1M27 -62.5h2M2.5 -63.5h2M61.5 -63.5h1M63.5 -63.5h1M1 -64.5h1M24.5 -65.5h1M27.5 -65.5h1M59.5 -65.5h1M64.5 -65.5h1M29 -66.5h1M37 -66.5h1M21.5 -67.5h1M23.5 -67.5h1M63.5 -67.5h1M10 -68.5h1M67 -68.5h2M3.5 -69.5h1M69.5 -69.5h1M40 -70.5h1M56 -70.5h1M69 -70.5h1M52.5 -71.5h1M69.5 -71.5h1M70 -72.5h1M73 -72.5h1M73.5 -73.5h1M12 -74.5h1M19 -74.5h1M75 -74.5h1M1 -76.5h1M6 -76.5h1M44 -76.5h1M71.5 -77.5h1M76 -78.5h1M77 -80.5h2M73.5 -81.5h1M81.5 -81.5h1M82 -82.5h1M82.5 -83.5h1M84 -84.5h1M3 -86.5h1M72 -90.5h1M88.5 -91.5h1M82.5 -93.5h1M94.5 -95.5h1M56.5 -97.5h1M93.5 -97.5h1M1 -100.5h1M111 -112.5h1M117 -126.5h1M122 -136.5h1" stroke="#5a4a9e"/></g></g>
<defs><linearGradient id="g3_0" gradientUnits="userSpaceOnUse" x1="348.70" y1="518.90" x2="560.10" y2="307.40"><stop offset="0.000" stop-color="#e02e32" stop-opacity="1.00"/><stop offset="0.025" stop-color="#90c695" stop-opacity="1.00"/><stop offset="0.050" stop-color="#6ebba9" stop-opacity="1.00"/><stop offset="0.075" stop-color="#50b6b6" stop-opacity="1.00"/><stop offset="0.100" stop-color="#38b1bf" stop-opacity="1.00"/><stop offset="0.125" stop-color="#22a7c8" stop-opacity="1.00"/><stop offset="0.150" stop-color="#249bc8" stop-opacity="1.00"/><stop offset="0.175" stop-color="#2e8bc2" stop-opacity="1.00"/><stop offset="0.200" stop-color="#3779b9" stop-opacity="0.74"/><stop offset="0.225" stop-color="#3c67af" stop-opacity="0.00"/><stop offset="0.250" stop-color="#4258a7" stop-opacity="0.00"/><stop offset="0.275" stop-color="#474fa3" stop-opacity="0.00"/><stop offset="0.300" stop-color="#4d4aa1" stop-opacity="0.00"/><stop offset="0.325" stop-color="#5449a0" stop-opacity="0.00"/><stop offset="0.350" stop-color="#5b4a9f" stop-opacity="0.00"/><stop offset="0.375" stop-color="#5b4a9f" stop-opacity="0.00"/><stop offset="0.400" stop-color="#5b4a9f" stop-opacity="0.00"/><stop offset="0.425" stop-color="#5b4a9f" stop-opacity="0.00"/><stop offset="0.450" stop-color="#5b4a9f" stop-opacity="0.00"/><stop offset="0.475" stop-color="#5b4a9f" stop-opacity="0.00"/><stop offset="0.500" stop-color="#5b4a9f" stop-opacity="0.00"/><stop offset="0.525" stop-color="#5b4a9f" stop-opacity="0.00"/><stop offset="0.550" stop-color="#5b4a9f" stop-opacity="0.00"/><stop offset="0.575" stop-color="#5b4a9f" stop-opacity="0.00"/><stop offset="0.600" stop-color="#5b4a9f" stop-opacity="0.00"/><stop offset="0.625" stop-color="#5b4a9f" stop-opacity="0.00"/><stop offset="0.650" stop-color="#5b4a9f" stop-opacity="0.00"/><stop offset="0.675" stop-color="#5b4a9f" stop-opacity="0.00"/><stop offset="0.700" stop-color="#5b4a9f" stop-opacity="0.00"/><stop offset="0.725" stop-color="#5b4a9f" stop-opacity="0.00"/><stop offset="0.750" stop-color="#5b4a9f" stop-opacity="0.00"/><stop offset="0.775" stop-color="#5b4a9f" stop-opacity="0.00"/><stop offset="0.800" stop-color="#5b4a9f" stop-opacity="0.00"/><stop offset="0.825" stop-color="#5b4a9f" stop-opacity="0.00"/><stop offset="0.850" stop-color="#5b4a9f" stop-opacity="0.00"/><stop offset="0.875" stop-color="#5b4a9f" stop-opacity="0.00"/><stop offset="0.900" stop-color="#5b4a9f" stop-opacity="0.00"/><stop offset="0.925" stop-color="#5b4a9f" stop-opacity="0.00"/><stop offset="0.950" stop-color="#5b4a9f" stop-opacity="0.00"/><stop offset="0.975" stop-color="#5b4a9f" stop-opacity="0.00"/><stop offset="1.000" stop-color="#5b4a9f" stop-opacity="0.00"/></linearGradient><linearGradient id="g3_1" gradientUnits="userSpaceOnUse" x1="348.70" y1="518.90" x2="560.10" y2="307.40"><stop offset="0.000" stop-color="#e1453c" stop-opacity="1.00"/><stop offset="0.025" stop-color="#84c29d" stop-opacity="1.00"/><stop offset="0.050" stop-color="#5cb8b1" stop-opacity="1.00"/><stop offset="0.075" stop-color="#37b0c0" stop-opacity="1.00"/><stop offset="0.100" stop-color="#22a7c8" stop-opacity="1.00"/><stop offset="0.125" stop-color="#249bc8" stop-opacity="1.00"/><stop offset="0.150" stop-color="#2e8ac2" stop-opacity="1.00"/><stop offset="0.175" stop-color="#3779b9" stop-opacity="0.75"/><stop offset="0.200" stop-color="#3c68b0" stop-opacity="0.00"/><stop offset="0.225" stop-color="#4259a8" stop-opacity="0.00"/><stop offset="0.250" stop-color="#484ea3" stop-opacity="0.00"/><stop offset="0.275" stop-color="#4f49a0" stop-opacity="0.00"/><stop offset="0.300" stop-color="#5549a0" stop-opacity="0.00"/><stop offset="0.325" stop-color="#5b4a9f" stop-opacity="0.00"/><stop offset="0.350" stop-color="#5b4a9f" stop-opacity="0.00"/><stop offset="0.375" stop-color="#5b4a9f" stop-opacity="0.00"/><stop offset="0.400" stop-color="#5b4a9f" stop-opacity="0.00"/><stop offset="0.425" stop-color="#5b4a9f" stop-opacity="0.00"/><stop offset="0.450" stop-color="#5b4a9f" stop-opacity="0.00"/><stop offset="0.475" stop-color="#5b4a9f" stop-opacity="0.00"/><stop offset="0.500" stop-color="#5b4a9f" stop-opacity="0.00"/><stop offset="0.525" stop-color="#5b4a9f" stop-opacity="0.00"/><stop offset="0.550" stop-color="#5b4a9f" stop-opacity="0.00"/><stop offset="0.575" stop-color="#5b4a9f" stop-opacity="0.00"/><stop offset="0.600" stop-color="#5b4a9f" stop-opacity="0.00"/><stop offset="0.625" stop-color="#5b4a9f" stop-opacity="0.00"/><stop offset="0.650" stop-color="#5b4a9f" stop-opacity="0.00"/><stop offset="0.675" stop-color="#5b4a9f" stop-opacity="0.00"/><stop offset="0.700" stop-color="#5b4a9f" stop-opacity="0.00"/><stop offset="0.725" stop-color="#5b4a9f" stop-opacity="0.00"/><stop offset="0.750" stop-color="#5b4a9f" stop-opacity="0.00"/><stop offset="0.775" stop-color="#5b4a9f" stop-opacity="0.00"/><stop offset="0.800" stop-color="#5b4a9f" stop-opacity="0.00"/><stop offset="0.825" stop-color="#5b4a9f" stop-opacity="0.00"/><stop offset="0.850" stop-color="#5b4a9f" stop-opacity="0.00"/><stop offset="0.875" stop-color="#5b4a9f" stop-opacity="0.00"/><stop offset="0.900" stop-color="#5b4a9f" stop-opacity="0.00"/><stop offset="0.925" stop-color="#5b4a9f" stop-opacity="0.00"/><stop offset="0.950" stop-color="#5b4a9f" stop-opacity="0.00"/><stop offset="0.975" stop-color="#5b4a9f" stop-opacity="0.00"/><stop offset="1.000" stop-color="#5b4a9f" stop-opacity="0.00"/></linearGradient><linearGradient id="g3_2" gradientUnits="userSpaceOnUse" x1="348.70" y1="518.90" x2="560.10" y2="307.40"><stop offset="0.000" stop-color="#e6694a" stop-opacity="1.00"/><stop offset="0.025" stop-color="#74bda6" stop-opacity="1.00"/><stop offset="0.050" stop-color="#40b4bc" stop-opacity="1.00"/><stop offset="0.075" stop-color="#22a6c8" stop-opacity="1.00"/><stop offset="0.100" stop-color="#249ac8" stop-opacity="1.00"/><stop offset="0.125" stop-color="#2e8ac2" stop-opacity="1.00"/><stop offset="0.150" stop-color="#3779b9" stop-opacity="0.72"/><stop offset="0.175" stop-color="#3c68b0" stop-opacity="0.00"/><stop offset="0.200" stop-color="#4159a8" stop-opacity="0.00"/><stop offset="0.225" stop-color="#484fa3" stop-opacity="0.00"/><stop offset="0.250" stop-color="#5048a0" stop-opacity="0.00"/><stop offset="0.275" stop-color="#57499f" stop-opacity="0.00"/><stop offset="0.300" stop-color="#5b4a9f" stop-opacity="0.00"/><stop offset="0.325" stop-color="#5b4a9f" stop-opacity="0.00"/><stop offset="0.350" stop-color="#5b4a9f" stop-opacity="0.00"/><stop offset="0.375" stop-color="#5b4a9f" stop-opacity="0.00"/><stop offset="0.400" stop-color="#5b4a9f" stop-opacity="0.00"/><stop offset="0.425" stop-color="#5b4a9f" stop-opacity="0.00"/><stop offset="0.450" stop-color="#5b4a9f" stop-opacity="0.00"/><stop offset="0.475" stop-color="#5b4a9f" stop-opacity="0.00"/><stop offset="0.500" stop-color="#5b4a9f" stop-opacity="0.00"/><stop offset="0.525" stop-color="#5b4a9f" stop-opacity="0.00"/><stop offset="0.550" stop-color="#5b4a9f" stop-opacity="0.00"/><stop offset="0.575" stop-color="#5b4a9f" stop-opacity="0.00"/><stop offset="0.600" stop-color="#5b4a9f" stop-opacity="0.00"/><stop offset="0.625" stop-color="#5b4a9f" stop-opacity="0.00"/><stop offset="0.650" stop-color="#5b4a9f" stop-opacity="0.00"/><stop offset="0.675" stop-color="#5b4a9f" stop-opacity="0.00"/><stop offset="0.700" stop-color="#5b4a9f" stop-opacity="0.00"/><stop offset="0.725" stop-color="#5b4a9f" stop-opacity="0.00"/><stop offset="0.750" stop-color="#5b4a9f" stop-opacity="0.00"/><stop offset="0.775" stop-color="#5b4a9f" stop-opacity="0.00"/><stop offset="0.800" stop-color="#5b4a9f" stop-opacity="0.00"/><stop offset="0.825" stop-color="#5b4a9f" stop-opacity="0.00"/><stop offset="0.850" stop-color="#5b4a9f" stop-opacity="0.00"/><stop offset="0.875" stop-color="#5b4a9f" stop-opacity="0.00"/><stop offset="0.900" stop-color="#5b4a9f" stop-opacity="0.00"/><stop offset="0.925" stop-color="#5b4a9f" stop-opacity="0.00"/><stop offset="0.950" stop-color="#5b4a9f" stop-opacity="0.00"/><stop offset="0.975" stop-color="#5b4a9f" stop-opacity="0.00"/><stop offset="1.000" stop-color="#5b4a9f" stop-opacity="0.00"/></linearGradient><linearGradient id="g3_3" gradientUnits="userSpaceOnUse" x1="348.70" y1="518.90" x2="560.10" y2="307.40"><stop offset="0.000" stop-color="#ec925e" stop-opacity="1.00"/><stop offset="0.025" stop-color="#62b8af" stop-opacity="1.00"/><stop offset="0.050" stop-color="#26aac6" stop-opacity="1.00"/><stop offset="0.075" stop-color="#2498c8" stop-opacity="1.00"/><stop offset="0.100" stop-color="#3088c1" stop-opacity="1.00"/><stop offset="0.125" stop-color="#3777b8" stop-opacity="0.66"/><stop offset="0.150" stop-color="#3c67af" stop-opacity="0.00"/><stop offset="0.175" stop-color="#4259a8" stop-opacity="0.00"/><stop offset="0.200" stop-color="#484fa3" stop-opacity="0.00"/><stop offset="0.225" stop-color="#5048a0" stop-opacity="0.00"/><stop offset="0.250" stop-color="#594a9f" stop-opacity="0.00"/><stop offset="0.275" stop-color="#5b4a9f" stop-opacity="0.00"/><stop offset="0.300" stop-color="#5b4a9f" stop-opacity="0.00"/><stop offset="0.325" stop-color="#5b4a9f" stop-opacity="0.00"/><stop offset="0.350" stop-color="#5b4a9f" stop-opacity="0.00"/><stop offset="0.375" stop-color="#5b4a9f" stop-opacity="0.00"/><stop offset="0.400" stop-color="#5b4a9f" stop-opacity="0.00"/><stop offset="0.425" stop-color="#5b4a9f" stop-opacity="0.00"/><stop offset="0.450" stop-color="#5b4a9f" stop-opacity="0.00"/><stop offset="0.475" stop-color="#5b4a9f" stop-opacity="0.00"/><stop offset="0.500" stop-color="#5b4a9f" stop-opacity="0.00"/><stop offset="0.525" stop-color="#5b4a9f" stop-opacity="0.00"/><stop offset="0.550" stop-color="#5b4a9f" stop-opacity="0.00"/><stop offset="0.575" stop-color="#5b4a9f" stop-opacity="0.00"/><stop offset="0.600" stop-color="#5b4a9f" stop-opacity="0.00"/><stop offset="0.625" stop-color="#5b4a9f" stop-opacity="0.00"/><stop offset="0.650" stop-color="#5b4a9f" stop-opacity="0.00"/><stop offset="0.675" stop-color="#5b4a9f" stop-opacity="0.00"/><stop offset="0.700" stop-color="#5b4a9f" stop-opacity="0.00"/><stop offset="0.725" stop-color="#5b4a9f" stop-opacity="0.00"/><stop offset="0.750" stop-color="#5b4a9f" stop-opacity="0.00"/><stop offset="0.775" stop-color="#5b4a9f" stop-opacity="0.00"/><stop offset="0.800" stop-color="#5b4a9f" stop-opacity="0.00"/><stop offset="0.825" stop-color="#5b4a9f" stop-opacity="0.00"/><stop offset="0.850" stop-color="#5b4a9f" stop-opacity="0.00"/><stop offset="0.875" stop-color="#5b4a9f" stop-opacity="0.00"/><stop offset="0.900" stop-color="#5b4a9f" stop-opacity="0.00"/><stop offset="0.925" stop-color="#5b4a9f" stop-opacity="0.00"/><stop offset="0.950" stop-color="#5b4a9f" stop-opacity="0.00"/><stop offset="0.975" stop-color="#5b4a9f" stop-opacity="0.00"/><stop offset="1.000" stop-color="#5b4a9f" stop-opacity="0.00"/></linearGradient><linearGradient id="g3_4" gradientUnits="userSpaceOnUse" x1="348.70" y1="518.90" x2="560.10" y2="307.40"><stop offset="0.000" stop-color="#ddad71" stop-opacity="1.00"/><stop offset="0.025" stop-color="#42b4bb" stop-opacity="1.00"/><stop offset="0.050" stop-color="#249bc8" stop-opacity="1.00"/><stop offset="0.075" stop-color="#3384bf" stop-opacity="1.00"/><stop offset="0.100" stop-color="#3875b7" stop-opacity="0.53"/><stop offset="0.125" stop-color="#3d65ae" stop-opacity="0.00"/><stop offset="0.150" stop-color="#4257a7" stop-opacity="0.00"/><stop offset="0.175" stop-color="#494ea2" stop-opacity="0.00"/><stop offset="0.200" stop-color="#5048a0" stop-opacity="0.00"/><stop offset="0.225" stop-color="#594a9f" stop-opacity="0.00"/><stop offset="0.250" stop-color="#5b4a9f" stop-opacity="0.00"/><stop offset="0.275" stop-color="#5b4a9f" stop-opacity="0.00"/><stop offset="0.300" stop-color="#5b4a9f" stop-opacity="0.00"/><stop offset="0.325" stop-color="#5b4a9f" stop-opacity="0.00"/><stop offset="0.350" stop-color="#5b4a9f" stop-opacity="0.00"/><stop offset="0.375" stop-color="#5b4a9f" stop-opacity="0.00"/><stop offset="0.400" stop-color="#5b4a9f" stop-opacity="0.00"/><stop offset="0.425" stop-color="#5b4a9f" stop-opacity="0.00"/><stop offset="0.450" stop-color="#5b4a9f" stop-opacity="0.00"/><stop offset="0.475" stop-color="#5b4a9f" stop-opacity="0.00"/><stop offset="0.500" stop-color="#5b4a9f" stop-opacity="0.00"/><stop offset="0.525" stop-color="#5b4a9f" stop-opacity="0.00"/><stop offset="0.550" stop-color="#5b4a9f" stop-opacity="0.00"/><stop offset="0.575" stop-color="#5b4a9f" stop-opacity="0.00"/><stop offset="0.600" stop-color="#5b4a9f" stop-opacity="0.00"/><stop offset="0.625" stop-color="#5b4a9f" stop-opacity="0.00"/><stop offset="0.650" stop-color="#5b4a9f" stop-opacity="0.00"/><stop offset="0.675" stop-color="#5b4a9f" stop-opacity="0.00"/><stop offset="0.700" stop-color="#5b4a9f" stop-opacity="0.00"/><stop offset="0.725" stop-color="#5b4a9f" stop-opacity="0.00"/><stop offset="0.750" stop-color="#5b4a9f" stop-opacity="0.00"/><stop offset="0.775" stop-color="#5b4a9f" stop-opacity="0.00"/><stop offset="0.800" stop-color="#5b4a9f" stop-opacity="0.00"/><stop offset="0.825" stop-color="#5b4a9f" stop-opacity="0.00"/><stop offset="0.850" stop-color="#5b4a9f" stop-opacity="0.00"/><stop offset="0.875" stop-color="#5b4a9f" stop-opacity="0.00"/><stop offset="0.900" stop-color="#5b4a9f" stop-opacity="0.00"/><stop offset="0.925" stop-color="#5b4a9f" stop-opacity="0.00"/><stop offset="0.950" stop-color="#5b4a9f" stop-opacity="0.00"/><stop offset="0.975" stop-color="#5b4a9f" stop-opacity="0.00"/><stop offset="1.000" stop-color="#5b4a9f" stop-opacity="0.00"/></linearGradient><clipPath id="cp3"><rect x="348.70" y="307.40" width="211.40" height="211.50"/></clipPath></defs><g clip-path="url(#cp3)" fill="none"><path d="M348.70 518.90L560.10 307.40" stroke="url(#g3_0)" stroke-width="0.75"/><path d="M348.21 518.41L559.61 306.91" stroke="url(#g3_1)" stroke-width="0.75"/><path d="M347.71 517.91L559.11 306.41" stroke="url(#g3_2)" stroke-width="0.75"/><path d="M347.22 517.42L558.62 305.92" stroke="url(#g3_3)" stroke-width="0.75"/><path d="M346.72 516.92L558.12 305.42" stroke="url(#g3_4)" stroke-width="0.75"/></g>
<path d="M348.70 518.90L560.10 307.40" stroke="#1a1a1a" stroke-opacity="0.85" stroke-width="1.1" fill="none"/>
<path d="M375.12 518.90v-3.5M375.12 307.40v3.5M348.70 492.46h3.5M560.10 492.46h-3.5M401.55 518.90v-3.5M401.55 307.40v3.5M348.70 466.02h3.5M560.10 466.02h-3.5M427.98 518.90v-3.5M427.98 307.40v3.5M348.70 439.59h3.5M560.10 439.59h-3.5M454.40 518.90v-3.5M454.40 307.40v3.5M348.70 413.15h3.5M560.10 413.15h-3.5M480.83 518.90v-3.5M480.83 307.40v3.5M348.70 386.71h3.5M560.10 386.71h-3.5M507.25 518.90v-3.5M507.25 307.40v3.5M348.70 360.27h3.5M560.10 360.27h-3.5M533.67 518.90v-3.5M533.67 307.40v3.5M348.70 333.84h3.5M560.10 333.84h-3.5" stroke="#505050" stroke-width="0.8" fill="none"/>
<rect x="348.70" y="307.40" width="211.40" height="211.50" fill="none" stroke="#505050" stroke-width="1.1"/>
<text x="348.70" y="527.10" font-family="Liberation Sans" font-size="7.2" fill="#111" stroke="#111" stroke-width="0.2" text-anchor="middle">0</text>
<text x="345.70" y="520.80" font-family="Liberation Sans" font-size="7.2" fill="#111" stroke="#111" stroke-width="0.2" text-anchor="end">0</text>
<text x="375.12" y="527.10" font-family="Liberation Sans" font-size="7.2" fill="#111" stroke="#111" stroke-width="0.2" text-anchor="middle">5</text>
<text x="345.70" y="494.36" font-family="Liberation Sans" font-size="7.2" fill="#111" stroke="#111" stroke-width="0.2" text-anchor="end">5</text>
<text x="401.55" y="527.10" font-family="Liberation Sans" font-size="7.2" fill="#111" stroke="#111" stroke-width="0.2" text-anchor="middle">10</text>
<text x="345.70" y="467.92" font-family="Liberation Sans" font-size="7.2" fill="#111" stroke="#111" stroke-width="0.2" text-anchor="end">10</text>
<text x="427.98" y="527.10" font-family="Liberation Sans" font-size="7.2" fill="#111" stroke="#111" stroke-width="0.2" text-anchor="middle">15</text>
<text x="345.70" y="441.49" font-family="Liberation Sans" font-size="7.2" fill="#111" stroke="#111" stroke-width="0.2" text-anchor="end">15</text>
<text x="454.40" y="527.10" font-family="Liberation Sans" font-size="7.2" fill="#111" stroke="#111" stroke-width="0.2" text-anchor="middle">20</text>
<text x="345.70" y="415.05" font-family="Liberation Sans" font-size="7.2" fill="#111" stroke="#111" stroke-width="0.2" text-anchor="end">20</text>
<text x="480.83" y="527.10" font-family="Liberation Sans" font-size="7.2" fill="#111" stroke="#111" stroke-width="0.2" text-anchor="middle">25</text>
<text x="345.70" y="388.61" font-family="Liberation Sans" font-size="7.2" fill="#111" stroke="#111" stroke-width="0.2" text-anchor="end">25</text>
<text x="507.25" y="527.10" font-family="Liberation Sans" font-size="7.2" fill="#111" stroke="#111" stroke-width="0.2" text-anchor="middle">30</text>
<text x="345.70" y="362.17" font-family="Liberation Sans" font-size="7.2" fill="#111" stroke="#111" stroke-width="0.2" text-anchor="end">30</text>
<text x="533.67" y="527.10" font-family="Liberation Sans" font-size="7.2" fill="#111" stroke="#111" stroke-width="0.2" text-anchor="middle">35</text>
<text x="345.70" y="335.74" font-family="Liberation Sans" font-size="7.2" fill="#111" stroke="#111" stroke-width="0.2" text-anchor="end">35</text>
<text x="560.10" y="527.10" font-family="Liberation Sans" font-size="7.2" fill="#111" stroke="#111" stroke-width="0.2" text-anchor="middle">40</text>
<text x="345.70" y="309.30" font-family="Liberation Sans" font-size="7.2" fill="#111" stroke="#111" stroke-width="0.2" text-anchor="end">40</text>
<rect x="575.50" y="307.30" width="10.30" height="211.70" fill="url(#cm)" stroke="#505050" stroke-width="0.9"/>
<text x="588.40" y="349.20" font-family="Liberation Serif" font-size="8.6" fill="#111" stroke="#111" stroke-width="0.15">10<tspan font-size="5.8" dx="0.4" dy="-2.7">4</tspan></text>
<text x="588.40" y="392.20" font-family="Liberation Serif" font-size="8.6" fill="#111" stroke="#111" stroke-width="0.15">10<tspan font-size="5.8" dx="0.4" dy="-2.7">3</tspan></text>
<text x="588.40" y="435.20" font-family="Liberation Serif" font-size="8.6" fill="#111" stroke="#111" stroke-width="0.15">10<tspan font-size="5.8" dx="0.4" dy="-2.7">2</tspan></text>
<text x="588.40" y="477.90" font-family="Liberation Serif" font-size="8.6" fill="#111" stroke="#111" stroke-width="0.15">10<tspan font-size="5.8" dx="0.4" dy="-2.7">1</tspan></text>
<text x="588.40" y="520.80" font-family="Liberation Serif" font-size="8.6" fill="#111" stroke="#111" stroke-width="0.15">10<tspan font-size="5.8" dx="0.4" dy="-2.7">0</tspan></text>
<path d="M585.80 346.20h-2.5M585.80 389.20h-2.5M585.80 432.20h-2.5M585.80 474.90h-2.5M585.80 517.80h-2.5" stroke="#333" stroke-width="0.8" fill="none"/>
<text x="479.20" y="510.00" font-family="Liberation Serif" font-size="21" fill="#111">N<tspan font-size="13.7" dy="3.5">c</tspan><tspan dy="-3.5">=7.5M</tspan></text>
<g transform="translate(444.30,531.90)"><path d="M9.0 5.0C8.5 7.0 6.5 9.4 4.5 9.3C2.0 9.2 0.6 7.4 0.9 5.3C1.3 2.8 4.5 0.6 9.0 0.3C12.0 0.1 14.6 0.6 14.4 2.3C14.2 3.4 12.8 3.9 11.2 3.9M10.2 1.6L10.6 4.1M8.6 4.6L13.5 9.5M4.8 6.6C5.3 5.0 6.8 4.0 8.6 4.6" stroke="#1a1a1a" stroke-width="1.0" fill="none" stroke-linecap="round"/><text x="16.4" y="2.4" font-family="Liberation Serif" font-size="9" fill="#222">2</text><text x="15.0" y="13.4" font-family="Liberation Serif" font-style="italic" font-size="10.5" fill="#222">b</text></g>
<g transform="translate(318.30,424.65) rotate(-90)"><path d="M9.0 5.0C8.5 7.0 6.5 9.4 4.5 9.3C2.0 9.2 0.6 7.4 0.9 5.3C1.3 2.8 4.5 0.6 9.0 0.3C12.0 0.1 14.6 0.6 14.4 2.3C14.2 3.4 12.8 3.9 11.2 3.9M10.2 1.6L10.6 4.1M8.6 4.6L13.5 9.5M4.8 6.6C5.3 5.0 6.8 4.0 8.6 4.6" stroke="#1a1a1a" stroke-width="1.0" fill="none" stroke-linecap="round"/><text x="16.4" y="2.0" font-family="Liberation Serif" font-size="9" fill="#222">2</text><text x="15.0" y="13.4" font-family="Liberation Serif" font-style="italic" font-size="10.5" fill="#222">d</text></g>
<path d="M60.50 547.60V758.80M34.20 732.50H245.30M86.50 547.60V758.80M34.20 706.50H245.30M113.50 547.60V758.80M34.20 679.50H245.30M139.50 547.60V758.80M34.20 653.50H245.30M166.50 547.60V758.80M34.20 626.50H245.30M192.50 547.60V758.80M34.20 600.50H245.30M218.50 547.60V758.80M34.20 574.50H245.30" stroke="#bcbcbc" stroke-width="1" stroke-dasharray="1 1.25" fill="none"/>
<defs><clipPath id="cq4"><polygon points="34.20,547.60 34.20,759.20 245.70,547.60"/></clipPath></defs><g clip-path="url(#cq4)"><g transform="translate(34.20,758.80) scale(1.5)" fill="none" stroke-width="1" shape-rendering="crispEdges"><path d="M0 -0.5h1" stroke="#5ab6b2"/><path d="M1 -0.5h1" stroke="#56b6b2"/><path d="M0.5 -1.5h2" stroke="#4ab6ba"/><path d="M0 -2.5h2" stroke="#2eaec2"/><path d="M2 -2.5h1M1.5 -3.5h1M1.5 -5.5h1" stroke="#3ab2be"/><path d="M3 -2.5h1" stroke="#42b6be"/><path d="M0.5 -3.5h1" stroke="#26aac6"/><path d="M2.5 -3.5h2M0 -4.5h1" stroke="#2aaac6"/><path d="M1 -4.5h1M4.5 -5.5h1" stroke="#229eca"/><path d="M2 -4.5h1M3.5 -5.5h1M3 -6.5h1M7.5 -7.5h1M4 -8.5h1" stroke="#269aca"/><path d="M3 -4.5h1M5 -4.5h1M5 -6.5h1M3.5 -7.5h1" stroke="#22a6ca"/><path d="M4 -4.5h1M0.5 -5.5h1M2 -6.5h1M6 -6.5h1" stroke="#22a2ca"/><path d="M2.5 -5.5h1M7 -6.5h1M5.5 -7.5h1M9 -8.5h1" stroke="#2e8ac2"/><path d="M5.5 -5.5h1M2.5 -7.5h1M3 -8.5h1M6 -8.5h1M2.5 -9.5h2M11 -14.5h1M22.5 -23.5h1M28 -28.5h1" stroke="#3286c2"/><path d="M0 -6.5h1M9.5 -11.5h1M4 -12.5h1M6 -12.5h1M10 -12.5h1M13 -12.5h1M4.5 -13.5h1M13.5 -13.5h1M14.5 -17.5h1M16 -18.5h1M15.5 -19.5h2M21 -22.5h1" stroke="#3a72b6"/><path d="M1 -6.5h1M5 -8.5h1M14 -16.5h1M27 -26.5h1" stroke="#2a8ec6"/><path d="M4 -6.5h1M1.5 -7.5h1M2 -8.5h1M5.5 -9.5h2M9.5 -9.5h1" stroke="#2a92c6"/><path d="M0.5 -7.5h1M7 -8.5h1M4 -10.5h1M9 -10.5h1M0.5 -11.5h1M7 -12.5h1M9 -12.5h1M12 -12.5h1M9.5 -13.5h1M11.5 -13.5h1M15.5 -15.5h1M26 -26.5h1" stroke="#367ebe"/><path d="M4.5 -7.5h1M8 -8.5h1M4.5 -9.5h1M7.5 -9.5h1M6 -10.5h1M8.5 -13.5h1M12.5 -15.5h1M19 -20.5h1" stroke="#3682be"/><path d="M6.5 -7.5h1M3 -10.5h1M5 -10.5h1M7 -10.5h1M3.5 -11.5h2M7.5 -13.5h1M10.5 -15.5h1M12 -16.5h1M18.5 -21.5h1M29 -28.5h1M29 -30.5h1M31.5 -31.5h1" stroke="#3676ba"/><path d="M0 -8.5h1M11 -10.5h1M8.5 -11.5h1M11.5 -11.5h1M3 -12.5h1M0.5 -13.5h1M12.5 -13.5h1M2 -14.5h1M4 -14.5h1M12 -14.5h1M14 -14.5h1M0.5 -15.5h4M7.5 -15.5h1M6 -16.5h1M2.5 -17.5h2M8.5 -17.5h1M15.5 -17.5h1M3 -18.5h1M8 -18.5h1M9.5 -19.5h1M17.5 -19.5h2M16 -20.5h1M20 -20.5h2M13.5 -21.5h2M6 -22.5h1M10 -22.5h1M13 -22.5h2M17 -22.5h2M1.5 -23.5h1M8.5 -23.5h1M10.5 -23.5h1M13.5 -23.5h1M16.5 -23.5h1M15 -24.5h1M21 -24.5h1M21.5 -25.5h1M13 -26.5h1M23 -26.5h1M17.5 -27.5h2M20.5 -27.5h1M24.5 -27.5h1M20 -28.5h1M26 -28.5h1M14.5 -29.5h1M22.5 -29.5h1M26.5 -29.5h1M24 -30.5h1M26 -30.5h2M4.5 -31.5h1M6.5 -31.5h1M8.5 -31.5h1M21.5 -31.5h1M24.5 -31.5h1M27.5 -31.5h1M9 -32.5h1M18 -32.5h1M22 -32.5h2M25 -32.5h1M30 -32.5h1M20.5 -33.5h2M33.5 -33.5h1M28 -34.5h1M33 -34.5h1M35 -34.5h1M2.5 -35.5h1M9.5 -35.5h1M18.5 -35.5h1M33.5 -35.5h1M35.5 -35.5h1M36 -36.5h1M37.5 -37.5h1M17 -38.5h1M39 -38.5h1M37.5 -39.5h1M7 -40.5h1M31 -40.5h1M6.5 -41.5h1M13.5 -41.5h1M40.5 -41.5h1M37 -42.5h1M40 -42.5h1M39.5 -43.5h2M42.5 -43.5h2M45 -46.5h1M47.5 -47.5h1M48.5 -49.5h1M46 -50.5h1M49.5 -51.5h1M54.5 -55.5h1M55.5 -57.5h1M25 -58.5h1M58.5 -59.5h1M67 -68.5h1M84.5 -87.5h1M88 -90.5h1M92 -92.5h1" stroke="#4a4ea2"/><path d="M1 -8.5h1M0 -10.5h2M10 -10.5h1M2.5 -11.5h1M11 -12.5h1M1.5 -13.5h3M5.5 -13.5h1M6 -14.5h1M10 -14.5h1M14.5 -15.5h1M10 -16.5h1M6.5 -17.5h1M9.5 -17.5h2M12.5 -17.5h2M16.5 -17.5h1M12 -18.5h1M14 -18.5h1M12.5 -19.5h1M4 -20.5h1M13 -20.5h1M9.5 -21.5h1M15.5 -21.5h1M17.5 -21.5h1M8 -22.5h2M11 -22.5h1M22 -22.5h1M17.5 -23.5h2M20.5 -23.5h1M13 -24.5h1M20 -24.5h1M22 -24.5h1M25 -24.5h1M14 -26.5h1M22 -26.5h1M24 -26.5h1M26.5 -27.5h1M27.5 -29.5h1M28 -30.5h1M29.5 -31.5h1M29 -32.5h1M6.5 -33.5h1M8.5 -33.5h1M31.5 -33.5h1M31 -34.5h1M34 -34.5h1M34.5 -35.5h1M31.5 -37.5h1M37 -38.5h1M39 -40.5h2M42 -42.5h1M47 -46.5h1M50.5 -51.5h1M58 -58.5h1M65.5 -65.5h1M83 -82.5h1" stroke="#4256a6"/><path d="M0.5 -9.5h1M8.5 -9.5h1M2 -10.5h1M1.5 -11.5h1M8 -12.5h1M10.5 -13.5h1M7 -14.5h1M9 -14.5h1M5 -16.5h1M17 -20.5h1M20 -22.5h1M21.5 -23.5h1M11.5 -25.5h1M23.5 -25.5h1M25 -26.5h1M13.5 -27.5h1M25.5 -27.5h1M27.5 -27.5h1M29.5 -29.5h1M30 -30.5h1M32 -32.5h1M32.5 -33.5h1M41.5 -41.5h1M51 -50.5h1" stroke="#3e6ab2"/><path d="M1.5 -9.5h1M8 -10.5h1M5.5 -11.5h2M5 -12.5h1M8 -14.5h1M13 -14.5h1M9.5 -15.5h1M11.5 -15.5h1M4 -16.5h1M11 -16.5h1M13 -16.5h1M16 -16.5h1M16.5 -21.5h1M19.5 -21.5h1M19 -22.5h1M20.5 -25.5h1M22.5 -25.5h1M24.5 -25.5h1M27 -28.5h1M18.5 -29.5h1M28.5 -29.5h1M31 -30.5h1M33 -32.5h1M31.5 -35.5h1M32 -36.5h1M38 -38.5h1M39.5 -39.5h1" stroke="#3e62aa"/><path d="M7.5 -11.5h1" stroke="#2696c6"/><path d="M10.5 -11.5h1M2 -12.5h1M6.5 -13.5h1M5 -14.5h1M15 -14.5h1M4.5 -15.5h3M8.5 -15.5h1M13.5 -15.5h1M1 -16.5h1M3 -16.5h1M7 -16.5h3M15 -16.5h1M17 -16.5h1M4.5 -17.5h2M7.5 -17.5h1M11.5 -17.5h1M1 -18.5h1M4 -18.5h1M6 -18.5h2M9 -18.5h1M13 -18.5h1M18 -18.5h2M4.5 -19.5h2M11.5 -19.5h1M19.5 -19.5h1M0 -20.5h1M6 -20.5h2M9 -20.5h1M11 -20.5h2M14 -20.5h1M18 -20.5h1M0.5 -21.5h3M5.5 -21.5h1M7.5 -21.5h2M10.5 -21.5h2M2 -22.5h1M4 -22.5h2M7 -22.5h1M15 -22.5h2M2.5 -23.5h1M4.5 -23.5h1M14.5 -23.5h1M19.5 -23.5h1M23.5 -23.5h1M4 -24.5h2M7 -24.5h3M14 -24.5h1M16 -24.5h1M18 -24.5h1M6.5 -25.5h2M10.5 -25.5h1M13.5 -25.5h1M18.5 -25.5h1M25.5 -25.5h1M1 -26.5h1M5 -26.5h1M7 -26.5h4M12 -26.5h1M16 -26.5h3M21 -26.5h1M1.5 -27.5h1M3.5 -27.5h1M5.5 -27.5h2M9.5 -27.5h1M12.5 -27.5h1M16.5 -27.5h1M22.5 -27.5h2M1 -28.5h6M9 -28.5h1M12 -28.5h2M17 -28.5h1M22 -28.5h2M25 -28.5h1M3.5 -29.5h3M9.5 -29.5h1M19.5 -29.5h1M21.5 -29.5h1M23.5 -29.5h3M2 -30.5h1M4 -30.5h3M9 -30.5h1M11 -30.5h2M18 -30.5h2M1.5 -31.5h1M9.5 -31.5h1M13.5 -31.5h1M16.5 -31.5h3M20.5 -31.5h1M22.5 -31.5h1M25.5 -31.5h2M28.5 -31.5h1M30.5 -31.5h1M5 -32.5h2M10 -32.5h1M13 -32.5h5M24 -32.5h1M26 -32.5h2M31 -32.5h1M2.5 -33.5h2M9.5 -33.5h1M19.5 -33.5h1M24.5 -33.5h3M28.5 -33.5h3M10 -34.5h1M14 -34.5h1M26 -34.5h1M29 -34.5h2M32 -34.5h1M13.5 -35.5h1M16.5 -35.5h1M27.5 -35.5h1M3 -36.5h2M8 -36.5h1M18 -36.5h2M21 -36.5h4M27 -36.5h2M31 -36.5h1M34 -36.5h1M37 -36.5h1M2.5 -37.5h1M15.5 -37.5h1M20.5 -37.5h1M23.5 -37.5h1M27.5 -37.5h1M29.5 -37.5h1M35.5 -37.5h2M0 -38.5h1M8 -38.5h1M11 -38.5h1M13 -38.5h1M15 -38.5h1M24 -38.5h1M27 -38.5h1M29 -38.5h1M32 -38.5h1M34 -38.5h1M0.5 -39.5h1M4.5 -39.5h4M14.5 -39.5h1M30.5 -39.5h1M36.5 -39.5h1M38.5 -39.5h1M0 -40.5h1M2 -40.5h1M9 -40.5h2M17 -40.5h1M26 -40.5h1M32 -40.5h1M34 -40.5h1M38 -40.5h1M9.5 -41.5h2M36.5 -41.5h1M8 -42.5h1M17 -42.5h1M21 -42.5h1M25 -42.5h2M34 -42.5h1M41 -42.5h1M43 -42.5h1M9.5 -43.5h1M13.5 -43.5h2M16.5 -43.5h1M41.5 -43.5h1M3 -44.5h1M17 -44.5h1M19 -44.5h1M22 -44.5h1M37 -44.5h1M39 -44.5h2M43 -44.5h1M45 -44.5h1M1.5 -45.5h1M4.5 -45.5h2M12.5 -45.5h1M26.5 -45.5h1M38.5 -45.5h1M40.5 -45.5h4M45.5 -45.5h1M11 -46.5h1M19 -46.5h1M24 -46.5h2M30 -46.5h2M35 -46.5h1M40 -46.5h1M46 -46.5h1M8.5 -47.5h1M22.5 -47.5h1M34.5 -47.5h1M36.5 -47.5h1M39.5 -47.5h1M41.5 -47.5h1M44.5 -47.5h2M7 -48.5h1M35 -48.5h1M47 -48.5h2M12.5 -49.5h1M24.5 -49.5h1M44.5 -49.5h4M1 -50.5h1M5 -50.5h1M20 -50.5h1M29 -50.5h1M31 -50.5h1M49 -50.5h1M3.5 -51.5h1M20.5 -51.5h1M25.5 -51.5h1M42.5 -51.5h1M51.5 -51.5h1M10 -52.5h2M16 -52.5h1M28 -52.5h1M36 -52.5h1M45 -52.5h1M50 -52.5h2M53 -52.5h1M42.5 -53.5h1M48.5 -53.5h1M50.5 -53.5h1M4 -54.5h1M12 -54.5h1M22 -54.5h1M41 -54.5h1M54 -54.5h1M52.5 -55.5h2M55.5 -55.5h1M3 -56.5h1M11 -56.5h1M28 -56.5h1M40 -56.5h1M45 -56.5h1M53 -56.5h1M6.5 -57.5h1M32.5 -57.5h1M9 -58.5h1M16 -58.5h1M18 -58.5h1M53 -58.5h1M57 -58.5h1M19.5 -59.5h1M21.5 -59.5h1M49.5 -59.5h1M48 -60.5h1M61 -60.5h1M10.5 -61.5h1M38.5 -61.5h1M41.5 -61.5h1M47.5 -61.5h1M54.5 -61.5h1M61.5 -61.5h1M8 -62.5h1M13 -62.5h1M15 -62.5h1M28.5 -63.5h1M55.5 -63.5h1M64 -64.5h2M42.5 -65.5h1M64.5 -65.5h1M28 -66.5h1M37 -66.5h1M63 -66.5h1M28.5 -67.5h1M48.5 -67.5h1M63.5 -67.5h1M65.5 -67.5h3M60 -68.5h1M69 -68.5h1M65.5 -69.5h1M68.5 -69.5h2M54 -70.5h1M61 -70.5h2M70 -70.5h1M47.5 -71.5h1M68.5 -71.5h1M71.5 -71.5h1M71 -72.5h1M73 -72.5h1M45.5 -73.5h1M71 -74.5h1M25.5 -75.5h1M67.5 -75.5h1M59 -76.5h1M32.5 -77.5h1M53.5 -77.5h1M77 -78.5h1M10.5 -79.5h1M35 -80.5h1M42 -80.5h1M77 -80.5h1M49.5 -81.5h1M9 -82.5h1M80.5 -83.5h1M83.5 -83.5h1M41 -84.5h1M83 -84.5h1M61 -86.5h1M87.5 -87.5h1M49 -88.5h1M67 -88.5h1M89 -88.5h1M13 -90.5h1M42 -90.5h1M84.5 -91.5h1M90.5 -91.5h1M10 -92.5h1M21 -92.5h1M63.5 -93.5h1M89.5 -93.5h1M93.5 -93.5h1M3 -94.5h1M95 -94.5h1M95 -96.5h1M57 -98.5h1M96.5 -99.5h1M101 -102.5h1M10.5 -103.5h1M49.5 -103.5h1M77.5 -103.5h1M101.5 -103.5h1M8.5 -105.5h1M68.5 -105.5h1M95.5 -107.5h1M49 -108.5h1M109 -108.5h1M105.5 -113.5h1M33 -114.5h1M68 -116.5h1M70 -116.5h1M115.5 -117.5h1M117.5 -117.5h1M38 -118.5h1M64.5 -121.5h1M100.5 -129.5h1M70 -130.5h1M126.5 -131.5h1M57.5 -135.5h1M109.5 -137.5h1" stroke="#5a4a9e"/></g></g>
<defs><linearGradient id="g4_0" gradientUnits="userSpaceOnUse" x1="34.20" y1="758.80" x2="245.30" y2="547.60"><stop offset="0.000" stop-color="#e02e32" stop-opacity="1.00"/><stop offset="0.025" stop-color="#8ec596" stop-opacity="1.00"/><stop offset="0.050" stop-color="#6bbbaa" stop-opacity="1.00"/><stop offset="0.075" stop-color="#4bb5b8" stop-opacity="1.00"/><stop offset="0.100" stop-color="#2fadc3" stop-opacity="1.00"/><stop offset="0.125" stop-color="#23a0c8" stop-opacity="1.00"/><stop offset="0.150" stop-color="#2991c5" stop-opacity="1.00"/><stop offset="0.175" stop-color="#3383be" stop-opacity="1.00"/><stop offset="0.200" stop-color="#3973b6" stop-opacity="0.53"/><stop offset="0.225" stop-color="#3d64ae" stop-opacity="0.00"/><stop offset="0.250" stop-color="#4257a7" stop-opacity="0.00"/><stop offset="0.275" stop-color="#4650a3" stop-opacity="0.00"/><stop offset="0.300" stop-color="#4c4ca1" stop-opacity="0.00"/><stop offset="0.325" stop-color="#5148a0" stop-opacity="0.00"/><stop offset="0.350" stop-color="#57499f" stop-opacity="0.00"/><stop offset="0.375" stop-color="#5b4a9f" stop-opacity="0.00"/><stop offset="0.400" stop-color="#5b4a9f" stop-opacity="0.00"/><stop offset="0.425" stop-color="#5b4a9f" stop-opacity="0.00"/><stop offset="0.450" stop-color="#5b4a9f" stop-opacity="0.00"/><stop offset="0.475" stop-color="#5b4a9f" stop-opacity="0.00"/><stop offset="0.500" stop-color="#5b4a9f" stop-opacity="0.00"/><stop offset="0.525" stop-color="#5b4a9f" stop-opacity="0.00"/><stop offset="0.550" stop-color="#5b4a9f" stop-opacity="0.00"/><stop offset="0.575" stop-color="#5b4a9f" stop-opacity="0.00"/><stop offset="0.600" stop-color="#5b4a9f" stop-opacity="0.00"/><stop offset="0.625" stop-color="#5b4a9f" stop-opacity="0.00"/><stop offset="0.650" stop-color="#5b4a9f" stop-opacity="0.00"/><stop offset="0.675" stop-color="#5b4a9f" stop-opacity="0.00"/><stop offset="0.700" stop-color="#5b4a9f" stop-opacity="0.00"/><stop offset="0.725" stop-color="#5b4a9f" stop-opacity="0.00"/><stop offset="0.750" stop-color="#5b4a9f" stop-opacity="0.00"/><stop offset="0.775" stop-color="#5b4a9f" stop-opacity="0.00"/><stop offset="0.800" stop-color="#5b4a9f" stop-opacity="0.00"/><stop offset="0.825" stop-color="#5b4a9f" stop-opacity="0.00"/><stop offset="0.850" stop-color="#5b4a9f" stop-opacity="0.00"/><stop offset="0.875" stop-color="#5b4a9f" stop-opacity="0.00"/><stop offset="0.900" stop-color="#5b4a9f" stop-opacity="0.00"/><stop offset="0.925" stop-color="#5b4a9f" stop-opacity="0.00"/><stop offset="0.950" stop-color="#5b4a9f" stop-opacity="0.00"/><stop offset="0.975" stop-color="#5b4a9f" stop-opacity="0.00"/><stop offset="1.000" stop-color="#5b4a9f" stop-opacity="0.00"/></linearGradient><linearGradient id="g4_1" gradientUnits="userSpaceOnUse" x1="34.20" y1="758.80" x2="245.30" y2="547.60"><stop offset="0.000" stop-color="#e1433b" stop-opacity="1.00"/><stop offset="0.025" stop-color="#82c19e" stop-opacity="1.00"/><stop offset="0.050" stop-color="#59b7b3" stop-opacity="1.00"/><stop offset="0.075" stop-color="#32afc1" stop-opacity="1.00"/><stop offset="0.100" stop-color="#23a2c8" stop-opacity="1.00"/><stop offset="0.125" stop-color="#2991c5" stop-opacity="1.00"/><stop offset="0.150" stop-color="#3480bd" stop-opacity="1.00"/><stop offset="0.175" stop-color="#3971b5" stop-opacity="0.44"/><stop offset="0.200" stop-color="#3e63ad" stop-opacity="0.00"/><stop offset="0.225" stop-color="#4256a6" stop-opacity="0.00"/><stop offset="0.250" stop-color="#494ea2" stop-opacity="0.00"/><stop offset="0.275" stop-color="#4e4aa1" stop-opacity="0.00"/><stop offset="0.300" stop-color="#5349a0" stop-opacity="0.00"/><stop offset="0.325" stop-color="#594a9f" stop-opacity="0.00"/><stop offset="0.350" stop-color="#5b4a9f" stop-opacity="0.00"/><stop offset="0.375" stop-color="#5b4a9f" stop-opacity="0.00"/><stop offset="0.400" stop-color="#5b4a9f" stop-opacity="0.00"/><stop offset="0.425" stop-color="#5b4a9f" stop-opacity="0.00"/><stop offset="0.450" stop-color="#5b4a9f" stop-opacity="0.00"/><stop offset="0.475" stop-color="#5b4a9f" stop-opacity="0.00"/><stop offset="0.500" stop-color="#5b4a9f" stop-opacity="0.00"/><stop offset="0.525" stop-color="#5b4a9f" stop-opacity="0.00"/><stop offset="0.550" stop-color="#5b4a9f" stop-opacity="0.00"/><stop offset="0.575" stop-color="#5b4a9f" stop-opacity="0.00"/><stop offset="0.600" stop-color="#5b4a9f" stop-opacity="0.00"/><stop offset="0.625" stop-color="#5b4a9f" stop-opacity="0.00"/><stop offset="0.650" stop-color="#5b4a9f" stop-opacity="0.00"/><stop offset="0.675" stop-color="#5b4a9f" stop-opacity="0.00"/><stop offset="0.700" stop-color="#5b4a9f" stop-opacity="0.00"/><stop offset="0.725" stop-color="#5b4a9f" stop-opacity="0.00"/><stop offset="0.750" stop-color="#5b4a9f" stop-opacity="0.00"/><stop offset="0.775" stop-color="#5b4a9f" stop-opacity="0.00"/><stop offset="0.800" stop-color="#5b4a9f" stop-opacity="0.00"/><stop offset="0.825" stop-color="#5b4a9f" stop-opacity="0.00"/><stop offset="0.850" stop-color="#5b4a9f" stop-opacity="0.00"/><stop offset="0.875" stop-color="#5b4a9f" stop-opacity="0.00"/><stop offset="0.900" stop-color="#5b4a9f" stop-opacity="0.00"/><stop offset="0.925" stop-color="#5b4a9f" stop-opacity="0.00"/><stop offset="0.950" stop-color="#5b4a9f" stop-opacity="0.00"/><stop offset="0.975" stop-color="#5b4a9f" stop-opacity="0.00"/><stop offset="1.000" stop-color="#5b4a9f" stop-opacity="0.00"/></linearGradient><linearGradient id="g4_2" gradientUnits="userSpaceOnUse" x1="34.20" y1="758.80" x2="245.30" y2="547.60"><stop offset="0.000" stop-color="#e56649" stop-opacity="1.00"/><stop offset="0.025" stop-color="#72bca7" stop-opacity="1.00"/><stop offset="0.050" stop-color="#3db3bd" stop-opacity="1.00"/><stop offset="0.075" stop-color="#23a4c8" stop-opacity="1.00"/><stop offset="0.100" stop-color="#2794c6" stop-opacity="1.00"/><stop offset="0.125" stop-color="#3580bd" stop-opacity="1.00"/><stop offset="0.150" stop-color="#3a6eb3" stop-opacity="0.30"/><stop offset="0.175" stop-color="#3f61ac" stop-opacity="0.00"/><stop offset="0.200" stop-color="#4355a5" stop-opacity="0.00"/><stop offset="0.225" stop-color="#494ea2" stop-opacity="0.00"/><stop offset="0.250" stop-color="#5048a0" stop-opacity="0.00"/><stop offset="0.275" stop-color="#56499f" stop-opacity="0.00"/><stop offset="0.300" stop-color="#5b4a9f" stop-opacity="0.00"/><stop offset="0.325" stop-color="#5b4a9f" stop-opacity="0.00"/><stop offset="0.350" stop-color="#5b4a9f" stop-opacity="0.00"/><stop offset="0.375" stop-color="#5b4a9f" stop-opacity="0.00"/><stop offset="0.400" stop-color="#5b4a9f" stop-opacity="0.00"/><stop offset="0.425" stop-color="#5b4a9f" stop-opacity="0.00"/><stop offset="0.450" stop-color="#5b4a9f" stop-opacity="0.00"/><stop offset="0.475" stop-color="#5b4a9f" stop-opacity="0.00"/><stop offset="0.500" stop-color="#5b4a9f" stop-opacity="0.00"/><stop offset="0.525" stop-color="#5b4a9f" stop-opacity="0.00"/><stop offset="0.550" stop-color="#5b4a9f" stop-opacity="0.00"/><stop offset="0.575" stop-color="#5b4a9f" stop-opacity="0.00"/><stop offset="0.600" stop-color="#5b4a9f" stop-opacity="0.00"/><stop offset="0.625" stop-color="#5b4a9f" stop-opacity="0.00"/><stop offset="0.650" stop-color="#5b4a9f" stop-opacity="0.00"/><stop offset="0.675" stop-color="#5b4a9f" stop-opacity="0.00"/><stop offset="0.700" stop-color="#5b4a9f" stop-opacity="0.00"/><stop offset="0.725" stop-color="#5b4a9f" stop-opacity="0.00"/><stop offset="0.750" stop-color="#5b4a9f" stop-opacity="0.00"/><stop offset="0.775" stop-color="#5b4a9f" stop-opacity="0.00"/><stop offset="0.800" stop-color="#5b4a9f" stop-opacity="0.00"/><stop offset="0.825" stop-color="#5b4a9f" stop-opacity="0.00"/><stop offset="0.850" stop-color="#5b4a9f" stop-opacity="0.00"/><stop offset="0.875" stop-color="#5b4a9f" stop-opacity="0.00"/><stop offset="0.900" stop-color="#5b4a9f" stop-opacity="0.00"/><stop offset="0.925" stop-color="#5b4a9f" stop-opacity="0.00"/><stop offset="0.950" stop-color="#5b4a9f" stop-opacity="0.00"/><stop offset="0.975" stop-color="#5b4a9f" stop-opacity="0.00"/><stop offset="1.000" stop-color="#5b4a9f" stop-opacity="0.00"/></linearGradient><linearGradient id="g4_3" gradientUnits="userSpaceOnUse" x1="34.20" y1="758.80" x2="245.30" y2="547.60"><stop offset="0.000" stop-color="#ec8e5b" stop-opacity="1.00"/><stop offset="0.025" stop-color="#5fb8b0" stop-opacity="1.00"/><stop offset="0.050" stop-color="#23a8c8" stop-opacity="1.00"/><stop offset="0.075" stop-color="#2695c6" stop-opacity="1.00"/><stop offset="0.100" stop-color="#3482be" stop-opacity="1.00"/><stop offset="0.125" stop-color="#3a6db3" stop-opacity="0.23"/><stop offset="0.150" stop-color="#405eab" stop-opacity="0.00"/><stop offset="0.175" stop-color="#4452a4" stop-opacity="0.00"/><stop offset="0.200" stop-color="#4a4da2" stop-opacity="0.00"/><stop offset="0.225" stop-color="#5148a0" stop-opacity="0.00"/><stop offset="0.250" stop-color="#594a9f" stop-opacity="0.00"/><stop offset="0.275" stop-color="#5b4a9f" stop-opacity="0.00"/><stop offset="0.300" stop-color="#5b4a9f" stop-opacity="0.00"/><stop offset="0.325" stop-color="#5b4a9f" stop-opacity="0.00"/><stop offset="0.350" stop-color="#5b4a9f" stop-opacity="0.00"/><stop offset="0.375" stop-color="#5b4a9f" stop-opacity="0.00"/><stop offset="0.400" stop-color="#5b4a9f" stop-opacity="0.00"/><stop offset="0.425" stop-color="#5b4a9f" stop-opacity="0.00"/><stop offset="0.450" stop-color="#5b4a9f" stop-opacity="0.00"/><stop offset="0.475" stop-color="#5b4a9f" stop-opacity="0.00"/><stop offset="0.500" stop-color="#5b4a9f" stop-opacity="0.00"/><stop offset="0.525" stop-color="#5b4a9f" stop-opacity="0.00"/><stop offset="0.550" stop-color="#5b4a9f" stop-opacity="0.00"/><stop offset="0.575" stop-color="#5b4a9f" stop-opacity="0.00"/><stop offset="0.600" stop-color="#5b4a9f" stop-opacity="0.00"/><stop offset="0.625" stop-color="#5b4a9f" stop-opacity="0.00"/><stop offset="0.650" stop-color="#5b4a9f" stop-opacity="0.00"/><stop offset="0.675" stop-color="#5b4a9f" stop-opacity="0.00"/><stop offset="0.700" stop-color="#5b4a9f" stop-opacity="0.00"/><stop offset="0.725" stop-color="#5b4a9f" stop-opacity="0.00"/><stop offset="0.750" stop-color="#5b4a9f" stop-opacity="0.00"/><stop offset="0.775" stop-color="#5b4a9f" stop-opacity="0.00"/><stop offset="0.800" stop-color="#5b4a9f" stop-opacity="0.00"/><stop offset="0.825" stop-color="#5b4a9f" stop-opacity="0.00"/><stop offset="0.850" stop-color="#5b4a9f" stop-opacity="0.00"/><stop offset="0.875" stop-color="#5b4a9f" stop-opacity="0.00"/><stop offset="0.900" stop-color="#5b4a9f" stop-opacity="0.00"/><stop offset="0.925" stop-color="#5b4a9f" stop-opacity="0.00"/><stop offset="0.950" stop-color="#5b4a9f" stop-opacity="0.00"/><stop offset="0.975" stop-color="#5b4a9f" stop-opacity="0.00"/><stop offset="1.000" stop-color="#5b4a9f" stop-opacity="0.00"/></linearGradient><linearGradient id="g4_4" gradientUnits="userSpaceOnUse" x1="34.20" y1="758.80" x2="245.30" y2="547.60"><stop offset="0.000" stop-color="#e0aa6f" stop-opacity="1.00"/><stop offset="0.025" stop-color="#3fb4bc" stop-opacity="1.00"/><stop offset="0.050" stop-color="#2499c8" stop-opacity="1.00"/><stop offset="0.075" stop-color="#3481be" stop-opacity="1.00"/><stop offset="0.100" stop-color="#3a6eb3" stop-opacity="0.28"/><stop offset="0.125" stop-color="#405daa" stop-opacity="0.00"/><stop offset="0.150" stop-color="#4651a3" stop-opacity="0.00"/><stop offset="0.175" stop-color="#4c4ba1" stop-opacity="0.00"/><stop offset="0.200" stop-color="#5348a0" stop-opacity="0.00"/><stop offset="0.225" stop-color="#5a4a9f" stop-opacity="0.00"/><stop offset="0.250" stop-color="#5b4a9f" stop-opacity="0.00"/><stop offset="0.275" stop-color="#5b4a9f" stop-opacity="0.00"/><stop offset="0.300" stop-color="#5b4a9f" stop-opacity="0.00"/><stop offset="0.325" stop-color="#5b4a9f" stop-opacity="0.00"/><stop offset="0.350" stop-color="#5b4a9f" stop-opacity="0.00"/><stop offset="0.375" stop-color="#5b4a9f" stop-opacity="0.00"/><stop offset="0.400" stop-color="#5b4a9f" stop-opacity="0.00"/><stop offset="0.425" stop-color="#5b4a9f" stop-opacity="0.00"/><stop offset="0.450" stop-color="#5b4a9f" stop-opacity="0.00"/><stop offset="0.475" stop-color="#5b4a9f" stop-opacity="0.00"/><stop offset="0.500" stop-color="#5b4a9f" stop-opacity="0.00"/><stop offset="0.525" stop-color="#5b4a9f" stop-opacity="0.00"/><stop offset="0.550" stop-color="#5b4a9f" stop-opacity="0.00"/><stop offset="0.575" stop-color="#5b4a9f" stop-opacity="0.00"/><stop offset="0.600" stop-color="#5b4a9f" stop-opacity="0.00"/><stop offset="0.625" stop-color="#5b4a9f" stop-opacity="0.00"/><stop offset="0.650" stop-color="#5b4a9f" stop-opacity="0.00"/><stop offset="0.675" stop-color="#5b4a9f" stop-opacity="0.00"/><stop offset="0.700" stop-color="#5b4a9f" stop-opacity="0.00"/><stop offset="0.725" stop-color="#5b4a9f" stop-opacity="0.00"/><stop offset="0.750" stop-color="#5b4a9f" stop-opacity="0.00"/><stop offset="0.775" stop-color="#5b4a9f" stop-opacity="0.00"/><stop offset="0.800" stop-color="#5b4a9f" stop-opacity="0.00"/><stop offset="0.825" stop-color="#5b4a9f" stop-opacity="0.00"/><stop offset="0.850" stop-color="#5b4a9f" stop-opacity="0.00"/><stop offset="0.875" stop-color="#5b4a9f" stop-opacity="0.00"/><stop offset="0.900" stop-color="#5b4a9f" stop-opacity="0.00"/><stop offset="0.925" stop-color="#5b4a9f" stop-opacity="0.00"/><stop offset="0.950" stop-color="#5b4a9f" stop-opacity="0.00"/><stop offset="0.975" stop-color="#5b4a9f" stop-opacity="0.00"/><stop offset="1.000" stop-color="#5b4a9f" stop-opacity="0.00"/></linearGradient><clipPath id="cp4"><rect x="34.20" y="547.60" width="211.10" height="211.20"/></clipPath></defs><g clip-path="url(#cp4)" fill="none"><path d="M34.20 758.80L245.30 547.60" stroke="url(#g4_0)" stroke-width="0.75"/><path d="M33.71 758.31L244.81 547.11" stroke="url(#g4_1)" stroke-width="0.75"/><path d="M33.21 757.81L244.31 546.61" stroke="url(#g4_2)" stroke-width="0.75"/><path d="M32.72 757.32L243.82 546.12" stroke="url(#g4_3)" stroke-width="0.75"/><path d="M32.22 756.82L243.32 545.62" stroke="url(#g4_4)" stroke-width="0.75"/></g>
<path d="M34.20 758.80L245.30 547.60" stroke="#1a1a1a" stroke-opacity="0.85" stroke-width="1.1" fill="none"/>
<path d="M60.59 758.80v-3.5M60.59 547.60v3.5M34.20 732.40h3.5M245.30 732.40h-3.5M86.98 758.80v-3.5M86.98 547.60v3.5M34.20 706.00h3.5M245.30 706.00h-3.5M113.36 758.80v-3.5M113.36 547.60v3.5M34.20 679.60h3.5M245.30 679.60h-3.5M139.75 758.80v-3.5M139.75 547.60v3.5M34.20 653.20h3.5M245.30 653.20h-3.5M166.14 758.80v-3.5M166.14 547.60v3.5M34.20 626.80h3.5M245.30 626.80h-3.5M192.53 758.80v-3.5M192.53 547.60v3.5M34.20 600.40h3.5M245.30 600.40h-3.5M218.91 758.80v-3.5M218.91 547.60v3.5M34.20 574.00h3.5M245.30 574.00h-3.5" stroke="#505050" stroke-width="0.8" fill="none"/>
<rect x="34.20" y="547.60" width="211.10" height="211.20" fill="none" stroke="#505050" stroke-width="1.1"/>
<text x="34.20" y="767.00" font-family="Liberation Sans" font-size="7.2" fill="#111" stroke="#111" stroke-width="0.2" text-anchor="middle">0</text>
<text x="31.20" y="760.70" font-family="Liberation Sans" font-size="7.2" fill="#111" stroke="#111" stroke-width="0.2" text-anchor="end">0</text>
<text x="60.59" y="767.00" font-family="Liberation Sans" font-size="7.2" fill="#111" stroke="#111" stroke-width="0.2" text-anchor="middle">5</text>
<text x="31.20" y="734.30" font-family="Liberation Sans" font-size="7.2" fill="#111" stroke="#111" stroke-width="0.2" text-anchor="end">5</text>
<text x="86.98" y="767.00" font-family="Liberation Sans" font-size="7.2" fill="#111" stroke="#111" stroke-width="0.2" text-anchor="middle">10</text>
<text x="31.20" y="707.90" font-family="Liberation Sans" font-size="7.2" fill="#111" stroke="#111" stroke-width="0.2" text-anchor="end">10</text>
<text x="113.36" y="767.00" font-family="Liberation Sans" font-size="7.2" fill="#111" stroke="#111" stroke-width="0.2" text-anchor="middle">15</text>
<text x="31.20" y="681.50" font-family="Liberation Sans" font-size="7.2" fill="#111" stroke="#111" stroke-width="0.2" text-anchor="end">15</text>
<text x="139.75" y="767.00" font-family="Liberation Sans" font-size="7.2" fill="#111" stroke="#111" stroke-width="0.2" text-anchor="middle">20</text>
<text x="31.20" y="655.10" font-family="Liberation Sans" font-size="7.2" fill="#111" stroke="#111" stroke-width="0.2" text-anchor="end">20</text>
<text x="166.14" y="767.00" font-family="Liberation Sans" font-size="7.2" fill="#111" stroke="#111" stroke-width="0.2" text-anchor="middle">25</text>
<text x="31.20" y="628.70" font-family="Liberation Sans" font-size="7.2" fill="#111" stroke="#111" stroke-width="0.2" text-anchor="end">25</text>
<text x="192.53" y="767.00" font-family="Liberation Sans" font-size="7.2" fill="#111" stroke="#111" stroke-width="0.2" text-anchor="middle">30</text>
<text x="31.20" y="602.30" font-family="Liberation Sans" font-size="7.2" fill="#111" stroke="#111" stroke-width="0.2" text-anchor="end">30</text>
<text x="218.91" y="767.00" font-family="Liberation Sans" font-size="7.2" fill="#111" stroke="#111" stroke-width="0.2" text-anchor="middle">35</text>
<text x="31.20" y="575.90" font-family="Liberation Sans" font-size="7.2" fill="#111" stroke="#111" stroke-width="0.2" text-anchor="end">35</text>
<text x="245.30" y="767.00" font-family="Liberation Sans" font-size="7.2" fill="#111" stroke="#111" stroke-width="0.2" text-anchor="middle">40</text>
<text x="31.20" y="549.50" font-family="Liberation Sans" font-size="7.2" fill="#111" stroke="#111" stroke-width="0.2" text-anchor="end">40</text>
<rect x="260.70" y="547.40" width="10.40" height="211.40" fill="url(#cm)" stroke="#505050" stroke-width="0.9"/>
<text x="273.70" y="592.10" font-family="Liberation Serif" font-size="8.6" fill="#111" stroke="#111" stroke-width="0.15">10<tspan font-size="5.8" dx="0.4" dy="-2.7">4</tspan></text>
<text x="273.70" y="634.50" font-family="Liberation Serif" font-size="8.6" fill="#111" stroke="#111" stroke-width="0.15">10<tspan font-size="5.8" dx="0.4" dy="-2.7">3</tspan></text>
<text x="273.70" y="677.00" font-family="Liberation Serif" font-size="8.6" fill="#111" stroke="#111" stroke-width="0.15">10<tspan font-size="5.8" dx="0.4" dy="-2.7">2</tspan></text>
<text x="273.70" y="719.30" font-family="Liberation Serif" font-size="8.6" fill="#111" stroke="#111" stroke-width="0.15">10<tspan font-size="5.8" dx="0.4" dy="-2.7">1</tspan></text>
<text x="273.70" y="761.10" font-family="Liberation Serif" font-size="8.6" fill="#111" stroke="#111" stroke-width="0.15">10<tspan font-size="5.8" dx="0.4" dy="-2.7">0</tspan></text>
<path d="M271.10 589.10h-2.5M271.10 631.50h-2.5M271.10 674.00h-2.5M271.10 716.30h-2.5M271.10 758.10h-2.5" stroke="#333" stroke-width="0.8" fill="none"/>
<text x="166.90" y="753.20" font-family="Liberation Serif" font-size="21" fill="#111">N<tspan font-size="13.7" dy="3.5">c</tspan><tspan dy="-3.5">=15M</tspan></text>
<g transform="translate(130.75,772.60)"><path d="M9.0 5.0C8.5 7.0 6.5 9.4 4.5 9.3C2.0 9.2 0.6 7.4 0.9 5.3C1.3 2.8 4.5 0.6 9.0 0.3C12.0 0.1 14.6 0.6 14.4 2.3C14.2 3.4 12.8 3.9 11.2 3.9M10.2 1.6L10.6 4.1M8.6 4.6L13.5 9.5M4.8 6.6C5.3 5.0 6.8 4.0 8.6 4.6" stroke="#1a1a1a" stroke-width="1.0" fill="none" stroke-linecap="round"/><text x="16.4" y="2.4" font-family="Liberation Serif" font-size="9" fill="#222">2</text><text x="15.0" y="13.4" font-family="Liberation Serif" font-style="italic" font-size="10.5" fill="#222">b</text></g>
<g transform="translate(6.20,662.20) rotate(-90)"><path d="M9.0 5.0C8.5 7.0 6.5 9.4 4.5 9.3C2.0 9.2 0.6 7.4 0.9 5.3C1.3 2.8 4.5 0.6 9.0 0.3C12.0 0.1 14.6 0.6 14.4 2.3C14.2 3.4 12.8 3.9 11.2 3.9M10.2 1.6L10.6 4.1M8.6 4.6L13.5 9.5M4.8 6.6C5.3 5.0 6.8 4.0 8.6 4.6" stroke="#1a1a1a" stroke-width="1.0" fill="none" stroke-linecap="round"/><text x="16.4" y="2.0" font-family="Liberation Serif" font-size="9" fill="#222">2</text><text x="15.0" y="13.4" font-family="Liberation Serif" font-style="italic" font-size="10.5" fill="#222">d</text></g>
<path d="M376.50 548.50V758.90M350.00 732.50H560.10M402.50 548.50V758.90M350.00 706.50H560.10M428.50 548.50V758.90M350.00 680.50H560.10M455.50 548.50V758.90M350.00 653.50H560.10M481.50 548.50V758.90M350.00 627.50H560.10M507.50 548.50V758.90M350.00 601.50H560.10M533.50 548.50V758.90M350.00 574.50H560.10" stroke="#bcbcbc" stroke-width="1" stroke-dasharray="1 1.25" fill="none"/>
<defs><clipPath id="cq5"><polygon points="350.00,548.50 350.00,759.30 560.50,548.50"/></clipPath></defs><g clip-path="url(#cq5)"><g transform="translate(350.00,758.90) scale(1.5)" fill="none" stroke-width="1" shape-rendering="crispEdges"><path d="M0 -0.5h1" stroke="#62baae"/><path d="M1 -0.5h1" stroke="#5ebab2"/><path d="M0.5 -1.5h2" stroke="#52b6b6"/><path d="M0 -2.5h2M4 -4.5h1" stroke="#32aec2"/><path d="M2 -2.5h1" stroke="#42b6be"/><path d="M3 -2.5h1" stroke="#46b6ba"/><path d="M0.5 -3.5h1M3.5 -3.5h1" stroke="#2eaec2"/><path d="M1.5 -3.5h1" stroke="#2aaec6"/><path d="M2.5 -3.5h1" stroke="#36b2be"/><path d="M0 -4.5h2M0.5 -5.5h1M4.5 -5.5h1" stroke="#22a2ca"/><path d="M2 -4.5h1M2.5 -5.5h1M3.5 -7.5h1M4 -8.5h1" stroke="#22a6ca"/><path d="M3 -4.5h1" stroke="#2aaac6"/><path d="M5 -4.5h1" stroke="#26aac6"/><path d="M1.5 -5.5h1" stroke="#22aaca"/><path d="M3.5 -5.5h1M5.5 -7.5h1M5.5 -9.5h1" stroke="#269eca"/><path d="M5.5 -5.5h1M2 -6.5h1" stroke="#229eca"/><path d="M0 -6.5h1M0.5 -7.5h1M2.5 -7.5h1M4.5 -9.5h1M8.5 -9.5h1M31 -30.5h1" stroke="#2a8ec6"/><path d="M1 -6.5h1M2.5 -9.5h1" stroke="#2696c6"/><path d="M3 -6.5h1M6 -8.5h2M9 -8.5h1M3.5 -9.5h1M9 -10.5h1M9.5 -13.5h1M11 -14.5h1M16 -18.5h1M29 -28.5h1M35 -34.5h1" stroke="#3682be"/><path d="M4 -6.5h2M7 -6.5h1M7.5 -7.5h1M19.5 -21.5h1" stroke="#2e8ac2"/><path d="M6 -6.5h1M3 -8.5h1" stroke="#269aca"/><path d="M1.5 -7.5h1M6.5 -7.5h1M6.5 -9.5h1M30.5 -31.5h1" stroke="#2a92c6"/><path d="M4.5 -7.5h1M8 -12.5h1M33 -32.5h1" stroke="#3286c2"/><path d="M0 -8.5h1M10 -10.5h1M11.5 -11.5h1M1 -12.5h1M7 -12.5h1M5.5 -13.5h1M5 -14.5h1M7 -14.5h3M13 -14.5h3M7.5 -15.5h1M15.5 -15.5h1M1 -18.5h1M13 -18.5h1M14.5 -19.5h1M16.5 -19.5h1M16 -20.5h1M16.5 -21.5h1M14.5 -23.5h1M19.5 -23.5h1M22.5 -23.5h1M13 -24.5h1M21.5 -27.5h1M32.5 -33.5h1M34 -34.5h1M34.5 -35.5h1M36 -36.5h2M37 -38.5h1M44 -44.5h1" stroke="#3e5eaa"/><path d="M1 -8.5h2M8 -8.5h1M9.5 -9.5h1M5 -10.5h1M4.5 -11.5h1M6 -12.5h1M12 -12.5h1M12.5 -15.5h1M20.5 -23.5h2M21.5 -25.5h1M23.5 -25.5h1" stroke="#367eba"/><path d="M5 -8.5h1M1.5 -9.5h1M6 -10.5h1M8 -10.5h1M8.5 -13.5h1M10 -14.5h1M11.5 -15.5h1M11 -16.5h1M14.5 -17.5h1M23 -24.5h1M27 -28.5h1M26.5 -29.5h1" stroke="#3676ba"/><path d="M0.5 -9.5h1M7.5 -9.5h1M3 -10.5h1M7 -10.5h1M11 -10.5h1M3.5 -11.5h1M6.5 -11.5h2M6 -14.5h1M13 -16.5h1M20 -22.5h1M25 -26.5h1M28.5 -29.5h1M30 -30.5h1M32 -32.5h1M39 -38.5h1M38.5 -39.5h1M39 -40.5h1" stroke="#3a72b6"/><path d="M0 -10.5h2M0.5 -11.5h3M8.5 -11.5h2M3 -12.5h2M10 -12.5h1M3.5 -13.5h2M6.5 -13.5h2M10.5 -13.5h1M4 -14.5h1M12 -14.5h1M3.5 -15.5h1M6.5 -15.5h1M10.5 -15.5h1M5 -16.5h1M1.5 -17.5h1M10.5 -17.5h1M12.5 -17.5h1M17.5 -17.5h1M12 -18.5h1M15 -18.5h1M18 -18.5h1M15.5 -19.5h1M19.5 -19.5h1M14 -20.5h2M19 -20.5h1M4.5 -21.5h1M12.5 -21.5h3M18.5 -21.5h1M18 -22.5h2M23.5 -23.5h1M25 -24.5h1M20.5 -25.5h1M23 -26.5h2M26.5 -27.5h1M26 -28.5h1M6.5 -29.5h1M27.5 -29.5h1M29.5 -29.5h1M26 -30.5h1M29 -30.5h1M23.5 -31.5h1M29 -32.5h2M33.5 -33.5h1M33 -34.5h1M34 -36.5h1M36 -38.5h1M41 -40.5h1M38.5 -41.5h2M41 -42.5h1M45 -44.5h1M46.5 -47.5h1M48.5 -49.5h1M50 -50.5h1M52 -52.5h1M54 -54.5h1" stroke="#4256a6"/><path d="M2 -10.5h1M10.5 -11.5h1M5 -12.5h1M9 -12.5h1M13 -12.5h1M1.5 -13.5h1M12.5 -13.5h2M12 -16.5h1M15 -16.5h1M16.5 -17.5h1M18.5 -19.5h1M17 -20.5h2M20 -24.5h2M22.5 -25.5h1M22 -26.5h1M24.5 -27.5h2M28 -28.5h1M31 -32.5h1M35.5 -35.5h1M39.5 -39.5h1M46 -46.5h2" stroke="#3e6ab2"/><path d="M4 -10.5h1M5.5 -11.5h1M0 -12.5h1M5.5 -15.5h1M8.5 -15.5h2M14 -16.5h1M7.5 -17.5h1M11.5 -17.5h1M13.5 -17.5h1M6 -18.5h1M14 -18.5h1M19 -18.5h1M6.5 -19.5h1M9.5 -19.5h1M4 -20.5h1M6 -20.5h1M11 -20.5h1M21 -20.5h1M17.5 -21.5h1M20.5 -21.5h1M3 -22.5h1M7 -22.5h2M13 -22.5h1M22 -22.5h1M2.5 -23.5h1M4.5 -23.5h1M7.5 -23.5h1M11.5 -23.5h1M15.5 -23.5h3M2 -24.5h1M9 -24.5h2M18 -24.5h1M22 -24.5h1M13.5 -25.5h1M17.5 -25.5h1M25.5 -25.5h1M5 -26.5h1M11.5 -27.5h1M8 -28.5h2M11 -28.5h1M21 -28.5h1M25 -28.5h1M17.5 -29.5h1M25.5 -29.5h1M11 -30.5h1M17 -30.5h1M21 -30.5h1M10.5 -31.5h1M25.5 -31.5h1M27.5 -31.5h1M29.5 -31.5h1M31.5 -31.5h1M27 -32.5h1M28.5 -33.5h1M30.5 -33.5h2M31 -34.5h1M25.5 -35.5h1M32.5 -35.5h2M11 -36.5h1M35 -36.5h1M32.5 -37.5h1M34.5 -37.5h1M36.5 -37.5h1M34 -38.5h1M16.5 -39.5h1M30 -40.5h1M38 -40.5h1M34.5 -41.5h1M40.5 -41.5h2M26 -42.5h1M40 -42.5h1M42 -42.5h1M26.5 -43.5h1M38.5 -43.5h1M42.5 -43.5h1M43.5 -45.5h1M45 -46.5h1M45.5 -47.5h1M47 -48.5h2M51 -50.5h1M47.5 -51.5h1M50.5 -51.5h1M54.5 -55.5h1M55 -56.5h1M57.5 -59.5h1M60 -60.5h2M64 -64.5h1M65.5 -65.5h1M67 -66.5h1M66.5 -67.5h2M68.5 -69.5h1M94 -94.5h1" stroke="#4a4ea2"/><path d="M2 -12.5h1M11.5 -13.5h1M1 -14.5h1M3 -14.5h1M1.5 -15.5h1M13.5 -15.5h2M0 -16.5h1M2 -16.5h2M8 -16.5h3M17 -16.5h1M2.5 -17.5h5M8.5 -17.5h2M2 -18.5h1M4 -18.5h1M8 -18.5h1M11 -18.5h1M17 -18.5h1M0.5 -19.5h2M3.5 -19.5h1M12.5 -19.5h2M1 -20.5h1M5 -20.5h1M8 -20.5h2M13 -20.5h1M3.5 -21.5h1M5.5 -21.5h3M9.5 -21.5h2M15.5 -21.5h1M21.5 -21.5h1M4 -22.5h1M6 -22.5h1M10 -22.5h2M14 -22.5h3M21 -22.5h1M23 -22.5h1M0.5 -23.5h1M5.5 -23.5h1M10.5 -23.5h1M18.5 -23.5h1M0 -24.5h2M4 -24.5h2M8 -24.5h1M14 -24.5h4M19 -24.5h1M9.5 -25.5h1M11.5 -25.5h1M15.5 -25.5h2M1 -26.5h1M3 -26.5h1M6 -26.5h2M10 -26.5h2M14 -26.5h1M18 -26.5h3M27 -26.5h1M2.5 -27.5h1M6.5 -27.5h1M8.5 -27.5h1M10.5 -27.5h1M12.5 -27.5h1M16.5 -27.5h2M20.5 -27.5h1M22.5 -27.5h2M1 -28.5h1M13 -28.5h1M19 -28.5h2M23 -28.5h1M2.5 -29.5h1M4.5 -29.5h2M10.5 -29.5h1M13.5 -29.5h3M21.5 -29.5h1M24.5 -29.5h1M0 -30.5h2M4 -30.5h1M6 -30.5h1M10 -30.5h1M15 -30.5h1M18 -30.5h2M22 -30.5h2M25 -30.5h1M4.5 -31.5h1M6.5 -31.5h3M14.5 -31.5h1M16.5 -31.5h3M9 -32.5h1M19 -32.5h1M24 -32.5h2M2.5 -33.5h1M6.5 -33.5h1M10.5 -33.5h2M16.5 -33.5h1M21.5 -33.5h1M23.5 -33.5h1M25.5 -33.5h3M7 -34.5h1M10 -34.5h2M13 -34.5h1M17 -34.5h1M23 -34.5h2M28 -34.5h1M32 -34.5h1M2.5 -35.5h2M5.5 -35.5h1M9.5 -35.5h1M11.5 -35.5h1M15.5 -35.5h1M29.5 -35.5h2M2 -36.5h1M8 -36.5h2M30 -36.5h1M32 -36.5h1M13.5 -37.5h1M18.5 -37.5h1M23.5 -37.5h1M25.5 -37.5h1M31.5 -37.5h1M33.5 -37.5h1M37.5 -37.5h1M2 -38.5h1M6 -38.5h1M15 -38.5h1M28 -38.5h1M30 -38.5h1M38 -38.5h1M11.5 -39.5h1M19.5 -39.5h1M24.5 -39.5h2M31.5 -39.5h2M36.5 -39.5h2M3 -40.5h1M5 -40.5h2M9 -40.5h2M19 -40.5h1M21 -40.5h1M26 -40.5h1M32 -40.5h1M35 -40.5h2M40 -40.5h1M6.5 -41.5h1M10.5 -41.5h1M13.5 -41.5h1M16.5 -41.5h1M20.5 -41.5h1M24.5 -41.5h3M36.5 -41.5h2M6 -42.5h1M12 -42.5h1M14 -42.5h1M23 -42.5h1M39 -42.5h1M43 -42.5h1M12.5 -43.5h1M16.5 -43.5h2M25.5 -43.5h1M27.5 -43.5h1M33.5 -43.5h1M35.5 -43.5h1M40.5 -43.5h2M2 -44.5h1M5 -44.5h1M14 -44.5h1M42 -44.5h2M4.5 -45.5h1M7.5 -45.5h1M16.5 -45.5h1M21.5 -45.5h1M28.5 -45.5h1M33.5 -45.5h2M39.5 -45.5h1M44.5 -45.5h2M17 -46.5h1M31 -46.5h1M34 -46.5h1M43 -46.5h2M10.5 -47.5h1M12.5 -47.5h1M21.5 -47.5h1M33.5 -47.5h1M42.5 -47.5h1M7 -48.5h1M12 -48.5h1M19 -48.5h1M28 -48.5h1M31 -48.5h1M41 -48.5h1M49 -48.5h1M14.5 -49.5h3M20.5 -49.5h2M47.5 -49.5h1M49.5 -49.5h1M37 -50.5h1M40 -50.5h1M47 -50.5h1M0.5 -51.5h1M37.5 -51.5h1M39.5 -51.5h1M43.5 -51.5h1M48.5 -51.5h1M14 -52.5h1M19 -52.5h1M25 -52.5h1M41 -52.5h1M43 -52.5h2M51 -52.5h1M7.5 -53.5h1M26.5 -53.5h1M34.5 -53.5h1M39.5 -53.5h1M51.5 -53.5h1M53.5 -53.5h1M18 -54.5h2M45 -54.5h1M55 -54.5h1M23.5 -55.5h1M26.5 -55.5h1M28.5 -55.5h1M47.5 -55.5h1M50.5 -55.5h1M53.5 -55.5h1M55.5 -55.5h1M19 -56.5h1M47 -56.5h1M52 -56.5h1M4.5 -57.5h1M22.5 -57.5h1M25.5 -57.5h1M42.5 -57.5h1M51.5 -57.5h1M17 -58.5h1M38 -58.5h1M50 -58.5h2M58 -58.5h1M9.5 -59.5h1M54.5 -59.5h2M58.5 -59.5h1M0 -60.5h1M31 -60.5h1M45 -60.5h1M47 -60.5h1M52 -60.5h1M57 -60.5h1M33.5 -61.5h1M60.5 -61.5h1M37 -62.5h1M46 -62.5h1M62 -62.5h2M24.5 -63.5h1M61.5 -63.5h1M3 -64.5h1M11 -64.5h1M65 -64.5h1M37.5 -65.5h1M20 -66.5h1M36 -66.5h1M50 -66.5h1M62 -66.5h1M13.5 -67.5h1M15.5 -67.5h1M59.5 -67.5h1M65.5 -67.5h1M26 -68.5h1M48 -68.5h1M66 -68.5h1M69 -68.5h1M30.5 -69.5h1M62.5 -69.5h1M66.5 -69.5h1M69.5 -69.5h1M28 -70.5h1M69.5 -71.5h1M65 -72.5h1M72 -72.5h1M10.5 -73.5h1M29.5 -73.5h1M40.5 -73.5h1M60 -74.5h1M73 -74.5h1M73.5 -75.5h2M34 -76.5h1M65 -76.5h1M67 -76.5h1M76 -76.5h2M21.5 -77.5h1M28.5 -77.5h1M49.5 -77.5h1M76.5 -77.5h1M24 -78.5h1M61.5 -79.5h1M78.5 -79.5h1M60 -80.5h1M74 -80.5h1M76 -80.5h1M81 -80.5h1M79.5 -81.5h1M34 -82.5h1M36 -82.5h1M76 -82.5h1M82 -82.5h2M11 -84.5h1M81 -84.5h1M85 -84.5h1M52.5 -85.5h1M85.5 -85.5h1M45 -86.5h1M85 -86.5h1M41.5 -87.5h1M76.5 -87.5h1M25 -88.5h1M79.5 -89.5h1M87.5 -89.5h1M5.5 -91.5h1M92 -92.5h1M32.5 -93.5h1M91.5 -93.5h1M93.5 -93.5h1M95 -94.5h1M88.5 -95.5h1M93.5 -95.5h1M44 -96.5h1M47 -96.5h1M96 -96.5h1M22.5 -97.5h1M57.5 -97.5h1M79.5 -97.5h1M74.5 -99.5h1M8 -100.5h1M43.5 -101.5h1M103.5 -103.5h1M103 -104.5h1M105 -104.5h1M105.5 -105.5h1M21.5 -107.5h1M86 -108.5h1M105 -108.5h1M108.5 -109.5h1M105 -110.5h1M109 -110.5h1M18.5 -111.5h1M86.5 -111.5h1M111.5 -111.5h1M99 -112.5h1M63 -114.5h1M112 -114.5h1M66.5 -117.5h1M116.5 -119.5h1M121 -120.5h1M73.5 -121.5h1M96 -122.5h1M9 -124.5h1M122.5 -127.5h1M30.5 -129.5h1M95.5 -135.5h1M107.5 -137.5h1M139.5 -139.5h1" stroke="#5a4a9e"/></g></g>
<defs><linearGradient id="g5_0" gradientUnits="userSpaceOnUse" x1="350.00" y1="758.90" x2="560.10" y2="548.50"><stop offset="0.000" stop-color="#e02e32" stop-opacity="1.00"/><stop offset="0.025" stop-color="#90c695" stop-opacity="1.00"/><stop offset="0.050" stop-color="#72bda7" stop-opacity="1.00"/><stop offset="0.075" stop-color="#57b7b3" stop-opacity="1.00"/><stop offset="0.100" stop-color="#3bb2be" stop-opacity="1.00"/><stop offset="0.125" stop-color="#22a7c8" stop-opacity="1.00"/><stop offset="0.150" stop-color="#249ac8" stop-opacity="1.00"/><stop offset="0.175" stop-color="#2c8dc3" stop-opacity="1.00"/><stop offset="0.200" stop-color="#357ebc" stop-opacity="1.00"/><stop offset="0.225" stop-color="#3a6eb3" stop-opacity="0.31"/><stop offset="0.250" stop-color="#3f60ac" stop-opacity="0.00"/><stop offset="0.275" stop-color="#4257a7" stop-opacity="0.00"/><stop offset="0.300" stop-color="#4750a3" stop-opacity="0.00"/><stop offset="0.325" stop-color="#4c4ca1" stop-opacity="0.00"/><stop offset="0.350" stop-color="#5148a0" stop-opacity="0.00"/><stop offset="0.375" stop-color="#56499f" stop-opacity="0.00"/><stop offset="0.400" stop-color="#594a9f" stop-opacity="0.00"/><stop offset="0.425" stop-color="#5b4a9f" stop-opacity="0.00"/><stop offset="0.450" stop-color="#5b4a9f" stop-opacity="0.00"/><stop offset="0.475" stop-color="#5b4a9f" stop-opacity="0.00"/><stop offset="0.500" stop-color="#5b4a9f" stop-opacity="0.00"/><stop offset="0.525" stop-color="#5b4a9f" stop-opacity="0.00"/><stop offset="0.550" stop-color="#5b4a9f" stop-opacity="0.00"/><stop offset="0.575" stop-color="#5b4a9f" stop-opacity="0.00"/><stop offset="0.600" stop-color="#5b4a9f" stop-opacity="0.00"/><stop offset="0.625" stop-color="#5b4a9f" stop-opacity="0.00"/><stop offset="0.650" stop-color="#5b4a9f" stop-opacity="0.00"/><stop offset="0.675" stop-color="#5b4a9f" stop-opacity="0.00"/><stop offset="0.700" stop-color="#5b4a9f" stop-opacity="0.00"/><stop offset="0.725" stop-color="#5b4a9f" stop-opacity="0.00"/><stop offset="0.750" stop-color="#5b4a9f" stop-opacity="0.00"/><stop offset="0.775" stop-color="#5b4a9f" stop-opacity="0.00"/><stop offset="0.800" stop-color="#5b4a9f" stop-opacity="0.00"/><stop offset="0.825" stop-color="#5b4a9f" stop-opacity="0.00"/><stop offset="0.850" stop-color="#5b4a9f" stop-opacity="0.00"/><stop offset="0.875" stop-color="#5b4a9f" stop-opacity="0.00"/><stop offset="0.900" stop-color="#5b4a9f" stop-opacity="0.00"/><stop offset="0.925" stop-color="#5b4a9f" stop-opacity="0.00"/><stop offset="0.950" stop-color="#5b4a9f" stop-opacity="0.00"/><stop offset="0.975" stop-color="#5b4a9f" stop-opacity="0.00"/><stop offset="1.000" stop-color="#5b4a9f" stop-opacity="0.00"/></linearGradient><linearGradient id="g5_1" gradientUnits="userSpaceOnUse" x1="350.00" y1="758.90" x2="560.10" y2="548.50"><stop offset="0.000" stop-color="#e1453c" stop-opacity="1.00"/><stop offset="0.025" stop-color="#84c29d" stop-opacity="1.00"/><stop offset="0.050" stop-color="#63b9af" stop-opacity="1.00"/><stop offset="0.075" stop-color="#3eb3bd" stop-opacity="1.00"/><stop offset="0.100" stop-color="#24a9c7" stop-opacity="1.00"/><stop offset="0.125" stop-color="#249ac8" stop-opacity="1.00"/><stop offset="0.150" stop-color="#2e8ac2" stop-opacity="1.00"/><stop offset="0.175" stop-color="#367cbb" stop-opacity="0.96"/><stop offset="0.200" stop-color="#3b6db3" stop-opacity="0.24"/><stop offset="0.225" stop-color="#3f5fab" stop-opacity="0.00"/><stop offset="0.250" stop-color="#4453a4" stop-opacity="0.00"/><stop offset="0.275" stop-color="#494ea2" stop-opacity="0.00"/><stop offset="0.300" stop-color="#4e4aa1" stop-opacity="0.00"/><stop offset="0.325" stop-color="#5349a0" stop-opacity="0.00"/><stop offset="0.350" stop-color="#594a9f" stop-opacity="0.00"/><stop offset="0.375" stop-color="#5b4a9f" stop-opacity="0.00"/><stop offset="0.400" stop-color="#5b4a9f" stop-opacity="0.00"/><stop offset="0.425" stop-color="#5b4a9f" stop-opacity="0.00"/><stop offset="0.450" stop-color="#5b4a9f" stop-opacity="0.00"/><stop offset="0.475" stop-color="#5b4a9f" stop-opacity="0.00"/><stop offset="0.500" stop-color="#5b4a9f" stop-opacity="0.00"/><stop offset="0.525" stop-color="#5b4a9f" stop-opacity="0.00"/><stop offset="0.550" stop-color="#5b4a9f" stop-opacity="0.00"/><stop offset="0.575" stop-color="#5b4a9f" stop-opacity="0.00"/><stop offset="0.600" stop-color="#5b4a9f" stop-opacity="0.00"/><stop offset="0.625" stop-color="#5b4a9f" stop-opacity="0.00"/><stop offset="0.650" stop-color="#5b4a9f" stop-opacity="0.00"/><stop offset="0.675" stop-color="#5b4a9f" stop-opacity="0.00"/><stop offset="0.700" stop-color="#5b4a9f" stop-opacity="0.00"/><stop offset="0.725" stop-color="#5b4a9f" stop-opacity="0.00"/><stop offset="0.750" stop-color="#5b4a9f" stop-opacity="0.00"/><stop offset="0.775" stop-color="#5b4a9f" stop-opacity="0.00"/><stop offset="0.800" stop-color="#5b4a9f" stop-opacity="0.00"/><stop offset="0.825" stop-color="#5b4a9f" stop-opacity="0.00"/><stop offset="0.850" stop-color="#5b4a9f" stop-opacity="0.00"/><stop offset="0.875" stop-color="#5b4a9f" stop-opacity="0.00"/><stop offset="0.900" stop-color="#5b4a9f" stop-opacity="0.00"/><stop offset="0.925" stop-color="#5b4a9f" stop-opacity="0.00"/><stop offset="0.950" stop-color="#5b4a9f" stop-opacity="0.00"/><stop offset="0.975" stop-color="#5b4a9f" stop-opacity="0.00"/><stop offset="1.000" stop-color="#5b4a9f" stop-opacity="0.00"/></linearGradient><linearGradient id="g5_2" gradientUnits="userSpaceOnUse" x1="350.00" y1="758.90" x2="560.10" y2="548.50"><stop offset="0.000" stop-color="#e5684a" stop-opacity="1.00"/><stop offset="0.025" stop-color="#75bda6" stop-opacity="1.00"/><stop offset="0.050" stop-color="#49b5b9" stop-opacity="1.00"/><stop offset="0.075" stop-color="#26aac6" stop-opacity="1.00"/><stop offset="0.100" stop-color="#239cc8" stop-opacity="1.00"/><stop offset="0.125" stop-color="#2f8ac1" stop-opacity="1.00"/><stop offset="0.150" stop-color="#3779b9" stop-opacity="0.82"/><stop offset="0.175" stop-color="#3b6ab1" stop-opacity="0.12"/><stop offset="0.200" stop-color="#405eaa" stop-opacity="0.00"/><stop offset="0.225" stop-color="#4452a4" stop-opacity="0.00"/><stop offset="0.250" stop-color="#4b4ca2" stop-opacity="0.00"/><stop offset="0.275" stop-color="#5048a0" stop-opacity="0.00"/><stop offset="0.300" stop-color="#56499f" stop-opacity="0.00"/><stop offset="0.325" stop-color="#5b4a9f" stop-opacity="0.00"/><stop offset="0.350" stop-color="#5b4a9f" stop-opacity="0.00"/><stop offset="0.375" stop-color="#5b4a9f" stop-opacity="0.00"/><stop offset="0.400" stop-color="#5b4a9f" stop-opacity="0.00"/><stop offset="0.425" stop-color="#5b4a9f" stop-opacity="0.00"/><stop offset="0.450" stop-color="#5b4a9f" stop-opacity="0.00"/><stop offset="0.475" stop-color="#5b4a9f" stop-opacity="0.00"/><stop offset="0.500" stop-color="#5b4a9f" stop-opacity="0.00"/><stop offset="0.525" stop-color="#5b4a9f" stop-opacity="0.00"/><stop offset="0.550" stop-color="#5b4a9f" stop-opacity="0.00"/><stop offset="0.575" stop-color="#5b4a9f" stop-opacity="0.00"/><stop offset="0.600" stop-color="#5b4a9f" stop-opacity="0.00"/><stop offset="0.625" stop-color="#5b4a9f" stop-opacity="0.00"/><stop offset="0.650" stop-color="#5b4a9f" stop-opacity="0.00"/><stop offset="0.675" stop-color="#5b4a9f" stop-opacity="0.00"/><stop offset="0.700" stop-color="#5b4a9f" stop-opacity="0.00"/><stop offset="0.725" stop-color="#5b4a9f" stop-opacity="0.00"/><stop offset="0.750" stop-color="#5b4a9f" stop-opacity="0.00"/><stop offset="0.775" stop-color="#5b4a9f" stop-opacity="0.00"/><stop offset="0.800" stop-color="#5b4a9f" stop-opacity="0.00"/><stop offset="0.825" stop-color="#5b4a9f" stop-opacity="0.00"/><stop offset="0.850" stop-color="#5b4a9f" stop-opacity="0.00"/><stop offset="0.875" stop-color="#5b4a9f" stop-opacity="0.00"/><stop offset="0.900" stop-color="#5b4a9f" stop-opacity="0.00"/><stop offset="0.925" stop-color="#5b4a9f" stop-opacity="0.00"/><stop offset="0.950" stop-color="#5b4a9f" stop-opacity="0.00"/><stop offset="0.975" stop-color="#5b4a9f" stop-opacity="0.00"/><stop offset="1.000" stop-color="#5b4a9f" stop-opacity="0.00"/></linearGradient><linearGradient id="g5_3" gradientUnits="userSpaceOnUse" x1="350.00" y1="758.90" x2="560.10" y2="548.50"><stop offset="0.000" stop-color="#ec905c" stop-opacity="1.00"/><stop offset="0.025" stop-color="#63b9af" stop-opacity="1.00"/><stop offset="0.050" stop-color="#2fadc3" stop-opacity="1.00"/><stop offset="0.075" stop-color="#239dc8" stop-opacity="1.00"/><stop offset="0.100" stop-color="#2d8bc2" stop-opacity="1.00"/><stop offset="0.125" stop-color="#3778b8" stop-opacity="0.75"/><stop offset="0.150" stop-color="#3c67b0" stop-opacity="0.00"/><stop offset="0.175" stop-color="#415ba9" stop-opacity="0.00"/><stop offset="0.200" stop-color="#4551a4" stop-opacity="0.00"/><stop offset="0.225" stop-color="#4c4ba1" stop-opacity="0.00"/><stop offset="0.250" stop-color="#5349a0" stop-opacity="0.00"/><stop offset="0.275" stop-color="#584a9f" stop-opacity="0.00"/><stop offset="0.300" stop-color="#5b4a9f" stop-opacity="0.00"/><stop offset="0.325" stop-color="#5b4a9f" stop-opacity="0.00"/><stop offset="0.350" stop-color="#5b4a9f" stop-opacity="0.00"/><stop offset="0.375" stop-color="#5b4a9f" stop-opacity="0.00"/><stop offset="0.400" stop-color="#5b4a9f" stop-opacity="0.00"/><stop offset="0.425" stop-color="#5b4a9f" stop-opacity="0.00"/><stop offset="0.450" stop-color="#5b4a9f" stop-opacity="0.00"/><stop offset="0.475" stop-color="#5b4a9f" stop-opacity="0.00"/><stop offset="0.500" stop-color="#5b4a9f" stop-opacity="0.00"/><stop offset="0.525" stop-color="#5b4a9f" stop-opacity="0.00"/><stop offset="0.550" stop-color="#5b4a9f" stop-opacity="0.00"/><stop offset="0.575" stop-color="#5b4a9f" stop-opacity="0.00"/><stop offset="0.600" stop-color="#5b4a9f" stop-opacity="0.00"/><stop offset="0.625" stop-color="#5b4a9f" stop-opacity="0.00"/><stop offset="0.650" stop-color="#5b4a9f" stop-opacity="0.00"/><stop offset="0.675" stop-color="#5b4a9f" stop-opacity="0.00"/><stop offset="0.700" stop-color="#5b4a9f" stop-opacity="0.00"/><stop offset="0.725" stop-color="#5b4a9f" stop-opacity="0.00"/><stop offset="0.750" stop-color="#5b4a9f" stop-opacity="0.00"/><stop offset="0.775" stop-color="#5b4a9f" stop-opacity="0.00"/><stop offset="0.800" stop-color="#5b4a9f" stop-opacity="0.00"/><stop offset="0.825" stop-color="#5b4a9f" stop-opacity="0.00"/><stop offset="0.850" stop-color="#5b4a9f" stop-opacity="0.00"/><stop offset="0.875" stop-color="#5b4a9f" stop-opacity="0.00"/><stop offset="0.900" stop-color="#5b4a9f" stop-opacity="0.00"/><stop offset="0.925" stop-color="#5b4a9f" stop-opacity="0.00"/><stop offset="0.950" stop-color="#5b4a9f" stop-opacity="0.00"/><stop offset="0.975" stop-color="#5b4a9f" stop-opacity="0.00"/><stop offset="1.000" stop-color="#5b4a9f" stop-opacity="0.00"/></linearGradient><linearGradient id="g5_4" gradientUnits="userSpaceOnUse" x1="350.00" y1="758.90" x2="560.10" y2="548.50"><stop offset="0.000" stop-color="#dfab70" stop-opacity="1.00"/><stop offset="0.025" stop-color="#44b5ba" stop-opacity="1.00"/><stop offset="0.050" stop-color="#23a0c8" stop-opacity="1.00"/><stop offset="0.075" stop-color="#2d8bc2" stop-opacity="1.00"/><stop offset="0.100" stop-color="#3779b9" stop-opacity="0.80"/><stop offset="0.125" stop-color="#3d65af" stop-opacity="0.00"/><stop offset="0.150" stop-color="#4258a7" stop-opacity="0.00"/><stop offset="0.175" stop-color="#4750a3" stop-opacity="0.00"/><stop offset="0.200" stop-color="#4d4aa1" stop-opacity="0.00"/><stop offset="0.225" stop-color="#5449a0" stop-opacity="0.00"/><stop offset="0.250" stop-color="#5b4a9f" stop-opacity="0.00"/><stop offset="0.275" stop-color="#5b4a9f" stop-opacity="0.00"/><stop offset="0.300" stop-color="#5b4a9f" stop-opacity="0.00"/><stop offset="0.325" stop-color="#5b4a9f" stop-opacity="0.00"/><stop offset="0.350" stop-color="#5b4a9f" stop-opacity="0.00"/><stop offset="0.375" stop-color="#5b4a9f" stop-opacity="0.00"/><stop offset="0.400" stop-color="#5b4a9f" stop-opacity="0.00"/><stop offset="0.425" stop-color="#5b4a9f" stop-opacity="0.00"/><stop offset="0.450" stop-color="#5b4a9f" stop-opacity="0.00"/><stop offset="0.475" stop-color="#5b4a9f" stop-opacity="0.00"/><stop offset="0.500" stop-color="#5b4a9f" stop-opacity="0.00"/><stop offset="0.525" stop-color="#5b4a9f" stop-opacity="0.00"/><stop offset="0.550" stop-color="#5b4a9f" stop-opacity="0.00"/><stop offset="0.575" stop-color="#5b4a9f" stop-opacity="0.00"/><stop offset="0.600" stop-color="#5b4a9f" stop-opacity="0.00"/><stop offset="0.625" stop-color="#5b4a9f" stop-opacity="0.00"/><stop offset="0.650" stop-color="#5b4a9f" stop-opacity="0.00"/><stop offset="0.675" stop-color="#5b4a9f" stop-opacity="0.00"/><stop offset="0.700" stop-color="#5b4a9f" stop-opacity="0.00"/><stop offset="0.725" stop-color="#5b4a9f" stop-opacity="0.00"/><stop offset="0.750" stop-color="#5b4a9f" stop-opacity="0.00"/><stop offset="0.775" stop-color="#5b4a9f" stop-opacity="0.00"/><stop offset="0.800" stop-color="#5b4a9f" stop-opacity="0.00"/><stop offset="0.825" stop-color="#5b4a9f" stop-opacity="0.00"/><stop offset="0.850" stop-color="#5b4a9f" stop-opacity="0.00"/><stop offset="0.875" stop-color="#5b4a9f" stop-opacity="0.00"/><stop offset="0.900" stop-color="#5b4a9f" stop-opacity="0.00"/><stop offset="0.925" stop-color="#5b4a9f" stop-opacity="0.00"/><stop offset="0.950" stop-color="#5b4a9f" stop-opacity="0.00"/><stop offset="0.975" stop-color="#5b4a9f" stop-opacity="0.00"/><stop offset="1.000" stop-color="#5b4a9f" stop-opacity="0.00"/></linearGradient><clipPath id="cp5"><rect x="350.00" y="548.50" width="210.10" height="210.40"/></clipPath></defs><g clip-path="url(#cp5)" fill="none"><path d="M350.00 758.90L560.10 548.50" stroke="url(#g5_0)" stroke-width="0.75"/><path d="M349.51 758.41L559.61 548.01" stroke="url(#g5_1)" stroke-width="0.75"/><path d="M349.01 757.91L559.11 547.51" stroke="url(#g5_2)" stroke-width="0.75"/><path d="M348.52 757.42L558.62 547.02" stroke="url(#g5_3)" stroke-width="0.75"/><path d="M348.02 756.92L558.12 546.52" stroke="url(#g5_4)" stroke-width="0.75"/></g>
<path d="M350.00 758.90L560.10 548.50" stroke="#1a1a1a" stroke-opacity="0.85" stroke-width="1.1" fill="none"/>
<path d="M376.26 758.90v-3.5M376.26 548.50v3.5M350.00 732.60h3.5M560.10 732.60h-3.5M402.52 758.90v-3.5M402.52 548.50v3.5M350.00 706.30h3.5M560.10 706.30h-3.5M428.79 758.90v-3.5M428.79 548.50v3.5M350.00 680.00h3.5M560.10 680.00h-3.5M455.05 758.90v-3.5M455.05 548.50v3.5M350.00 653.70h3.5M560.10 653.70h-3.5M481.31 758.90v-3.5M481.31 548.50v3.5M350.00 627.40h3.5M560.10 627.40h-3.5M507.58 758.90v-3.5M507.58 548.50v3.5M350.00 601.10h3.5M560.10 601.10h-3.5M533.84 758.90v-3.5M533.84 548.50v3.5M350.00 574.80h3.5M560.10 574.80h-3.5" stroke="#505050" stroke-width="0.8" fill="none"/>
<rect x="350.00" y="548.50" width="210.10" height="210.40" fill="none" stroke="#505050" stroke-width="1.1"/>
<text x="350.00" y="767.10" font-family="Liberation Sans" font-size="7.2" fill="#111" stroke="#111" stroke-width="0.2" text-anchor="middle">0</text>
<text x="347.00" y="760.80" font-family="Liberation Sans" font-size="7.2" fill="#111" stroke="#111" stroke-width="0.2" text-anchor="end">0</text>
<text x="376.26" y="767.10" font-family="Liberation Sans" font-size="7.2" fill="#111" stroke="#111" stroke-width="0.2" text-anchor="middle">5</text>
<text x="347.00" y="734.50" font-family="Liberation Sans" font-size="7.2" fill="#111" stroke="#111" stroke-width="0.2" text-anchor="end">5</text>
<text x="402.52" y="767.10" font-family="Liberation Sans" font-size="7.2" fill="#111" stroke="#111" stroke-width="0.2" text-anchor="middle">10</text>
<text x="347.00" y="708.20" font-family="Liberation Sans" font-size="7.2" fill="#111" stroke="#111" stroke-width="0.2" text-anchor="end">10</text>
<text x="428.79" y="767.10" font-family="Liberation Sans" font-size="7.2" fill="#111" stroke="#111" stroke-width="0.2" text-anchor="middle">15</text>
<text x="347.00" y="681.90" font-family="Liberation Sans" font-size="7.2" fill="#111" stroke="#111" stroke-width="0.2" text-anchor="end">15</text>
<text x="455.05" y="767.10" font-family="Liberation Sans" font-size="7.2" fill="#111" stroke="#111" stroke-width="0.2" text-anchor="middle">20</text>
<text x="347.00" y="655.60" font-family="Liberation Sans" font-size="7.2" fill="#111" stroke="#111" stroke-width="0.2" text-anchor="end">20</text>
<text x="481.31" y="767.10" font-family="Liberation Sans" font-size="7.2" fill="#111" stroke="#111" stroke-width="0.2" text-anchor="middle">25</text>
<text x="347.00" y="629.30" font-family="Liberation Sans" font-size="7.2" fill="#111" stroke="#111" stroke-width="0.2" text-anchor="end">25</text>
<text x="507.58" y="767.10" font-family="Liberation Sans" font-size="7.2" fill="#111" stroke="#111" stroke-width="0.2" text-anchor="middle">30</text>
<text x="347.00" y="603.00" font-family="Liberation Sans" font-size="7.2" fill="#111" stroke="#111" stroke-width="0.2" text-anchor="end">30</text>
<text x="533.84" y="767.10" font-family="Liberation Sans" font-size="7.2" fill="#111" stroke="#111" stroke-width="0.2" text-anchor="middle">35</text>
<text x="347.00" y="576.70" font-family="Liberation Sans" font-size="7.2" fill="#111" stroke="#111" stroke-width="0.2" text-anchor="end">35</text>
<text x="560.10" y="767.10" font-family="Liberation Sans" font-size="7.2" fill="#111" stroke="#111" stroke-width="0.2" text-anchor="middle">40</text>
<text x="347.00" y="550.40" font-family="Liberation Sans" font-size="7.2" fill="#111" stroke="#111" stroke-width="0.2" text-anchor="end">40</text>
<rect x="575.50" y="548.50" width="10.30" height="210.50" fill="url(#cm)" stroke="#505050" stroke-width="0.9"/>
<text x="588.40" y="551.80" font-family="Liberation Serif" font-size="8.6" fill="#111" stroke="#111" stroke-width="0.15">10<tspan font-size="5.8" dx="0.4" dy="-2.7">5</tspan></text>
<text x="588.40" y="594.20" font-family="Liberation Serif" font-size="8.6" fill="#111" stroke="#111" stroke-width="0.15">10<tspan font-size="5.8" dx="0.4" dy="-2.7">4</tspan></text>
<text x="588.40" y="636.00" font-family="Liberation Serif" font-size="8.6" fill="#111" stroke="#111" stroke-width="0.15">10<tspan font-size="5.8" dx="0.4" dy="-2.7">3</tspan></text>
<text x="588.40" y="678.00" font-family="Liberation Serif" font-size="8.6" fill="#111" stroke="#111" stroke-width="0.15">10<tspan font-size="5.8" dx="0.4" dy="-2.7">2</tspan></text>
<text x="588.40" y="720.20" font-family="Liberation Serif" font-size="8.6" fill="#111" stroke="#111" stroke-width="0.15">10<tspan font-size="5.8" dx="0.4" dy="-2.7">1</tspan></text>
<text x="588.40" y="762.00" font-family="Liberation Serif" font-size="8.6" fill="#111" stroke="#111" stroke-width="0.15">10<tspan font-size="5.8" dx="0.4" dy="-2.7">0</tspan></text>
<path d="M585.80 548.80h-2.5M585.80 591.20h-2.5M585.80 633.00h-2.5M585.80 675.00h-2.5M585.80 717.20h-2.5M585.80 759.00h-2.5" stroke="#333" stroke-width="0.8" fill="none"/>
<text x="483.90" y="752.00" font-family="Liberation Serif" font-size="21" fill="#111">N<tspan font-size="13.7" dy="3.5">c</tspan><tspan dy="-3.5">=35M</tspan></text>
<g transform="translate(443.85,772.70)"><path d="M9.0 5.0C8.5 7.0 6.5 9.4 4.5 9.3C2.0 9.2 0.6 7.4 0.9 5.3C1.3 2.8 4.5 0.6 9.0 0.3C12.0 0.1 14.6 0.6 14.4 2.3C14.2 3.4 12.8 3.9 11.2 3.9M10.2 1.6L10.6 4.1M8.6 4.6L13.5 9.5M4.8 6.6C5.3 5.0 6.8 4.0 8.6 4.6" stroke="#1a1a1a" stroke-width="1.0" fill="none" stroke-linecap="round"/><text x="16.4" y="2.4" font-family="Liberation Serif" font-size="9" fill="#222">2</text><text x="15.0" y="13.4" font-family="Liberation Serif" font-style="italic" font-size="10.5" fill="#222">b</text></g>
<g transform="translate(323.20,661.90) rotate(-90)"><path d="M9.0 5.0C8.5 7.0 6.5 9.4 4.5 9.3C2.0 9.2 0.6 7.4 0.9 5.3C1.3 2.8 4.5 0.6 9.0 0.3C12.0 0.1 14.6 0.6 14.4 2.3C14.2 3.4 12.8 3.9 11.2 3.9M10.2 1.6L10.6 4.1M8.6 4.6L13.5 9.5M4.8 6.6C5.3 5.0 6.8 4.0 8.6 4.6" stroke="#1a1a1a" stroke-width="1.0" fill="none" stroke-linecap="round"/><text x="16.4" y="2.0" font-family="Liberation Serif" font-size="9" fill="#222">2</text><text x="15.0" y="13.4" font-family="Liberation Serif" font-style="italic" font-size="10.5" fill="#222">d</text></g>
</g></svg></body></html>
